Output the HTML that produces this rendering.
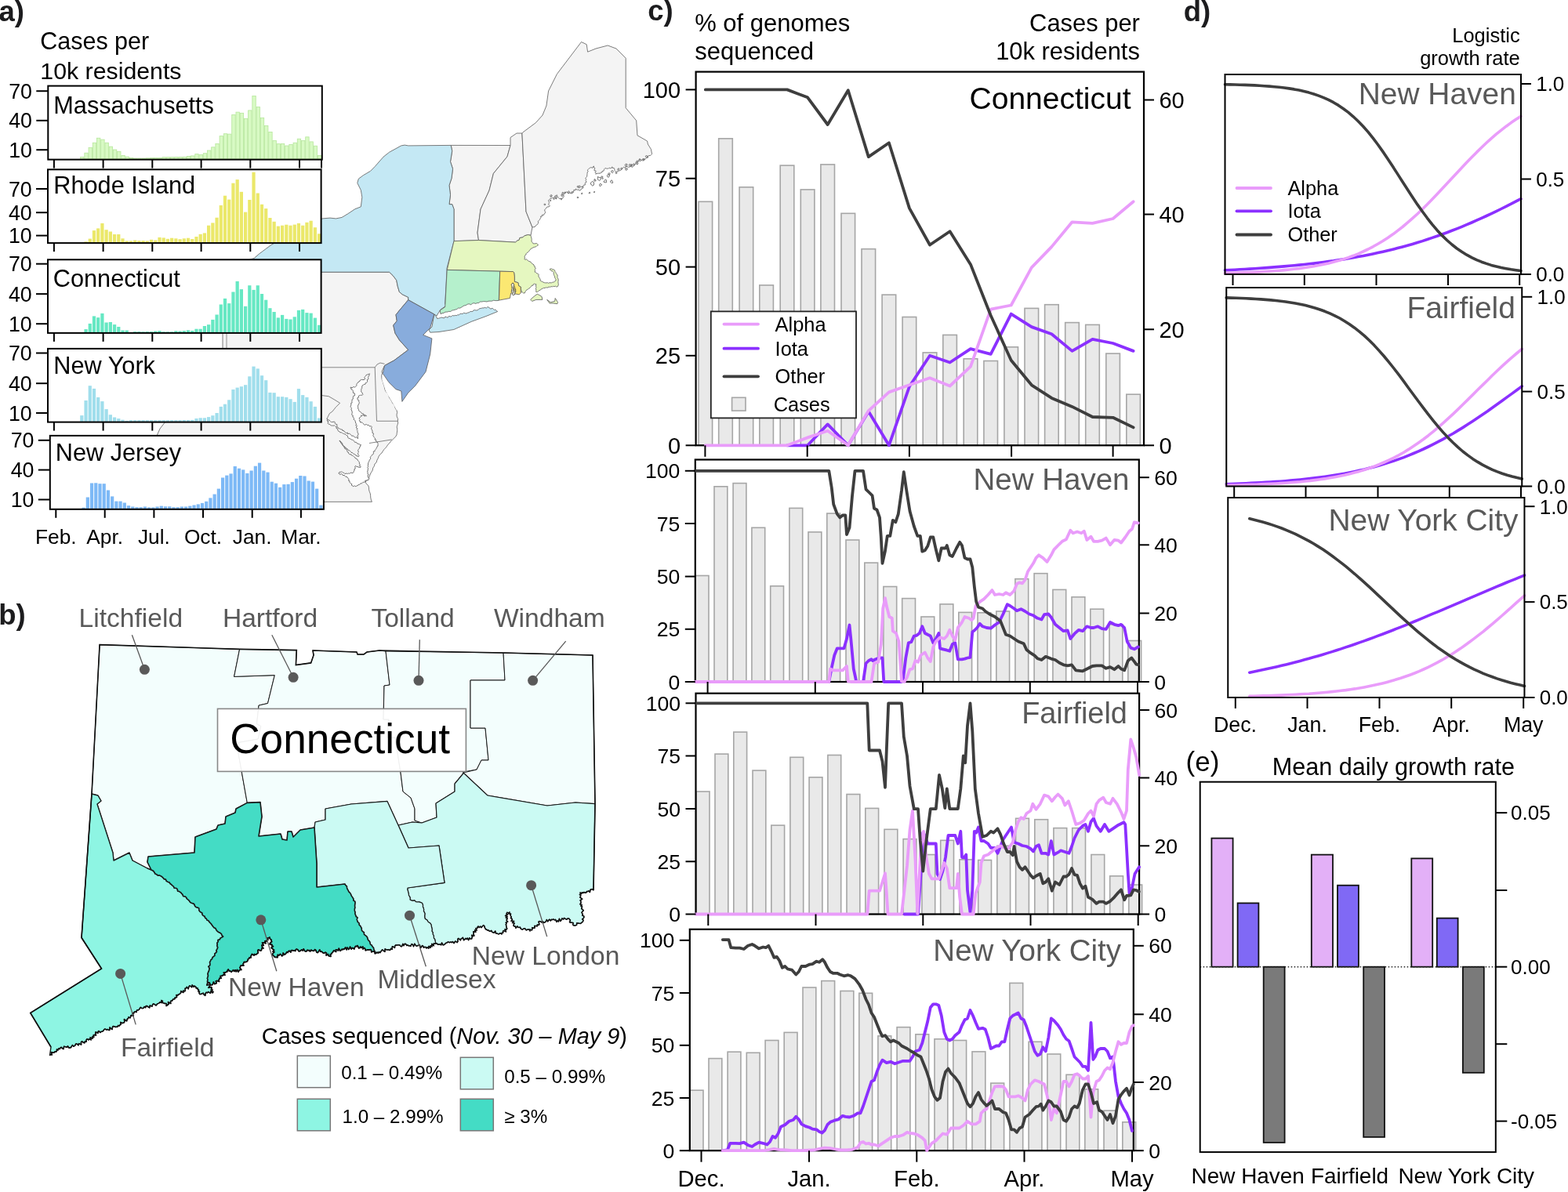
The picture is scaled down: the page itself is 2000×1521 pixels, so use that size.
<!DOCTYPE html>
<html><head><meta charset="utf-8"><title>Figure</title>
<style>html,body{margin:0;padding:0;background:#fff;overflow:hidden;} svg{display:block;} text{font-family:"Liberation Sans", Arial, Helvetica, sans-serif;}</style>
</head><body>
<svg width="2000" height="1521" viewBox="0 0 2000 1521">
<rect width="2000" height="1521" fill="#fff"/>
<polygon points="289.0,347.0 496.6,347.2 501.1,351.5 505.7,357.5 507.2,365.1 509.4,372.6 513.2,375.7 520.8,379.4 520.7,382.7 509.5,396.0 505.0,401.7 506.2,409.5 501.7,415.1 504.0,425.2 509.5,434.0 520.7,446.4 502.8,459.8 490.5,466.5 487.0,474.0 487.5,476.7 486.7,479.4 486.9,482.1 487.3,484.8 488.4,487.2 489.0,489.8 489.9,492.3 490.5,494.9 491.1,497.4 492.3,499.8 494.2,502.0 495.8,504.5 496.5,507.5 498.4,509.8 499.8,512.3 500.8,514.7 502.8,516.5 503.6,519.0 504.5,521.5 506.0,523.6 506.6,526.3 506.0,529.1 506.3,531.9 507.6,534.5 507.3,537.3 507.7,539.8 506.9,542.3 506.2,544.8 506.7,547.3 506.7,549.8 506.3,552.3 506.0,554.8 504.6,557.3 502.5,559.2 500.5,561.1 498.5,563.1 496.9,565.4 494.8,567.3 493.4,569.6 491.7,571.7 489.8,573.6 488.3,575.8 486.9,578.1 484.8,579.8 483.2,582.1 482.2,584.8 480.9,587.2 480.1,590.0 478.0,592.0 477.3,594.8 475.7,597.2 475.2,600.1 473.7,602.5 472.3,605.0 471.1,608.2 470.4,611.5 468.0,613.1 466.0,615.0 467.5,617.6 469.8,619.6 470.5,622.2 470.6,624.9 471.3,627.4 472.3,629.9 472.6,632.6 472.8,635.2 473.4,637.8 474.4,640.3 200.0,640.5 200.0,556.0 204.0,547.0 284.0,445.0 284.0,425.0 289.0,347.0" fill="#f4f4f4" stroke="#5a5a5a" stroke-width="0.8" stroke-linejoin="round"/>
<polyline points="200,468.8 478.2,468.8 480.5,537.3 507.3,537.3" fill="none" stroke="#6a6a6a" stroke-width="0.8"/>
<polyline points="478.2,468.8 481,465 485,463 490.5,464.3" fill="none" stroke="#6a6a6a" stroke-width="0.8"/>
<polyline points="289,425 289,445" fill="none" stroke="#7a7a7a" stroke-width="0.8"/>
<polygon points="471.6,476.9 470.5,477.3 469.3,477.7 468.2,478.2 467.1,478.5 466.4,479.8 465.5,480.7 464.8,481.6 465.8,483.3 464.6,484.0 464.1,485.0 463.0,484.2 461.8,484.7 460.6,484.3 459.5,485.0 459.1,486.3 457.8,486.7 457.2,487.9 456.0,488.4 455.4,489.3 454.8,490.3 455.1,491.7 454.2,492.5 453.5,493.4 452.6,494.2 451.4,493.6 450.2,493.9 449.2,495.1 447.9,494.1 446.8,494.7 448.0,495.4 448.0,496.9 449.5,497.4 450.3,498.4 450.3,499.9 450.5,501.4 452.3,501.9 452.6,503.4 452.5,504.8 450.7,505.3 450.3,506.6 450.3,508.0 450.3,509.2 448.8,510.1 449.2,511.4 448.7,512.5 449.2,513.9 447.6,514.6 448.0,516.0 447.7,517.1 447.2,518.3 447.3,519.5 448.4,520.6 448.2,521.8 448.0,522.9 448.8,524.0 449.0,525.1 449.3,526.2 449.1,527.4 448.7,528.7 449.1,529.8 450.4,530.4 449.8,532.0 450.9,532.7 451.5,533.7 451.1,535.2 452.2,535.9 453.0,536.8 453.2,538.0 453.7,539.0 453.6,540.2 454.9,541.2 453.6,542.6 455.5,543.5 454.4,544.9 454.5,546.1 456.2,547.0 455.0,548.4 456.0,549.4 456.0,550.6 455.9,551.8 457.0,552.8 457.0,554.0 456.9,555.2 455.6,556.4 457.0,557.5 456.1,558.7 456.6,559.8 455.9,558.5 454.8,557.9 453.2,558.3 452.2,557.7 451.2,556.9 450.4,555.9 448.7,556.4 448.0,555.2 447.2,554.3 446.2,553.7 445.2,553.1 443.5,553.9 443.2,551.9 441.5,552.8 440.7,551.9 439.9,550.9 438.8,550.6 438.3,549.3 436.8,549.5 436.5,548.0 435.2,548.0 434.1,547.7 433.2,547.0 432.2,546.6 431.2,546.1 430.7,544.8 429.6,544.2 429.9,542.7 429.8,541.4 427.9,541.2 427.2,540.4 427.3,539.0 426.3,537.9 425.0,538.5 423.8,538.5 422.6,538.6 421.5,537.9 420.7,537.1 420.0,536.0 418.7,535.9 417.7,535.2 416.9,534.4 418.0,535.3 417.0,536.9 418.8,537.6 418.4,539.0 418.2,540.3 419.2,541.3 420.5,541.0 421.4,542.4 422.5,543.1 423.8,542.8 424.8,543.4 426.3,542.6 427.3,543.6 428.1,544.4 429.2,545.0 429.0,546.6 430.4,546.9 430.9,547.9 430.9,549.4 431.8,550.1 433.0,550.6 433.8,551.9 435.3,551.7 436.5,552.3 437.4,553.2 438.8,553.4 439.9,554.0 441.0,554.5 441.8,555.4 443.0,555.8 443.6,556.9 443.8,558.5 444.8,559.2 446.1,559.5 447.1,560.1 448.0,560.9 449.2,561.2 450.4,561.4 451.3,562.3 451.9,563.7 452.8,564.4 454.3,564.2 455.0,565.4 456.0,566.0 457.1,566.4 458.3,566.7 459.3,567.5 460.6,567.8 459.6,568.5 459.7,569.9 458.6,570.5 458.7,571.9 457.8,572.6 457.2,573.6 456.7,574.8 456.9,575.9 457.6,577.0 456.4,578.2 456.9,579.4 457.1,580.5 458.1,581.6 457.2,582.8 456.2,582.1 454.9,582.0 454.2,580.8 453.0,580.5 452.2,579.4 450.9,579.3 450.1,578.4 449.4,577.5 448.0,577.5 447.4,576.4 446.6,575.6 445.7,574.8 444.3,574.9 443.9,573.5 443.0,572.8 441.9,572.4 441.3,571.3 439.9,571.3 439.9,569.9 438.5,569.4 437.9,568.5 436.7,568.0 436.9,566.3 436.4,565.3 435.0,564.9 434.7,563.7 434.0,562.8 433.0,562.1 433.4,563.3 434.9,563.8 434.8,565.4 435.8,566.2 436.4,567.3 437.5,568.0 437.9,569.2 438.8,570.1 439.0,571.3 439.9,572.0 440.4,573.0 442.0,573.2 442.5,574.2 442.7,575.4 443.0,576.6 444.3,577.0 444.5,578.2 445.2,579.2 446.2,579.8 447.8,579.6 448.2,580.9 449.4,581.3 450.5,581.7 451.3,582.5 452.1,583.5 453.1,584.0 453.7,585.1 455.0,585.6 456.1,586.3 456.5,587.8 457.5,588.6 458.3,589.7 458.3,590.9 458.5,592.0 459.4,593.1 458.4,594.4 460.2,595.3 459.5,596.6 458.3,596.3 457.0,596.1 456.0,595.4 454.6,595.4 453.7,594.3 452.7,595.2 453.1,596.7 453.2,598.0 451.8,598.8 452.3,600.3 451.1,601.2 451.0,602.5 450.3,603.5 449.1,603.5 447.9,603.1 446.8,603.5 445.7,604.4 444.5,603.9 443.4,604.6 442.3,604.1 441.0,604.3 439.8,604.5 438.8,603.4 437.6,603.2 436.6,602.3 435.5,602.0 434.2,602.4 433.0,602.3 431.9,604.1 433.0,604.3 433.7,605.6 435.3,604.5 436.3,605.0 437.0,606.2 438.0,606.7 439.3,606.3 440.1,607.5 440.9,608.4 442.2,608.1 443.0,608.9 443.5,610.0 444.5,610.7 445.0,611.8 444.6,613.4 446.1,613.8 445.9,615.3 446.6,616.3 447.7,616.9 448.8,617.6 448.3,619.2 449.7,619.7 450.3,620.7 451.4,620.3 452.5,619.9 453.9,620.9 454.9,619.8 456.0,619.6 457.0,618.7 458.3,618.4 459.3,617.8 460.0,616.7 461.4,616.9 462.3,616.0 463.2,615.2 464.6,615.4 465.6,614.9 465.9,613.0 467.4,613.3 468.2,612.3 469.8,612.8 470.4,611.5 470.7,610.3 469.5,609.3 469.4,608.1 468.9,607.0 470.2,605.6 468.8,604.7 469.1,603.4 468.7,602.3 468.8,601.1 469.2,600.0 469.2,598.9 469.6,597.7 468.6,596.5 469.8,595.4 469.1,594.2 469.6,593.1 469.4,591.9 469.8,590.8 469.9,589.6 470.8,588.8 471.1,587.7 471.4,586.6 472.5,585.8 472.7,584.7 472.3,583.2 473.1,582.4 473.9,581.5 474.4,580.5 475.7,579.9 476.3,578.9 476.4,577.6 476.3,576.1 478.1,575.8 478.2,574.5 479.0,573.6 479.6,572.7 480.3,571.8 480.7,570.8 481.0,569.6 482.2,569.0 481.8,567.6 482.5,566.7 481.7,565.8 481.7,564.3 480.1,563.9 479.6,562.8 479.8,561.3 478.0,561.0 478.5,559.2 477.6,558.3 476.7,557.5 476.3,556.5 475.8,555.5 476.4,554.2 476.4,553.0 474.8,552.3 475.1,551.1 475.0,550.0 474.6,548.9 474.1,547.9 473.5,547.0 474.0,545.7 474.1,544.5 473.3,543.6 472.0,544.1 470.9,543.5 470.0,542.2 468.7,542.5 467.7,541.7 466.5,541.6 465.0,542.4 464.1,541.3 463.1,540.4 462.2,539.4 461.1,538.8 459.5,539.0 459.6,537.8 458.1,536.9 459.2,535.4 458.3,534.4 458.4,533.0 459.7,532.2 460.8,531.3 460.6,529.8 461.7,530.4 463.0,529.6 464.1,530.0 465.1,531.3 466.5,530.2 467.5,531.0 466.6,530.1 465.4,529.7 464.1,529.3 463.6,527.9 462.0,528.0 461.1,527.2 460.4,526.1 459.5,525.2 458.2,524.7 457.5,523.8 457.5,522.4 457.0,521.3 456.0,520.6 457.0,519.7 456.1,518.1 457.0,517.1 457.2,515.9 458.1,514.9 458.3,513.7 457.7,512.6 457.9,511.0 456.4,510.4 456.0,509.1 455.9,507.6 457.5,507.0 457.2,505.4 458.3,504.5 459.5,504.5 460.6,504.0 461.9,504.4 462.9,503.4 462.4,502.2 461.9,501.0 460.8,500.1 460.6,498.8 460.9,497.7 460.6,496.4 461.8,495.4 461.6,494.2 461.8,493.0 462.3,491.7 463.4,491.1 464.5,490.5 465.9,490.3 466.2,488.7 467.5,488.4 468.3,487.4 468.7,486.2 468.2,484.7 469.6,484.0 469.8,482.7 469.5,481.3 469.9,480.2 471.0,479.3 470.8,477.9 471.6,476.9" fill="#fefefe" stroke="#505050" stroke-width="0.8" stroke-linejoin="round"/>
<polyline points="410.0,504.5 419.2,505.7 426.1,509.7 433.6,514.3 428.4,519.5 423.8,525.2 420.4,527.5 416.9,534.4" fill="none" stroke="#666" stroke-width="0.8"/>
<polyline points="471.0,565.5 499.8,560.9" fill="none" stroke="#666" stroke-width="0.8"/>
<polygon points="488.3,476.6 496.0,487.8 505.0,496.7 511.8,499.0 512.9,512.4 506.0,523.6 499.8,512.3 492.3,499.8 487.3,484.8" fill="#fefefe" stroke="none" stroke-width="0" stroke-linejoin="round"/>
<polygon points="575.2,185.4 651.0,185.5 647.0,199.8 629.4,221.4 624.0,243.0 613.0,267.0 609.0,297.0 610.5,306.5 579.0,307.8 579.0,266.8 576.7,260.7 573.0,260.7 574.5,248.6 573.0,236.5 576.0,227.5 577.5,215.4 574.5,206.3 576.7,192.7" fill="#f4f4f4" stroke="#5a5a5a" stroke-width="0.8" stroke-linejoin="round"/>
<polygon points="651.0,185.5 651.0,175.5 659.0,170.0 665.9,170.0 671.0,270.0 679.0,290.0 677.0,300.3 673.4,299.6 668.8,300.9 666.8,302.9 662.9,303.5 662.2,306.2 659.6,307.2 657.6,309.1 610.5,306.5 609.0,297.0 613.0,267.0 624.0,243.0 629.4,221.4 647.0,199.8" fill="#f4f4f4" stroke="#5a5a5a" stroke-width="0.8" stroke-linejoin="round"/>
<polygon points="665.9,170.0 667.0,168.8 683.4,156.6 692.0,147.0 696.9,135.0 699.6,116.0 710.4,94.5 741.5,53.5 748.2,56.7 749.6,66.2 760.0,62.0 775.2,58.0 786.0,62.0 798.2,74.3 798.2,137.7 811.7,153.9 813.0,172.8 825.6,180.0 826.4,184.0 830.4,190.4 831.6,196.4 830.6,197.5 829.6,198.5 828.0,198.4 826.6,199.1 826.5,201.2 824.6,201.2 823.7,202.5 822.4,203.2 821.3,205.0 819.2,204.8 818.1,204.0 816.3,204.2 816.0,202.4 815.2,203.5 815.0,205.2 814.1,206.2 812.5,206.6 810.8,207.0 811.2,209.2 809.6,209.6 809.1,211.4 807.2,212.1 806.4,213.6 804.9,212.2 803.2,213.0 801.6,213.3 800.0,212.8 798.3,212.0 797.5,214.7 795.5,213.1 794.4,214.4 793.4,215.7 792.3,216.8 791.1,217.6 789.5,218.0 788.0,218.4 786.5,219.0 787.1,221.0 785.6,221.6 785.3,220.1 785.0,218.6 783.8,217.4 783.8,215.8 783.2,214.4 781.4,214.5 780.8,212.8 780.1,214.4 778.7,214.7 777.0,214.2 776.0,215.2 774.6,215.1 773.2,215.1 772.0,214.4 771.0,215.4 770.5,216.7 770.0,218.1 768.2,218.4 768.0,220.0 766.5,219.9 765.5,221.4 763.9,221.0 762.6,221.5 761.1,221.1 760.0,222.4 760.3,221.0 758.9,219.9 760.3,218.2 757.8,217.4 758.3,215.9 758.9,214.4 757.0,213.5 757.6,212.0 756.4,212.7 755.8,214.4 753.8,213.6 752.5,214.1 751.5,215.2 750.4,216.0 749.2,217.1 750.3,218.8 749.1,219.9 749.1,221.3 748.9,222.6 748.8,224.0 748.6,225.4 747.4,226.5 746.9,227.8 747.8,229.3 747.0,230.6 748.3,232.2 746.4,233.2 746.3,234.6 746.4,236.0 744.5,236.2 743.9,237.6 744.0,239.6 742.9,240.5 741.4,241.0 740.8,242.4 739.2,243.3 738.2,241.9 736.8,242.3 735.4,242.1 734.4,240.8 734.1,242.7 731.8,242.4 731.9,244.7 730.6,245.5 729.3,246.3 728.0,247.2 727.0,245.7 724.8,247.0 723.7,245.5 722.4,244.8 721.6,245.9 720.1,246.6 719.6,247.8 718.7,248.9 719.3,250.9 718.3,251.8 717.7,253.1 715.9,253.5 716.0,255.2 716.0,253.3 713.5,253.7 712.6,252.6 711.7,251.4 710.8,250.3 710.4,248.8 709.2,249.5 707.9,250.0 707.1,251.4 706.2,252.7 704.5,252.5 703.4,253.3 701.9,253.6 700.8,254.4 699.5,255.7 700.1,257.1 700.4,258.5 700.0,259.9 699.8,261.2 701.3,262.7 700.0,264.0 698.1,263.9 697.0,265.0 696.0,266.4 694.8,267.7 694.8,269.1 695.7,270.6 695.2,272.0 694.2,273.0 693.6,274.4 691.6,274.1 691.4,276.1 689.6,276.0 690.0,277.8 689.0,278.9 688.5,280.2 687.4,281.3 686.4,282.4 686.6,284.4 685.9,285.8 684.8,287.0 683.2,288.0 682.2,289.6 680.6,289.7 679.0,290.0 671.0,270.0" fill="#f4f4f4" stroke="#5a5a5a" stroke-width="0.8" stroke-linejoin="round"/>
<polygon points="757.6,234.4 757.3,236.2 755.7,237.1 754.3,236.0 753.7,234.9 753.1,233.6 754.2,232.6 755.7,231.4 757.4,232.6" fill="#f4f4f4" stroke="#4a4a4a" stroke-width="0.8" stroke-linejoin="round"/>
<polygon points="766.5,228.0 765.8,229.5 764.4,230.5 763.2,229.5 762.0,228.7 762.4,227.4 762.5,225.4 764.3,226.5 766.2,226.2" fill="#f4f4f4" stroke="#4a4a4a" stroke-width="0.8" stroke-linejoin="round"/>
<polygon points="773.3,231.2 773.7,232.6 772.3,232.8 771.1,232.7 769.8,232.0 770.8,230.8 771.4,230.1 772.4,228.8 773.5,230.0" fill="#f4f4f4" stroke="#4a4a4a" stroke-width="0.8" stroke-linejoin="round"/>
<polygon points="781.2,231.6 781.8,233.1 780.4,233.8 779.4,232.7 778.5,232.2 778.8,231.2 779.3,230.3 780.3,229.8 781.0,230.8" fill="#f4f4f4" stroke="#4a4a4a" stroke-width="0.8" stroke-linejoin="round"/>
<polygon points="767.7,236.0 766.8,236.7 766.2,237.1 765.1,237.6 764.7,236.5 764.7,235.5 765.2,234.6 766.3,234.5 767.1,235.1" fill="#f4f4f4" stroke="#4a4a4a" stroke-width="0.8" stroke-linejoin="round"/>
<polygon points="777.0,224.0 777.4,225.1 776.4,226.0 775.0,225.8 774.4,224.6 774.7,223.5 775.3,222.8 776.3,222.3 777.3,222.9" fill="#f4f4f4" stroke="#4a4a4a" stroke-width="0.8" stroke-linejoin="round"/>
<polygon points="789.8,216.0 789.7,216.6 789.2,217.0 788.4,217.0 787.7,216.5 787.9,215.6 788.6,215.4 789.2,214.6 789.8,215.3" fill="#f4f4f4" stroke="#4a4a4a" stroke-width="0.8" stroke-linejoin="round"/>
<polygon points="800.3,216.0 799.8,216.7 799.2,217.2 798.4,217.1 797.5,216.5 798.1,215.7 798.3,214.8 799.2,215.0 800.2,215.0" fill="#f4f4f4" stroke="#4a4a4a" stroke-width="0.8" stroke-linejoin="round"/>
<polygon points="703.9,250.0 703.9,250.8 703.2,251.2 702.2,251.4 702.1,250.3 701.7,249.5 702.4,249.0 703.2,248.8 704.1,249.1" fill="#f4f4f4" stroke="#4a4a4a" stroke-width="0.8" stroke-linejoin="round"/>
<polygon points="710.5,252.0 709.9,252.7 709.3,253.5 708.6,252.7 707.6,252.5 708.0,251.6 708.6,251.2 709.2,250.7 710.1,251.0" fill="#f4f4f4" stroke="#4a4a4a" stroke-width="0.8" stroke-linejoin="round"/>
<polygon points="742.5,247.0 742.5,247.4 742.2,247.9 741.7,247.6 741.4,247.2 741.5,246.8 741.7,246.6 742.1,246.2 742.8,246.3" fill="#f4f4f4" stroke="#4a4a4a" stroke-width="0.8" stroke-linejoin="round"/>
<polygon points="738.0,252.0 737.6,252.5 737.1,252.5 736.7,252.6 736.1,252.3 736.1,251.7 736.6,251.3 737.1,251.4 737.6,251.5" fill="#f4f4f4" stroke="#4a4a4a" stroke-width="0.8" stroke-linejoin="round"/>
<polygon points="752.7,246.0 752.6,246.5 752.1,246.6 751.5,246.9 751.1,246.3 751.5,245.8 751.7,245.4 752.2,245.0 752.5,245.6" fill="#f4f4f4" stroke="#4a4a4a" stroke-width="0.8" stroke-linejoin="round"/>
<polygon points="758.9,245.0 758.5,245.4 758.1,245.7 757.6,245.7 757.5,245.2 757.5,244.8 757.7,244.5 758.1,244.3 758.6,244.5" fill="#f4f4f4" stroke="#4a4a4a" stroke-width="0.8" stroke-linejoin="round"/>
<polygon points="805.7,211.0 805.9,211.8 805.2,211.9 804.6,211.7 804.1,211.3 803.8,210.6 804.5,210.1 805.2,210.0 806.0,210.2" fill="#f4f4f4" stroke="#4a4a4a" stroke-width="0.8" stroke-linejoin="round"/>
<polygon points="814.3,206.0 813.9,206.7 813.2,206.9 812.5,206.9 811.8,206.4 811.9,205.6 812.5,205.1 813.1,205.2 813.7,205.4" fill="#f4f4f4" stroke="#4a4a4a" stroke-width="0.8" stroke-linejoin="round"/>
<polygon points="695.9,261.0 695.6,261.5 695.1,261.5 694.6,261.8 694.1,261.3 694.1,260.7 694.5,260.1 695.2,260.0 695.6,260.5" fill="#f4f4f4" stroke="#4a4a4a" stroke-width="0.8" stroke-linejoin="round"/>
<polygon points="702.9,256.0 702.6,256.4 702.2,256.5 701.8,256.5 701.6,256.2 701.3,255.7 701.7,255.4 702.2,255.3 702.7,255.5" fill="#f4f4f4" stroke="#4a4a4a" stroke-width="0.8" stroke-linejoin="round"/>
<polygon points="707.0,253.9 707.1,254.3 706.7,254.7 706.2,254.4 706.0,254.1 705.9,253.7 706.2,253.4 706.7,253.1 706.9,253.6" fill="#f4f4f4" stroke="#4a4a4a" stroke-width="0.8" stroke-linejoin="round"/>
<polygon points="709.9,253.4 709.8,253.7 709.6,254.0 709.1,254.0 708.8,253.6 708.7,253.1 709.2,252.9 709.5,253.0 709.9,253.0" fill="#f4f4f4" stroke="#4a4a4a" stroke-width="0.8" stroke-linejoin="round"/>
<polygon points="718.2,249.4 717.7,250.0 717.2,250.7 716.5,250.3 716.1,249.7 716.0,249.0 716.2,248.0 717.1,248.6 717.8,248.7" fill="#f4f4f4" stroke="#4a4a4a" stroke-width="0.8" stroke-linejoin="round"/>
<polygon points="719.2,246.6 718.9,247.1 718.4,247.6 717.7,247.4 716.8,247.1 717.1,246.2 717.5,245.4 718.3,245.7 719.1,245.8" fill="#f4f4f4" stroke="#4a4a4a" stroke-width="0.8" stroke-linejoin="round"/>
<polygon points="721.6,245.5 721.5,246.1 721.0,246.1 720.6,246.1 720.1,245.8 720.1,245.3 720.6,245.1 721.0,244.9 721.4,245.1" fill="#f4f4f4" stroke="#4a4a4a" stroke-width="0.8" stroke-linejoin="round"/>
<polygon points="726.5,245.0 726.4,245.8 725.7,246.3 724.7,246.3 724.4,245.4 724.3,244.6 724.9,244.2 725.7,243.8 726.2,244.4" fill="#f4f4f4" stroke="#4a4a4a" stroke-width="0.8" stroke-linejoin="round"/>
<polygon points="730.8,245.6 730.5,246.2 729.9,246.5 729.3,246.3 728.9,245.9 728.6,245.2 729.2,244.8 729.8,244.8 730.8,244.7" fill="#f4f4f4" stroke="#4a4a4a" stroke-width="0.8" stroke-linejoin="round"/>
<polygon points="738.6,238.3 738.8,239.3 737.9,239.5 737.1,239.2 736.3,238.8 736.2,237.8 737.1,237.4 737.8,237.4 738.6,237.5" fill="#f4f4f4" stroke="#4a4a4a" stroke-width="0.8" stroke-linejoin="round"/>
<polygon points="740.8,238.2 740.3,239.0 739.6,239.6 738.8,239.1 738.2,238.6 738.5,237.9 738.8,237.2 739.6,237.1 740.2,237.5" fill="#f4f4f4" stroke="#4a4a4a" stroke-width="0.8" stroke-linejoin="round"/>
<polygon points="743.2,238.5 743.2,239.0 742.7,239.0 742.3,238.9 742.1,238.7 741.8,238.2 742.3,238.0 742.7,238.1 743.2,238.0" fill="#f4f4f4" stroke="#4a4a4a" stroke-width="0.8" stroke-linejoin="round"/>
<polygon points="760.2,230.0 759.8,230.9 758.9,231.0 758.1,231.2 757.8,230.4 757.9,229.7 758.0,228.8 759.0,228.6 759.4,229.5" fill="#f4f4f4" stroke="#4a4a4a" stroke-width="0.8" stroke-linejoin="round"/>
<polygon points="769.2,225.7 768.4,226.1 768.1,226.5 767.6,226.3 767.3,226.0 767.3,225.5 767.4,224.8 768.1,225.0 768.5,225.3" fill="#f4f4f4" stroke="#4a4a4a" stroke-width="0.8" stroke-linejoin="round"/>
<polygon points="769.2,227.7 769.2,228.1 768.9,228.5 768.4,228.3 768.3,227.9 768.0,227.5 768.4,227.1 768.8,227.1 769.2,227.3" fill="#f4f4f4" stroke="#4a4a4a" stroke-width="0.8" stroke-linejoin="round"/>
<polygon points="778.2,221.8 778.0,222.6 777.2,222.9 776.4,222.8 776.0,222.1 775.8,221.4 776.5,220.9 777.2,220.8 777.8,221.1" fill="#f4f4f4" stroke="#4a4a4a" stroke-width="0.8" stroke-linejoin="round"/>
<polygon points="782.5,219.1 781.9,219.7 781.4,220.6 780.5,220.1 779.7,219.6 779.8,218.6 780.3,217.7 781.3,217.7 782.0,218.3" fill="#f4f4f4" stroke="#4a4a4a" stroke-width="0.8" stroke-linejoin="round"/>
<polygon points="793.8,214.9 793.7,215.7 793.0,216.3 792.0,216.2 792.0,215.2 792.0,214.7 792.3,214.2 792.9,214.2 793.3,214.4" fill="#f4f4f4" stroke="#4a4a4a" stroke-width="0.8" stroke-linejoin="round"/>
<polygon points="799.6,210.8 799.6,211.5 799.0,211.7 798.1,212.1 797.5,211.3 797.2,210.2 798.0,209.3 799.1,209.3 800.1,209.7" fill="#f4f4f4" stroke="#4a4a4a" stroke-width="0.8" stroke-linejoin="round"/>
<polygon points="804.3,210.8 804.3,211.4 803.8,212.4 802.9,211.8 802.6,211.1 802.1,210.3 802.9,209.8 803.7,209.5 804.3,210.1" fill="#f4f4f4" stroke="#4a4a4a" stroke-width="0.8" stroke-linejoin="round"/>
<polygon points="806.7,210.5 806.5,210.7 806.3,211.1 805.7,211.2 805.3,210.7 805.4,210.2 805.7,209.7 806.2,209.9 806.6,210.1" fill="#f4f4f4" stroke="#4a4a4a" stroke-width="0.8" stroke-linejoin="round"/>
<polygon points="809.3,209.7 809.0,210.2 808.5,210.6 808.1,210.1 807.8,209.9 807.7,209.5 807.9,209.0 808.5,208.8 809.0,209.2" fill="#f4f4f4" stroke="#4a4a4a" stroke-width="0.8" stroke-linejoin="round"/>
<polygon points="813.9,208.4 813.7,209.1 813.2,209.8 812.2,209.7 811.9,208.8 812.1,208.1 812.3,207.4 813.1,207.3 813.7,207.8" fill="#f4f4f4" stroke="#4a4a4a" stroke-width="0.8" stroke-linejoin="round"/>
<polygon points="817.5,204.6 817.4,205.3 816.7,205.9 816.1,205.3 815.3,205.0 815.0,204.0 815.8,203.3 816.7,203.6 817.4,203.8" fill="#f4f4f4" stroke="#4a4a4a" stroke-width="0.8" stroke-linejoin="round"/>
<polygon points="820.7,203.3 820.9,203.9 820.3,204.1 819.9,203.8 819.4,203.6 819.4,203.0 819.8,202.6 820.3,202.6 820.7,202.9" fill="#f4f4f4" stroke="#4a4a4a" stroke-width="0.8" stroke-linejoin="round"/>
<polygon points="822.2,202.9 822.3,203.5 821.7,203.5 821.3,203.5 821.0,203.2 821.2,202.8 821.3,202.4 821.7,202.5 822.0,202.6" fill="#f4f4f4" stroke="#4a4a4a" stroke-width="0.8" stroke-linejoin="round"/>
<polygon points="825.7,199.8 825.4,200.5 824.8,201.4 824.0,200.7 823.5,200.2 823.3,199.3 824.0,198.8 824.8,198.6 825.6,198.9" fill="#f4f4f4" stroke="#4a4a4a" stroke-width="0.8" stroke-linejoin="round"/>
<polygon points="516.2,185.1 520.8,185.9 575.2,185.4 576.7,192.7 574.5,206.3 577.5,215.4 576.0,227.5 573.0,236.5 574.5,248.6 573.0,260.7 576.7,260.7 579.0,266.8 579.0,307.6 570.0,342.4 570.0,345.4 567.7,387.8 569.2,390.0 561.6,395.3 557.0,403.0 553.8,401.0 520.7,382.7 520.8,379.4 513.2,375.7 509.4,372.6 507.2,365.1 505.7,357.5 501.1,351.5 496.6,347.2 289.0,347.2 289.0,340.0 324.2,329.5 330.2,324.2 339.3,317.4 345.4,312.9 380.0,292.0 411.1,278.9 421.0,278.1 428.5,278.9 436.1,277.4 443.7,272.8 452.7,266.8 460.3,263.8 461.8,251.7 460.3,242.6 455.8,233.5 457.3,228.2 463.3,223.7 472.4,218.4 478.4,212.3 489.0,200.2 496.6,194.2 511.7,185.9" fill="#c4e8f4" stroke="#5a5a5a" stroke-width="0.8" stroke-linejoin="round"/>
<polygon points="553.8,401.0 556.5,404.0 557.6,406.5 559.4,406.2 561.3,405.7 563.1,405.0 565.0,405.5 566.7,405.9 567.9,404.0 569.6,404.7 571.3,405.2 572.6,403.3 574.3,403.9 575.9,403.8 577.2,402.4 578.9,403.0 580.4,402.4 582.2,402.7 583.6,401.8 585.3,402.0 586.7,400.5 588.3,400.3 590.0,400.5 591.4,399.3 593.2,399.7 595.0,400.0 596.4,399.0 598.1,398.9 599.5,397.7 601.2,397.5 602.9,397.5 604.1,395.8 605.8,395.7 607.6,396.0 609.2,395.7 610.6,394.6 612.0,393.6 613.6,393.5 615.2,392.9 616.9,393.0 618.5,392.3 620.3,393.1 621.8,391.7 623.6,392.0 624.6,393.4 626.0,394.1 628.2,393.3 629.3,394.5 630.5,395.4 632.3,395.3 633.4,396.7 634.7,397.5 620.0,403.5 601.2,410.4 578.9,420.5 560.0,423.5 548.7,424.2 547.0,421.0 551.0,417.0" fill="#c4e8f4" stroke="#5a5a5a" stroke-width="0.8" stroke-linejoin="round"/>
<polygon points="579.0,307.6 610.5,306.5 657.6,309.1 659.6,307.2 662.2,306.2 662.9,303.5 666.8,302.9 668.8,300.9 673.4,299.6 677.0,300.3 677.3,301.6 677.6,302.9 678.0,304.2 678.2,305.4 678.0,306.8 678.2,308.4 679.2,309.5 680.0,310.8 681.5,310.9 683.1,310.7 684.6,310.5 685.7,311.6 686.5,312.8 685.0,313.5 683.9,314.7 682.6,315.1 681.2,315.4 679.9,316.0 678.7,316.7 677.3,317.2 676.5,318.5 675.4,319.3 674.6,320.7 673.5,321.8 672.1,322.6 671.2,323.5 671.1,324.8 669.9,325.5 669.4,326.6 669.1,327.9 669.5,329.3 668.8,330.5 670.0,331.3 671.6,330.8 672.7,331.8 673.6,332.8 674.7,333.5 676.0,333.8 677.2,334.4 677.8,335.7 678.8,336.5 680.0,337.1 681.0,337.9 681.1,339.3 682.4,340.0 682.2,341.5 683.3,342.3 682.7,343.4 682.0,344.4 682.8,345.9 681.9,346.9 683.2,347.4 684.1,348.4 685.3,349.0 686.5,349.6 687.2,350.6 686.8,352.0 687.2,353.2 687.9,354.2 688.6,355.4 689.2,356.7 689.2,358.1 690.4,358.9 691.8,359.3 693.0,360.2 694.4,360.7 695.7,360.9 697.1,360.9 698.5,360.7 699.7,361.4 700.8,360.7 702.0,360.8 703.3,360.9 704.4,360.3 705.6,360.1 706.9,359.7 707.8,358.8 708.9,358.1 709.0,356.7 708.4,355.5 707.7,354.3 707.6,352.9 706.9,351.7 706.4,350.4 706.1,349.1 706.3,347.6 705.4,346.6 704.3,345.9 703.0,345.6 702.2,344.4 701.0,343.7 702.2,342.9 703.6,343.0 704.8,343.8 706.5,343.9 707.6,345.0 707.9,346.4 708.8,347.5 709.3,348.7 710.1,349.8 710.9,350.9 711.2,352.1 710.9,353.4 711.0,354.6 712.1,355.6 712.1,356.9 712.2,358.1 711.9,359.6 712.0,361.1 712.3,362.5 712.2,364.0 710.9,366.0 709.6,365.9 708.3,365.1 706.9,365.7 705.6,365.3 704.4,365.9 702.9,365.6 701.7,366.4 700.2,366.0 699.0,366.7 697.7,367.2 696.3,366.7 695.1,367.6 693.7,367.3 692.5,368.0 691.2,368.4 690.1,369.1 689.2,370.2 687.9,370.6 686.7,371.6 685.5,372.4 683.9,372.6 683.5,371.4 684.1,370.1 683.4,368.9 683.6,367.6 684.0,366.4 683.5,365.2 683.7,363.9 683.9,362.7 682.5,362.7 681.3,362.1 680.3,362.8 679.9,364.2 678.2,364.3 677.7,365.5 676.7,366.3 676.0,367.3 674.7,368.1 673.4,369.0 672.1,369.9 671.0,370.6 670.4,371.6 669.8,372.7 669.4,373.9 667.7,374.0 666.4,372.9 664.8,372.6 665.2,371.2 664.7,369.9 664.5,368.6 664.5,367.3 664.2,366.0 661.6,364.7 660.9,360.7 656.3,359.4 656.3,352.9 655.6,347.6 654.3,346.6 637.7,346.2 570.2,344.4" fill="#e5f7c0" stroke="#5a5a5a" stroke-width="0.8" stroke-linejoin="round"/>
<polygon points="676.7,382.4 680.0,379.2 685.2,375.2 687.9,376.5 691.1,378.5 691.8,382.4 683.9,382.4 678.7,384.4" fill="#e5f7c0" stroke="#5a5a5a" stroke-width="0.8" stroke-linejoin="round"/>
<polygon points="697.7,382.4 702.3,385.7 707.6,384.4 708.2,380.5 711.5,385.7 710.9,387.7 705.6,387.0 701.0,387.0" fill="#e5f7c0" stroke="#5a5a5a" stroke-width="0.8" stroke-linejoin="round"/>
<polygon points="570.2,344.4 637.7,346.2 636.2,383.4 636.2,383.4 634.0,383.6 631.9,383.6 629.7,383.2 627.6,384.1 625.4,384.2 623.2,384.2 621.1,385.0 618.9,384.7 616.7,384.6 614.6,385.0 612.5,385.0 610.7,386.5 608.6,386.6 606.7,387.4 604.4,386.7 602.5,387.3 600.7,388.8 598.4,387.8 596.4,388.2 594.5,389.4 592.4,389.9 590.5,390.7 588.7,392.1 586.8,393.1 584.5,393.1 582.8,394.5 580.8,395.1 578.7,395.7 576.6,396.1 574.7,397.5 572.4,397.4 570.4,398.1 568.1,398.1 566.2,399.3 564.0,399.7 562.0,400.6 561.2,396.0 567.7,391.7" fill="#b5f0cc" stroke="#5a5a5a" stroke-width="0.8" stroke-linejoin="round"/>
<polygon points="637.7,346.2 654.3,346.6 655.6,347.6 656.3,352.9 656.3,359.4 660.9,360.7 661.6,364.7 664.2,366.0 664.2,373.9 662.2,375.9 651.7,373.9 650.4,380.5 636.6,383.1" fill="#fbe872" stroke="#5a5a5a" stroke-width="0.8" stroke-linejoin="round"/>
<polygon points="653.0,362.0 653.8,361.0 655.0,361.5 654.9,362.5 656.0,363.2 655.7,364.2 655.5,365.2 656.0,366.0 655.8,367.0 656.6,367.7 656.9,368.6 657.9,369.2 657.5,370.3 657.9,371.1 658.0,372.0 657.1,372.8 657.2,374.0 656.5,374.9 656.5,376.0 655.3,376.4 654.0,376.5 653.3,375.7 654.0,374.5 653.7,373.6 652.8,372.9 652.1,372.1 652.5,371.0 652.6,370.1 652.6,369.2 653.1,368.3 652.9,367.4 652.8,366.5 652.9,365.6 652.7,364.7 652.2,363.8 652.2,362.9 653.0,362.0" fill="#ececdc" stroke="#3a3a3a" stroke-width="0.8" stroke-linejoin="round"/>
<polygon points="655.2,364.5 656.8,366.5 657.0,372.5 655.6,371.5" fill="#fbe872" stroke="#3a3a3a" stroke-width="0.6" stroke-linejoin="round"/>
<polyline points="653.5,366 655,368 654,371 655.5,374" fill="none" stroke="#3a3a3a" stroke-width="0.7"/>
<polygon points="520.7,382.7 553.8,401.0 548.7,418.5 539.7,427.4 550.9,431.9 548.7,452.0 543.0,474.4 529.7,492.2 520.7,501.2 512.9,512.4 511.8,499.0 505.0,496.7 496.0,487.8 488.3,476.6 490.5,466.5 502.8,459.8 520.7,446.4 509.5,434.0 504.0,425.2 501.7,415.1 506.2,409.5 505.0,401.7 509.5,396.0" fill="#88acdc" stroke="#5a5a5a" stroke-width="0.8" stroke-linejoin="round"/>
<text x="-1.5" y="27.2" font-size="36.5" text-anchor="start" font-weight="bold" font-style="normal" fill="#1c1c1e">a)</text>
<text x="51.2" y="62.5" font-size="30.5" text-anchor="start" font-weight="normal" font-style="normal" fill="#000">Cases per</text>
<text x="51.3" y="100.6" font-size="30.3" text-anchor="start" font-weight="normal" font-style="normal" fill="#000">10k residents</text>
<rect x="61.3" y="109.6" width="349.5" height="94.0" fill="#fff" stroke="none"/>
<rect x="102.60" y="200.30" width="4.42" height="2.70" fill="#d8fac4" stroke="#b6e69c" stroke-width="0.8"/>
<rect x="107.82" y="195.20" width="4.42" height="7.80" fill="#d8fac4" stroke="#b6e69c" stroke-width="0.8"/>
<rect x="113.04" y="188.30" width="4.42" height="14.70" fill="#d8fac4" stroke="#b6e69c" stroke-width="0.8"/>
<rect x="118.26" y="182.20" width="4.42" height="20.80" fill="#d8fac4" stroke="#b6e69c" stroke-width="0.8"/>
<rect x="123.48" y="176.20" width="4.42" height="26.80" fill="#d8fac4" stroke="#b6e69c" stroke-width="0.8"/>
<rect x="128.70" y="178.10" width="4.42" height="24.90" fill="#d8fac4" stroke="#b6e69c" stroke-width="0.8"/>
<rect x="133.92" y="182.20" width="4.42" height="20.80" fill="#d8fac4" stroke="#b6e69c" stroke-width="0.8"/>
<rect x="139.14" y="187.10" width="4.42" height="15.90" fill="#d8fac4" stroke="#b6e69c" stroke-width="0.8"/>
<rect x="144.36" y="191.00" width="4.42" height="12.00" fill="#d8fac4" stroke="#b6e69c" stroke-width="0.8"/>
<rect x="149.58" y="193.30" width="4.42" height="9.70" fill="#d8fac4" stroke="#b6e69c" stroke-width="0.8"/>
<rect x="154.80" y="198.40" width="4.42" height="4.60" fill="#d8fac4" stroke="#b6e69c" stroke-width="0.8"/>
<rect x="160.02" y="200.10" width="4.42" height="2.90" fill="#d8fac4" stroke="#b6e69c" stroke-width="0.8"/>
<rect x="165.24" y="201.40" width="4.42" height="1.60" fill="#d8fac4" stroke="#b6e69c" stroke-width="0.8"/>
<rect x="170.46" y="202.00" width="4.42" height="1.00" fill="#d8fac4" stroke="#b6e69c" stroke-width="0.8"/>
<rect x="175.68" y="202.00" width="4.42" height="1.00" fill="#d8fac4" stroke="#b6e69c" stroke-width="0.8"/>
<rect x="180.90" y="202.00" width="4.42" height="1.00" fill="#d8fac4" stroke="#b6e69c" stroke-width="0.8"/>
<rect x="186.12" y="201.80" width="4.42" height="1.20" fill="#d8fac4" stroke="#b6e69c" stroke-width="0.8"/>
<rect x="191.34" y="201.60" width="4.42" height="1.40" fill="#d8fac4" stroke="#b6e69c" stroke-width="0.8"/>
<rect x="196.56" y="201.50" width="4.42" height="1.50" fill="#d8fac4" stroke="#b6e69c" stroke-width="0.8"/>
<rect x="201.78" y="201.40" width="4.42" height="1.60" fill="#d8fac4" stroke="#b6e69c" stroke-width="0.8"/>
<rect x="207.00" y="200.70" width="4.42" height="2.30" fill="#d8fac4" stroke="#b6e69c" stroke-width="0.8"/>
<rect x="212.22" y="200.70" width="4.42" height="2.30" fill="#d8fac4" stroke="#b6e69c" stroke-width="0.8"/>
<rect x="217.44" y="200.70" width="4.42" height="2.30" fill="#d8fac4" stroke="#b6e69c" stroke-width="0.8"/>
<rect x="222.66" y="200.50" width="4.42" height="2.50" fill="#d8fac4" stroke="#b6e69c" stroke-width="0.8"/>
<rect x="227.88" y="200.40" width="4.42" height="2.60" fill="#d8fac4" stroke="#b6e69c" stroke-width="0.8"/>
<rect x="233.10" y="200.30" width="4.42" height="2.70" fill="#d8fac4" stroke="#b6e69c" stroke-width="0.8"/>
<rect x="238.32" y="199.40" width="4.42" height="3.60" fill="#d8fac4" stroke="#b6e69c" stroke-width="0.8"/>
<rect x="243.54" y="198.90" width="4.42" height="4.10" fill="#d8fac4" stroke="#b6e69c" stroke-width="0.8"/>
<rect x="248.76" y="196.60" width="4.42" height="6.40" fill="#d8fac4" stroke="#b6e69c" stroke-width="0.8"/>
<rect x="253.98" y="197.50" width="4.42" height="5.50" fill="#d8fac4" stroke="#b6e69c" stroke-width="0.8"/>
<rect x="259.20" y="195.70" width="4.42" height="7.30" fill="#d8fac4" stroke="#b6e69c" stroke-width="0.8"/>
<rect x="264.42" y="192.00" width="4.42" height="11.00" fill="#d8fac4" stroke="#b6e69c" stroke-width="0.8"/>
<rect x="269.64" y="187.80" width="4.42" height="15.20" fill="#d8fac4" stroke="#b6e69c" stroke-width="0.8"/>
<rect x="274.86" y="183.40" width="4.42" height="19.60" fill="#d8fac4" stroke="#b6e69c" stroke-width="0.8"/>
<rect x="280.08" y="173.60" width="4.42" height="29.40" fill="#d8fac4" stroke="#b6e69c" stroke-width="0.8"/>
<rect x="285.30" y="170.70" width="4.42" height="32.30" fill="#d8fac4" stroke="#b6e69c" stroke-width="0.8"/>
<rect x="290.52" y="171.10" width="4.42" height="31.90" fill="#d8fac4" stroke="#b6e69c" stroke-width="0.8"/>
<rect x="295.74" y="146.40" width="4.42" height="56.60" fill="#d8fac4" stroke="#b6e69c" stroke-width="0.8"/>
<rect x="300.96" y="143.10" width="4.42" height="59.90" fill="#d8fac4" stroke="#b6e69c" stroke-width="0.8"/>
<rect x="306.18" y="144.30" width="4.42" height="58.70" fill="#d8fac4" stroke="#b6e69c" stroke-width="0.8"/>
<rect x="311.40" y="151.30" width="4.42" height="51.70" fill="#d8fac4" stroke="#b6e69c" stroke-width="0.8"/>
<rect x="316.62" y="140.90" width="4.42" height="62.10" fill="#d8fac4" stroke="#b6e69c" stroke-width="0.8"/>
<rect x="321.84" y="122.40" width="4.42" height="80.60" fill="#d8fac4" stroke="#b6e69c" stroke-width="0.8"/>
<rect x="327.06" y="136.50" width="4.42" height="66.50" fill="#d8fac4" stroke="#b6e69c" stroke-width="0.8"/>
<rect x="332.28" y="150.30" width="4.42" height="52.70" fill="#d8fac4" stroke="#b6e69c" stroke-width="0.8"/>
<rect x="337.50" y="160.50" width="4.42" height="42.50" fill="#d8fac4" stroke="#b6e69c" stroke-width="0.8"/>
<rect x="342.72" y="168.40" width="4.42" height="34.60" fill="#d8fac4" stroke="#b6e69c" stroke-width="0.8"/>
<rect x="347.94" y="179.50" width="4.42" height="23.50" fill="#d8fac4" stroke="#b6e69c" stroke-width="0.8"/>
<rect x="353.16" y="183.60" width="4.42" height="19.40" fill="#d8fac4" stroke="#b6e69c" stroke-width="0.8"/>
<rect x="358.38" y="183.40" width="4.42" height="19.60" fill="#d8fac4" stroke="#b6e69c" stroke-width="0.8"/>
<rect x="363.60" y="186.00" width="4.42" height="17.00" fill="#d8fac4" stroke="#b6e69c" stroke-width="0.8"/>
<rect x="368.82" y="184.40" width="4.42" height="18.60" fill="#d8fac4" stroke="#b6e69c" stroke-width="0.8"/>
<rect x="374.04" y="182.20" width="4.42" height="20.80" fill="#d8fac4" stroke="#b6e69c" stroke-width="0.8"/>
<rect x="379.26" y="177.20" width="4.42" height="25.80" fill="#d8fac4" stroke="#b6e69c" stroke-width="0.8"/>
<rect x="384.48" y="179.50" width="4.42" height="23.50" fill="#d8fac4" stroke="#b6e69c" stroke-width="0.8"/>
<rect x="389.70" y="174.80" width="4.42" height="28.20" fill="#d8fac4" stroke="#b6e69c" stroke-width="0.8"/>
<rect x="394.92" y="180.90" width="4.42" height="22.10" fill="#d8fac4" stroke="#b6e69c" stroke-width="0.8"/>
<rect x="400.14" y="186.20" width="4.42" height="16.80" fill="#d8fac4" stroke="#b6e69c" stroke-width="0.8"/>
<rect x="405.36" y="198.40" width="4.42" height="4.60" fill="#d8fac4" stroke="#b6e69c" stroke-width="0.8"/>
<rect x="61.3" y="109.6" width="349.5" height="94.0" fill="none" stroke="#000" stroke-width="2"/>
<line x1="46.3" y1="116.2" x2="61.3" y2="116.2" stroke="#000" stroke-width="2"/>
<text x="41.0" y="125.8" font-size="26.8" text-anchor="end" font-weight="normal" font-style="normal" fill="#000">70</text>
<line x1="46.3" y1="153.8" x2="61.3" y2="153.8" stroke="#000" stroke-width="2"/>
<text x="41.0" y="163.4" font-size="26.8" text-anchor="end" font-weight="normal" font-style="normal" fill="#000">40</text>
<line x1="46.3" y1="191.2" x2="61.3" y2="191.2" stroke="#000" stroke-width="2"/>
<text x="41.0" y="200.8" font-size="26.8" text-anchor="end" font-weight="normal" font-style="normal" fill="#000">10</text>
<line x1="68.9" y1="203.6" x2="68.9" y2="214.6" stroke="#000" stroke-width="2"/>
<line x1="131.6" y1="203.6" x2="131.6" y2="214.6" stroke="#000" stroke-width="2"/>
<line x1="194.3" y1="203.6" x2="194.3" y2="214.6" stroke="#000" stroke-width="2"/>
<line x1="256.6" y1="203.6" x2="256.6" y2="214.6" stroke="#000" stroke-width="2"/>
<line x1="319.3" y1="203.6" x2="319.3" y2="214.6" stroke="#000" stroke-width="2"/>
<line x1="382.0" y1="203.6" x2="382.0" y2="214.6" stroke="#000" stroke-width="2"/>
<line x1="410.0" y1="203.6" x2="410.0" y2="214.6" stroke="#000" stroke-width="2"/>
<text x="68.3" y="145.2" font-size="30.7" text-anchor="start" font-weight="normal" font-style="normal" fill="#000">Massachusetts</text>
<rect x="61.0" y="216.3" width="348.6" height="93.8" fill="#fff" stroke="none"/>
<rect x="107.42" y="308.30" width="4.22" height="1.30" fill="#ebe86a"/>
<rect x="112.64" y="304.60" width="4.22" height="5.00" fill="#ebe86a"/>
<rect x="117.86" y="294.10" width="4.22" height="15.50" fill="#ebe86a"/>
<rect x="123.08" y="291.40" width="4.22" height="18.20" fill="#ebe86a"/>
<rect x="128.30" y="284.90" width="4.22" height="24.70" fill="#ebe86a"/>
<rect x="133.52" y="293.20" width="4.22" height="16.40" fill="#ebe86a"/>
<rect x="138.74" y="295.50" width="4.22" height="14.10" fill="#ebe86a"/>
<rect x="143.96" y="299.00" width="4.22" height="10.60" fill="#ebe86a"/>
<rect x="149.18" y="299.00" width="4.22" height="10.60" fill="#ebe86a"/>
<rect x="154.40" y="304.30" width="4.22" height="5.30" fill="#ebe86a"/>
<rect x="159.62" y="307.40" width="4.22" height="2.20" fill="#ebe86a"/>
<rect x="164.84" y="307.40" width="4.22" height="2.20" fill="#ebe86a"/>
<rect x="170.06" y="306.50" width="4.22" height="3.10" fill="#ebe86a"/>
<rect x="175.28" y="307.10" width="4.22" height="2.50" fill="#ebe86a"/>
<rect x="180.50" y="307.10" width="4.22" height="2.50" fill="#ebe86a"/>
<rect x="185.72" y="307.40" width="4.22" height="2.20" fill="#ebe86a"/>
<rect x="190.94" y="305.80" width="4.22" height="3.80" fill="#ebe86a"/>
<rect x="196.16" y="306.50" width="4.22" height="3.10" fill="#ebe86a"/>
<rect x="201.38" y="302.90" width="4.22" height="6.70" fill="#ebe86a"/>
<rect x="206.60" y="303.40" width="4.22" height="6.20" fill="#ebe86a"/>
<rect x="211.82" y="304.80" width="4.22" height="4.80" fill="#ebe86a"/>
<rect x="217.04" y="303.70" width="4.22" height="5.90" fill="#ebe86a"/>
<rect x="222.26" y="304.30" width="4.22" height="5.30" fill="#ebe86a"/>
<rect x="227.48" y="305.20" width="4.22" height="4.40" fill="#ebe86a"/>
<rect x="232.70" y="304.30" width="4.22" height="5.30" fill="#ebe86a"/>
<rect x="237.92" y="303.70" width="4.22" height="5.90" fill="#ebe86a"/>
<rect x="243.14" y="305.00" width="4.22" height="4.60" fill="#ebe86a"/>
<rect x="248.36" y="302.00" width="4.22" height="7.60" fill="#ebe86a"/>
<rect x="253.58" y="298.80" width="4.22" height="10.80" fill="#ebe86a"/>
<rect x="258.80" y="297.40" width="4.22" height="12.20" fill="#ebe86a"/>
<rect x="264.02" y="287.70" width="4.22" height="21.90" fill="#ebe86a"/>
<rect x="269.24" y="284.40" width="4.22" height="25.20" fill="#ebe86a"/>
<rect x="274.46" y="277.70" width="4.22" height="31.90" fill="#ebe86a"/>
<rect x="279.68" y="262.00" width="4.22" height="47.60" fill="#ebe86a"/>
<rect x="284.90" y="249.70" width="4.22" height="59.90" fill="#ebe86a"/>
<rect x="290.12" y="254.60" width="4.22" height="55.00" fill="#ebe86a"/>
<rect x="295.34" y="233.70" width="4.22" height="75.90" fill="#ebe86a"/>
<rect x="300.56" y="229.10" width="4.22" height="80.50" fill="#ebe86a"/>
<rect x="305.78" y="244.80" width="4.22" height="64.80" fill="#ebe86a"/>
<rect x="311.00" y="270.60" width="4.22" height="39.00" fill="#ebe86a"/>
<rect x="316.22" y="255.00" width="4.22" height="54.60" fill="#ebe86a"/>
<rect x="321.44" y="219.70" width="4.22" height="89.90" fill="#ebe86a"/>
<rect x="326.66" y="246.50" width="4.22" height="63.10" fill="#ebe86a"/>
<rect x="331.88" y="260.80" width="4.22" height="48.80" fill="#ebe86a"/>
<rect x="337.10" y="266.10" width="4.22" height="43.50" fill="#ebe86a"/>
<rect x="342.32" y="278.00" width="4.22" height="31.60" fill="#ebe86a"/>
<rect x="347.54" y="282.80" width="4.22" height="26.80" fill="#ebe86a"/>
<rect x="352.76" y="288.60" width="4.22" height="21.00" fill="#ebe86a"/>
<rect x="357.98" y="287.70" width="4.22" height="21.90" fill="#ebe86a"/>
<rect x="363.20" y="286.70" width="4.22" height="22.90" fill="#ebe86a"/>
<rect x="368.42" y="287.70" width="4.22" height="21.90" fill="#ebe86a"/>
<rect x="373.64" y="286.60" width="4.22" height="23.00" fill="#ebe86a"/>
<rect x="378.86" y="284.90" width="4.22" height="24.70" fill="#ebe86a"/>
<rect x="384.08" y="287.70" width="4.22" height="21.90" fill="#ebe86a"/>
<rect x="389.30" y="283.80" width="4.22" height="25.80" fill="#ebe86a"/>
<rect x="394.52" y="281.70" width="4.22" height="27.90" fill="#ebe86a"/>
<rect x="399.74" y="290.20" width="4.22" height="19.40" fill="#ebe86a"/>
<rect x="404.96" y="298.30" width="4.22" height="11.30" fill="#ebe86a"/>
<rect x="61.0" y="216.3" width="348.6" height="93.8" fill="none" stroke="#000" stroke-width="2"/>
<line x1="46.0" y1="241.0" x2="61.0" y2="241.0" stroke="#000" stroke-width="2"/>
<text x="40.7" y="250.6" font-size="26.8" text-anchor="end" font-weight="normal" font-style="normal" fill="#000">70</text>
<line x1="46.0" y1="271.2" x2="61.0" y2="271.2" stroke="#000" stroke-width="2"/>
<text x="40.7" y="280.8" font-size="26.8" text-anchor="end" font-weight="normal" font-style="normal" fill="#000">40</text>
<line x1="46.0" y1="300.6" x2="61.0" y2="300.6" stroke="#000" stroke-width="2"/>
<text x="40.7" y="310.2" font-size="26.8" text-anchor="end" font-weight="normal" font-style="normal" fill="#000">10</text>
<line x1="68.9" y1="310.1" x2="68.9" y2="321.1" stroke="#000" stroke-width="2"/>
<line x1="131.6" y1="310.1" x2="131.6" y2="321.1" stroke="#000" stroke-width="2"/>
<line x1="194.3" y1="310.1" x2="194.3" y2="321.1" stroke="#000" stroke-width="2"/>
<line x1="256.6" y1="310.1" x2="256.6" y2="321.1" stroke="#000" stroke-width="2"/>
<line x1="319.3" y1="310.1" x2="319.3" y2="321.1" stroke="#000" stroke-width="2"/>
<line x1="382.0" y1="310.1" x2="382.0" y2="321.1" stroke="#000" stroke-width="2"/>
<text x="68.3" y="247.0" font-size="30.7" text-anchor="start" font-weight="normal" font-style="normal" fill="#000">Rhode Island</text>
<rect x="61.0" y="331.3" width="348.6" height="93.6" fill="#fff" stroke="none"/>
<rect x="107.42" y="420.10" width="4.22" height="4.30" fill="#66e8c3"/>
<rect x="112.64" y="412.90" width="4.22" height="11.50" fill="#66e8c3"/>
<rect x="117.86" y="403.40" width="4.22" height="21.00" fill="#66e8c3"/>
<rect x="123.08" y="405.20" width="4.22" height="19.20" fill="#66e8c3"/>
<rect x="128.30" y="399.90" width="4.22" height="24.50" fill="#66e8c3"/>
<rect x="133.52" y="411.50" width="4.22" height="12.90" fill="#66e8c3"/>
<rect x="138.74" y="411.00" width="4.22" height="13.40" fill="#66e8c3"/>
<rect x="143.96" y="414.10" width="4.22" height="10.30" fill="#66e8c3"/>
<rect x="149.18" y="417.00" width="4.22" height="7.40" fill="#66e8c3"/>
<rect x="154.40" y="421.50" width="4.22" height="2.90" fill="#66e8c3"/>
<rect x="159.62" y="421.50" width="4.22" height="2.90" fill="#66e8c3"/>
<rect x="170.06" y="423.20" width="4.22" height="1.20" fill="#66e8c3"/>
<rect x="175.28" y="423.20" width="4.22" height="1.20" fill="#66e8c3"/>
<rect x="180.50" y="423.40" width="4.22" height="1.00" fill="#66e8c3"/>
<rect x="185.72" y="423.20" width="4.22" height="1.20" fill="#66e8c3"/>
<rect x="190.94" y="423.20" width="4.22" height="1.20" fill="#66e8c3"/>
<rect x="196.16" y="422.50" width="4.22" height="1.90" fill="#66e8c3"/>
<rect x="201.38" y="422.10" width="4.22" height="2.30" fill="#66e8c3"/>
<rect x="206.60" y="423.40" width="4.22" height="1.00" fill="#66e8c3"/>
<rect x="211.82" y="423.40" width="4.22" height="1.00" fill="#66e8c3"/>
<rect x="217.04" y="423.40" width="4.22" height="1.00" fill="#66e8c3"/>
<rect x="222.26" y="422.30" width="4.22" height="2.10" fill="#66e8c3"/>
<rect x="227.48" y="422.50" width="4.22" height="1.90" fill="#66e8c3"/>
<rect x="232.70" y="422.10" width="4.22" height="2.30" fill="#66e8c3"/>
<rect x="237.92" y="421.30" width="4.22" height="3.10" fill="#66e8c3"/>
<rect x="243.14" y="422.00" width="4.22" height="2.40" fill="#66e8c3"/>
<rect x="248.36" y="419.70" width="4.22" height="4.70" fill="#66e8c3"/>
<rect x="253.58" y="419.70" width="4.22" height="4.70" fill="#66e8c3"/>
<rect x="258.80" y="416.00" width="4.22" height="8.40" fill="#66e8c3"/>
<rect x="264.02" y="414.20" width="4.22" height="10.20" fill="#66e8c3"/>
<rect x="269.24" y="407.90" width="4.22" height="16.50" fill="#66e8c3"/>
<rect x="274.46" y="401.50" width="4.22" height="22.90" fill="#66e8c3"/>
<rect x="279.68" y="388.50" width="4.22" height="35.90" fill="#66e8c3"/>
<rect x="284.90" y="380.90" width="4.22" height="43.50" fill="#66e8c3"/>
<rect x="290.12" y="387.10" width="4.22" height="37.30" fill="#66e8c3"/>
<rect x="295.34" y="372.50" width="4.22" height="51.90" fill="#66e8c3"/>
<rect x="300.56" y="358.90" width="4.22" height="65.50" fill="#66e8c3"/>
<rect x="305.78" y="369.10" width="4.22" height="55.30" fill="#66e8c3"/>
<rect x="311.00" y="390.80" width="4.22" height="33.60" fill="#66e8c3"/>
<rect x="316.22" y="364.20" width="4.22" height="60.20" fill="#66e8c3"/>
<rect x="321.44" y="369.90" width="4.22" height="54.50" fill="#66e8c3"/>
<rect x="326.66" y="364.20" width="4.22" height="60.20" fill="#66e8c3"/>
<rect x="331.88" y="375.00" width="4.22" height="49.40" fill="#66e8c3"/>
<rect x="337.10" y="382.70" width="4.22" height="41.70" fill="#66e8c3"/>
<rect x="342.32" y="393.20" width="4.22" height="31.20" fill="#66e8c3"/>
<rect x="347.54" y="398.00" width="4.22" height="26.40" fill="#66e8c3"/>
<rect x="352.76" y="405.40" width="4.22" height="19.00" fill="#66e8c3"/>
<rect x="357.98" y="401.90" width="4.22" height="22.50" fill="#66e8c3"/>
<rect x="363.20" y="406.90" width="4.22" height="17.50" fill="#66e8c3"/>
<rect x="368.42" y="407.50" width="4.22" height="16.90" fill="#66e8c3"/>
<rect x="373.64" y="404.30" width="4.22" height="20.10" fill="#66e8c3"/>
<rect x="378.86" y="395.90" width="4.22" height="28.50" fill="#66e8c3"/>
<rect x="384.08" y="394.90" width="4.22" height="29.50" fill="#66e8c3"/>
<rect x="389.30" y="399.10" width="4.22" height="25.30" fill="#66e8c3"/>
<rect x="394.52" y="399.60" width="4.22" height="24.80" fill="#66e8c3"/>
<rect x="399.74" y="405.60" width="4.22" height="18.80" fill="#66e8c3"/>
<rect x="404.96" y="414.80" width="4.22" height="9.60" fill="#66e8c3"/>
<rect x="61.0" y="331.3" width="348.6" height="93.6" fill="none" stroke="#000" stroke-width="2"/>
<line x1="46.0" y1="336.7" x2="61.0" y2="336.7" stroke="#000" stroke-width="2"/>
<text x="40.7" y="346.3" font-size="26.8" text-anchor="end" font-weight="normal" font-style="normal" fill="#000">70</text>
<line x1="46.0" y1="375.1" x2="61.0" y2="375.1" stroke="#000" stroke-width="2"/>
<text x="40.7" y="384.7" font-size="26.8" text-anchor="end" font-weight="normal" font-style="normal" fill="#000">40</text>
<line x1="46.0" y1="413.2" x2="61.0" y2="413.2" stroke="#000" stroke-width="2"/>
<text x="40.7" y="422.8" font-size="26.8" text-anchor="end" font-weight="normal" font-style="normal" fill="#000">10</text>
<line x1="68.9" y1="424.9" x2="68.9" y2="435.9" stroke="#000" stroke-width="2"/>
<line x1="131.6" y1="424.9" x2="131.6" y2="435.9" stroke="#000" stroke-width="2"/>
<line x1="194.3" y1="424.9" x2="194.3" y2="435.9" stroke="#000" stroke-width="2"/>
<line x1="256.6" y1="424.9" x2="256.6" y2="435.9" stroke="#000" stroke-width="2"/>
<line x1="319.3" y1="424.9" x2="319.3" y2="435.9" stroke="#000" stroke-width="2"/>
<line x1="382.0" y1="424.9" x2="382.0" y2="435.9" stroke="#000" stroke-width="2"/>
<text x="67.8" y="365.7" font-size="30.7" text-anchor="start" font-weight="normal" font-style="normal" fill="#000">Connecticut</text>
<rect x="61.0" y="444.9" width="348.8" height="93.7" fill="#fff" stroke="none"/>
<rect x="102.20" y="530.10" width="4.22" height="7.90" fill="#a0deec"/>
<rect x="107.42" y="511.00" width="4.22" height="27.00" fill="#a0deec"/>
<rect x="112.64" y="492.20" width="4.22" height="45.80" fill="#a0deec"/>
<rect x="117.86" y="495.90" width="4.22" height="42.10" fill="#a0deec"/>
<rect x="123.08" y="507.00" width="4.22" height="31.00" fill="#a0deec"/>
<rect x="128.30" y="512.10" width="4.22" height="25.90" fill="#a0deec"/>
<rect x="133.52" y="522.10" width="4.22" height="15.90" fill="#a0deec"/>
<rect x="138.74" y="529.20" width="4.22" height="8.80" fill="#a0deec"/>
<rect x="143.96" y="532.50" width="4.22" height="5.50" fill="#a0deec"/>
<rect x="149.18" y="534.10" width="4.22" height="3.90" fill="#a0deec"/>
<rect x="154.40" y="535.70" width="4.22" height="2.30" fill="#a0deec"/>
<rect x="159.62" y="536.90" width="4.22" height="1.10" fill="#a0deec"/>
<rect x="164.84" y="536.20" width="4.22" height="1.80" fill="#a0deec"/>
<rect x="170.06" y="536.20" width="4.22" height="1.80" fill="#a0deec"/>
<rect x="175.28" y="536.20" width="4.22" height="1.80" fill="#a0deec"/>
<rect x="180.50" y="536.20" width="4.22" height="1.80" fill="#a0deec"/>
<rect x="185.72" y="536.20" width="4.22" height="1.80" fill="#a0deec"/>
<rect x="190.94" y="536.20" width="4.22" height="1.80" fill="#a0deec"/>
<rect x="196.16" y="536.20" width="4.22" height="1.80" fill="#a0deec"/>
<rect x="201.38" y="536.20" width="4.22" height="1.80" fill="#a0deec"/>
<rect x="206.60" y="536.20" width="4.22" height="1.80" fill="#a0deec"/>
<rect x="211.82" y="536.20" width="4.22" height="1.80" fill="#a0deec"/>
<rect x="217.04" y="536.20" width="4.22" height="1.80" fill="#a0deec"/>
<rect x="222.26" y="536.20" width="4.22" height="1.80" fill="#a0deec"/>
<rect x="227.48" y="536.20" width="4.22" height="1.80" fill="#a0deec"/>
<rect x="232.70" y="536.00" width="4.22" height="2.00" fill="#a0deec"/>
<rect x="237.92" y="536.00" width="4.22" height="2.00" fill="#a0deec"/>
<rect x="243.14" y="535.90" width="4.22" height="2.10" fill="#a0deec"/>
<rect x="248.36" y="534.00" width="4.22" height="4.00" fill="#a0deec"/>
<rect x="253.58" y="533.30" width="4.22" height="4.70" fill="#a0deec"/>
<rect x="258.80" y="533.30" width="4.22" height="4.70" fill="#a0deec"/>
<rect x="264.02" y="532.10" width="4.22" height="5.90" fill="#a0deec"/>
<rect x="269.24" y="530.20" width="4.22" height="7.80" fill="#a0deec"/>
<rect x="274.46" y="527.00" width="4.22" height="11.00" fill="#a0deec"/>
<rect x="279.68" y="518.90" width="4.22" height="19.10" fill="#a0deec"/>
<rect x="284.90" y="515.70" width="4.22" height="22.30" fill="#a0deec"/>
<rect x="290.12" y="510.30" width="4.22" height="27.70" fill="#a0deec"/>
<rect x="295.34" y="497.00" width="4.22" height="41.00" fill="#a0deec"/>
<rect x="300.56" y="494.60" width="4.22" height="43.40" fill="#a0deec"/>
<rect x="305.78" y="493.20" width="4.22" height="44.80" fill="#a0deec"/>
<rect x="311.00" y="491.20" width="4.22" height="46.80" fill="#a0deec"/>
<rect x="316.22" y="480.30" width="4.22" height="57.70" fill="#a0deec"/>
<rect x="321.44" y="467.60" width="4.22" height="70.40" fill="#a0deec"/>
<rect x="326.66" y="470.40" width="4.22" height="67.60" fill="#a0deec"/>
<rect x="331.88" y="479.20" width="4.22" height="58.80" fill="#a0deec"/>
<rect x="337.10" y="485.20" width="4.22" height="52.80" fill="#a0deec"/>
<rect x="342.32" y="500.90" width="4.22" height="37.10" fill="#a0deec"/>
<rect x="347.54" y="501.20" width="4.22" height="36.80" fill="#a0deec"/>
<rect x="352.76" y="506.20" width="4.22" height="31.80" fill="#a0deec"/>
<rect x="357.98" y="506.20" width="4.22" height="31.80" fill="#a0deec"/>
<rect x="363.20" y="506.90" width="4.22" height="31.10" fill="#a0deec"/>
<rect x="368.42" y="509.20" width="4.22" height="28.80" fill="#a0deec"/>
<rect x="373.64" y="512.90" width="4.22" height="25.10" fill="#a0deec"/>
<rect x="378.86" y="496.10" width="4.22" height="41.90" fill="#a0deec"/>
<rect x="384.08" y="504.10" width="4.22" height="33.90" fill="#a0deec"/>
<rect x="389.30" y="506.90" width="4.22" height="31.10" fill="#a0deec"/>
<rect x="394.52" y="512.20" width="4.22" height="25.80" fill="#a0deec"/>
<rect x="399.74" y="518.90" width="4.22" height="19.10" fill="#a0deec"/>
<rect x="404.96" y="533.50" width="4.22" height="4.50" fill="#a0deec"/>
<rect x="61.0" y="444.9" width="348.8" height="93.7" fill="none" stroke="#000" stroke-width="2"/>
<line x1="46.0" y1="450.5" x2="61.0" y2="450.5" stroke="#000" stroke-width="2"/>
<text x="40.7" y="460.1" font-size="26.8" text-anchor="end" font-weight="normal" font-style="normal" fill="#000">70</text>
<line x1="46.0" y1="489.2" x2="61.0" y2="489.2" stroke="#000" stroke-width="2"/>
<text x="40.7" y="498.8" font-size="26.8" text-anchor="end" font-weight="normal" font-style="normal" fill="#000">40</text>
<line x1="46.0" y1="527.0" x2="61.0" y2="527.0" stroke="#000" stroke-width="2"/>
<text x="40.7" y="536.6" font-size="26.8" text-anchor="end" font-weight="normal" font-style="normal" fill="#000">10</text>
<line x1="68.9" y1="538.6" x2="68.9" y2="549.6" stroke="#000" stroke-width="2"/>
<line x1="131.6" y1="538.6" x2="131.6" y2="549.6" stroke="#000" stroke-width="2"/>
<line x1="194.3" y1="538.6" x2="194.3" y2="549.6" stroke="#000" stroke-width="2"/>
<line x1="256.6" y1="538.6" x2="256.6" y2="549.6" stroke="#000" stroke-width="2"/>
<line x1="319.3" y1="538.6" x2="319.3" y2="549.6" stroke="#000" stroke-width="2"/>
<line x1="382.0" y1="538.6" x2="382.0" y2="549.6" stroke="#000" stroke-width="2"/>
<text x="68.3" y="477.0" font-size="30.7" text-anchor="start" font-weight="normal" font-style="normal" fill="#000">New York</text>
<rect x="63.8" y="555.9" width="349.1" height="93.9" fill="#fff" stroke="none"/>
<rect x="104.50" y="647.70" width="4.22" height="1.20" fill="#7db9f6"/>
<rect x="109.72" y="634.50" width="4.22" height="14.40" fill="#7db9f6"/>
<rect x="114.94" y="616.50" width="4.22" height="32.40" fill="#7db9f6"/>
<rect x="120.16" y="616.30" width="4.22" height="32.60" fill="#7db9f6"/>
<rect x="125.38" y="617.20" width="4.22" height="31.70" fill="#7db9f6"/>
<rect x="130.60" y="617.20" width="4.22" height="31.70" fill="#7db9f6"/>
<rect x="135.82" y="625.50" width="4.22" height="23.40" fill="#7db9f6"/>
<rect x="141.04" y="633.40" width="4.22" height="15.50" fill="#7db9f6"/>
<rect x="146.26" y="639.60" width="4.22" height="9.30" fill="#7db9f6"/>
<rect x="151.48" y="639.60" width="4.22" height="9.30" fill="#7db9f6"/>
<rect x="156.70" y="641.50" width="4.22" height="7.40" fill="#7db9f6"/>
<rect x="161.92" y="645.20" width="4.22" height="3.70" fill="#7db9f6"/>
<rect x="167.14" y="646.50" width="4.22" height="2.40" fill="#7db9f6"/>
<rect x="172.36" y="647.20" width="4.22" height="1.70" fill="#7db9f6"/>
<rect x="177.58" y="647.20" width="4.22" height="1.70" fill="#7db9f6"/>
<rect x="182.80" y="646.50" width="4.22" height="2.40" fill="#7db9f6"/>
<rect x="188.02" y="647.40" width="4.22" height="1.50" fill="#7db9f6"/>
<rect x="193.24" y="647.40" width="4.22" height="1.50" fill="#7db9f6"/>
<rect x="198.46" y="646.50" width="4.22" height="2.40" fill="#7db9f6"/>
<rect x="203.68" y="645.60" width="4.22" height="3.30" fill="#7db9f6"/>
<rect x="208.90" y="646.30" width="4.22" height="2.60" fill="#7db9f6"/>
<rect x="214.12" y="646.30" width="4.22" height="2.60" fill="#7db9f6"/>
<rect x="219.34" y="647.20" width="4.22" height="1.70" fill="#7db9f6"/>
<rect x="224.56" y="647.20" width="4.22" height="1.70" fill="#7db9f6"/>
<rect x="229.78" y="646.50" width="4.22" height="2.40" fill="#7db9f6"/>
<rect x="235.00" y="646.50" width="4.22" height="2.40" fill="#7db9f6"/>
<rect x="240.22" y="645.60" width="4.22" height="3.30" fill="#7db9f6"/>
<rect x="245.44" y="644.50" width="4.22" height="4.40" fill="#7db9f6"/>
<rect x="250.66" y="643.40" width="4.22" height="5.50" fill="#7db9f6"/>
<rect x="255.88" y="641.90" width="4.22" height="7.00" fill="#7db9f6"/>
<rect x="261.10" y="639.80" width="4.22" height="9.10" fill="#7db9f6"/>
<rect x="266.32" y="635.40" width="4.22" height="13.50" fill="#7db9f6"/>
<rect x="271.54" y="630.60" width="4.22" height="18.30" fill="#7db9f6"/>
<rect x="276.76" y="623.60" width="4.22" height="25.30" fill="#7db9f6"/>
<rect x="281.98" y="609.50" width="4.22" height="39.40" fill="#7db9f6"/>
<rect x="287.20" y="606.60" width="4.22" height="42.30" fill="#7db9f6"/>
<rect x="292.42" y="604.40" width="4.22" height="44.50" fill="#7db9f6"/>
<rect x="297.64" y="595.00" width="4.22" height="53.90" fill="#7db9f6"/>
<rect x="302.86" y="597.70" width="4.22" height="51.20" fill="#7db9f6"/>
<rect x="308.08" y="599.40" width="4.22" height="49.50" fill="#7db9f6"/>
<rect x="313.30" y="603.90" width="4.22" height="45.00" fill="#7db9f6"/>
<rect x="318.52" y="600.50" width="4.22" height="48.40" fill="#7db9f6"/>
<rect x="323.74" y="594.70" width="4.22" height="54.20" fill="#7db9f6"/>
<rect x="328.96" y="590.60" width="4.22" height="58.30" fill="#7db9f6"/>
<rect x="334.18" y="600.50" width="4.22" height="48.40" fill="#7db9f6"/>
<rect x="339.40" y="602.60" width="4.22" height="46.30" fill="#7db9f6"/>
<rect x="344.62" y="614.70" width="4.22" height="34.20" fill="#7db9f6"/>
<rect x="349.84" y="616.70" width="4.22" height="32.20" fill="#7db9f6"/>
<rect x="355.06" y="621.80" width="4.22" height="27.10" fill="#7db9f6"/>
<rect x="360.28" y="618.10" width="4.22" height="30.80" fill="#7db9f6"/>
<rect x="365.50" y="617.80" width="4.22" height="31.10" fill="#7db9f6"/>
<rect x="370.72" y="615.10" width="4.22" height="33.80" fill="#7db9f6"/>
<rect x="375.94" y="610.70" width="4.22" height="38.20" fill="#7db9f6"/>
<rect x="381.16" y="607.00" width="4.22" height="41.90" fill="#7db9f6"/>
<rect x="386.38" y="607.50" width="4.22" height="41.40" fill="#7db9f6"/>
<rect x="391.60" y="613.50" width="4.22" height="35.40" fill="#7db9f6"/>
<rect x="396.82" y="614.60" width="4.22" height="34.30" fill="#7db9f6"/>
<rect x="402.04" y="623.60" width="4.22" height="25.30" fill="#7db9f6"/>
<rect x="407.26" y="644.60" width="4.22" height="4.30" fill="#7db9f6"/>
<rect x="63.8" y="555.9" width="349.1" height="93.9" fill="none" stroke="#000" stroke-width="2"/>
<line x1="48.8" y1="561.8" x2="63.8" y2="561.8" stroke="#000" stroke-width="2"/>
<text x="43.5" y="571.4" font-size="26.8" text-anchor="end" font-weight="normal" font-style="normal" fill="#000">70</text>
<line x1="48.8" y1="599.6" x2="63.8" y2="599.6" stroke="#000" stroke-width="2"/>
<text x="43.5" y="609.2" font-size="26.8" text-anchor="end" font-weight="normal" font-style="normal" fill="#000">40</text>
<line x1="48.8" y1="637.5" x2="63.8" y2="637.5" stroke="#000" stroke-width="2"/>
<text x="43.5" y="647.1" font-size="26.8" text-anchor="end" font-weight="normal" font-style="normal" fill="#000">10</text>
<line x1="71.3" y1="649.8" x2="71.3" y2="660.8" stroke="#000" stroke-width="2"/>
<line x1="133.7" y1="649.8" x2="133.7" y2="660.8" stroke="#000" stroke-width="2"/>
<line x1="196.4" y1="649.8" x2="196.4" y2="660.8" stroke="#000" stroke-width="2"/>
<line x1="259.0" y1="649.8" x2="259.0" y2="660.8" stroke="#000" stroke-width="2"/>
<line x1="321.7" y1="649.8" x2="321.7" y2="660.8" stroke="#000" stroke-width="2"/>
<line x1="383.9" y1="649.8" x2="383.9" y2="660.8" stroke="#000" stroke-width="2"/>
<text x="70.8" y="588.0" font-size="30.7" text-anchor="start" font-weight="normal" font-style="normal" fill="#000">New Jersey</text>
<text x="71.3" y="693.6" font-size="26.3" text-anchor="middle" font-weight="normal" font-style="normal" fill="#000">Feb.</text>
<text x="133.7" y="693.6" font-size="26.3" text-anchor="middle" font-weight="normal" font-style="normal" fill="#000">Apr.</text>
<text x="196.4" y="693.6" font-size="26.3" text-anchor="middle" font-weight="normal" font-style="normal" fill="#000">Jul.</text>
<text x="259.0" y="693.6" font-size="26.3" text-anchor="middle" font-weight="normal" font-style="normal" fill="#000">Oct.</text>
<text x="321.7" y="693.6" font-size="26.3" text-anchor="middle" font-weight="normal" font-style="normal" fill="#000">Jan.</text>
<text x="383.9" y="693.6" font-size="26.3" text-anchor="middle" font-weight="normal" font-style="normal" fill="#000">Mar.</text>
<text x="-1.7" y="796.9" font-size="36.5" text-anchor="start" font-weight="bold" font-style="normal" fill="#1c1c1e">b)</text>
<polygon points="127.1,822.6 305.6,828.4 298.6,863.4 350.3,861.6 341.5,897.5 330.1,900.1 327.5,923.8 332.8,926.4 329.3,943.0 304.8,947.4 303.9,960.5 315.3,1024.4 301.0,1032.0 300.0,1037.0 288.0,1042.0 287.0,1051.0 278.0,1053.0 276.0,1058.0 249.0,1068.0 248.0,1088.0 189.0,1093.0 188.0,1100.0 193.0,1110.0 188.0,1108.0 169.0,1098.0 165.0,1088.0 145.0,1098.0 144.0,1088.0 124.0,1026.0 129.0,1022.0 125.0,1015.0 117.0,1013.0" fill="#f3fefd" stroke="#1a1a1a" stroke-width="1.0" stroke-linejoin="round"/>
<polygon points="305.6,828.4 378.3,829.6 377.4,848.5 396.6,845.9 400.0,836.0 399.0,830.0 455.0,832.0 456.0,835.0 464.0,835.0 468.0,832.0 484.0,830.0 492.0,831.0 497.0,874.0 490.0,875.0 489.0,918.0 496.0,918.0 494.0,941.0 504.0,941.0 511.0,986.0 514.0,1010.0 524.0,1018.0 529.0,1032.0 529.0,1047.0 538.0,1050.0 526.0,1049.0 508.0,1053.0 494.0,1022.4 448.0,1026.0 415.0,1032.0 415.0,1046.0 402.0,1049.0 401.0,1056.0 383.0,1059.0 374.0,1068.0 372.0,1061.0 367.0,1061.0 366.0,1072.0 360.0,1071.0 358.0,1064.0 330.0,1067.0 334.0,1042.0 332.0,1023.6 315.3,1024.4 303.9,960.5 304.8,947.4 329.3,943.0 332.8,926.4 327.5,923.8 330.1,900.1 341.5,897.5 350.3,861.6 298.6,863.4" fill="#f3fefd" stroke="#1a1a1a" stroke-width="1.0" stroke-linejoin="round"/>
<polygon points="492.0,831.0 642.0,833.0 644.0,868.0 600.0,868.0 600.0,929.0 619.0,929.0 623.0,970.0 614.0,970.0 608.0,982.0 591.0,985.0 590.0,988.0 580.0,1000.0 580.0,1010.0 556.0,1025.0 557.0,1043.0 538.0,1050.0 529.0,1047.0 529.0,1032.0 524.0,1018.0 514.0,1010.0 511.0,986.0 504.0,941.0 494.0,941.0 496.0,918.0 489.0,918.0 490.0,875.0 497.0,874.0" fill="#f3fefd" stroke="#1a1a1a" stroke-width="1.0" stroke-linejoin="round"/>
<polygon points="642.0,833.0 756.0,836.0 759.0,1025.6 734.0,1024.0 698.0,1028.0 622.0,1015.0 591.0,986.0 608.0,982.0 614.0,970.0 623.0,970.0 619.0,929.0 600.0,929.0 600.0,868.0 644.0,868.0" fill="#f3fefd" stroke="#1a1a1a" stroke-width="1.0" stroke-linejoin="round"/>
<polygon points="591.0,986.0 622.0,1015.0 698.0,1028.0 734.0,1024.0 759.0,1025.6 757.0,1136.0 755.5,1134.5 754.3,1134.7 753.1,1135.1 752.4,1138.5 750.9,1136.7 749.8,1137.6 748.5,1137.4 747.5,1139.2 746.3,1139.1 744.9,1138.4 743.8,1139.5 742.5,1138.7 741.5,1140.7 740.0,1139.0 741.8,1140.0 739.4,1141.5 740.7,1142.6 740.5,1143.8 739.8,1145.1 741.4,1146.2 742.7,1147.2 740.0,1148.8 740.9,1149.9 740.8,1151.1 741.0,1152.3 739.8,1153.7 742.3,1154.6 740.9,1156.0 742.6,1157.0 741.9,1158.3 741.7,1159.6 743.2,1160.6 744.3,1161.7 742.9,1163.1 742.0,1164.4 742.7,1165.6 743.4,1166.7 742.7,1168.0 744.7,1169.0 744.9,1170.2 744.4,1171.5 742.6,1172.9 744.0,1174.0 743.6,1175.7 742.6,1176.7 741.6,1177.5 740.6,1178.4 739.0,1178.3 737.2,1178.0 735.6,1177.8 735.6,1180.2 734.4,1180.7 733.0,1181.0 731.5,1180.7 730.6,1179.8 731.1,1177.5 729.5,1177.3 727.8,1177.2 726.5,1176.7 727.5,1173.9 726.4,1173.2 725.8,1172.0 724.0,1172.0 722.9,1173.3 721.3,1172.5 719.6,1171.4 718.6,1173.0 716.9,1171.9 716.0,1174.0 714.9,1175.4 713.4,1172.3 712.4,1176.1 711.1,1174.7 710.0,1176.4 708.5,1173.3 707.3,1173.9 705.9,1172.9 704.8,1173.6 703.5,1173.2 702.4,1174.9 701.0,1173.2 699.8,1174.2 698.7,1175.9 697.3,1173.5 696.2,1176.0 695.0,1176.8 693.8,1177.4 692.5,1175.9 691.3,1177.1 690.0,1176.0 687.9,1175.5 687.0,1176.2 687.9,1179.3 687.3,1180.4 685.3,1179.9 685.3,1181.8 683.4,1181.5 681.7,1181.4 682.2,1183.9 680.9,1184.2 678.7,1183.6 678.9,1185.8 678.3,1186.9 675.9,1186.0 676.0,1188.0 675.2,1186.4 674.1,1185.8 672.7,1186.2 671.2,1186.9 670.3,1185.5 669.3,1184.6 667.9,1185.0 666.3,1186.2 665.2,1185.6 664.1,1184.8 663.4,1183.1 661.9,1183.5 660.8,1183.2 659.9,1181.8 657.9,1184.2 657.3,1181.9 656.0,1182.0 655.0,1181.0 655.4,1179.5 656.1,1178.0 653.4,1177.5 655.7,1175.4 652.0,1175.3 653.4,1173.5 653.0,1172.3 651.4,1171.5 652.2,1169.9 651.5,1168.8 651.0,1167.7 651.6,1166.1 648.5,1165.8 650.0,1164.0 648.9,1165.1 646.8,1164.3 646.0,1166.0 647.4,1167.2 644.5,1168.5 647.2,1169.8 645.3,1171.0 647.3,1172.2 646.2,1173.5 646.3,1174.8 647.7,1176.0 645.2,1177.2 646.1,1178.5 645.2,1179.8 645.8,1181.0 645.8,1182.2 645.9,1183.5 646.8,1184.8 646.0,1186.0 644.0,1185.7 645.5,1188.9 642.4,1187.5 641.5,1188.4 641.7,1190.3 640.1,1190.4 640.0,1192.0 638.9,1191.0 637.6,1191.0 636.1,1191.9 634.9,1191.5 633.7,1191.0 632.4,1190.9 631.8,1188.1 630.0,1190.2 628.8,1189.7 627.6,1189.2 626.8,1187.4 625.2,1188.4 624.0,1188.0 623.3,1187.0 621.6,1187.0 620.8,1186.1 619.4,1185.7 618.9,1184.5 618.2,1183.5 618.0,1182.0 616.7,1180.6 615.3,1182.0 614.0,1183.6 612.7,1182.1 611.3,1183.5 610.0,1182.0 609.1,1183.0 608.9,1184.3 606.8,1184.6 608.2,1186.9 605.5,1186.8 606.9,1189.2 603.7,1188.8 604.2,1190.6 604.0,1192.0 604.9,1194.0 601.6,1193.3 602.7,1195.5 601.8,1196.3 601.8,1197.8 600.0,1198.0 598.8,1196.7 597.6,1199.6 596.4,1197.0 595.2,1198.4 594.0,1197.3 592.8,1198.8 591.6,1199.7 590.4,1196.3 589.2,1197.4 588.0,1198.0 587.4,1199.8 584.9,1197.4 583.8,1198.2 584.0,1201.4 583.1,1202.6 580.9,1201.0 580.0,1202.0 579.0,1203.6 577.4,1201.5 576.3,1202.7 574.9,1201.9 573.7,1202.7 572.3,1202.1 571.1,1202.0 569.9,1203.1 568.7,1203.3 567.6,1204.6 566.5,1205.5 565.2,1205.9 563.5,1203.0 562.7,1205.8 561.3,1205.1 560.0,1205.0 558.5,1205.4 557.4,1203.9 556.0,1204.0 555.5,1202.3 555.0,1200.5 554.7,1198.7 553.4,1197.2 553.3,1195.4 553.1,1193.5 552.0,1192.0 552.2,1189.9 550.9,1188.1 551.2,1186.0 550.8,1184.0 550.3,1182.0 550.0,1180.0 549.1,1178.2 547.4,1177.3 545.9,1176.1 545.1,1174.2 543.5,1173.2 542.0,1172.0 541.7,1170.0 541.7,1168.0 542.0,1166.0 541.5,1164.3 540.4,1162.7 540.6,1160.7 540.3,1158.9 539.4,1157.3 539.5,1155.4 539.1,1153.6 538.0,1152.0 536.1,1151.4 534.3,1150.8 532.2,1151.0 530.3,1150.6 528.8,1148.9 526.7,1149.3 524.8,1148.9 523.0,1148.0 523.2,1146.0 522.6,1144.2 521.4,1142.5 521.3,1140.5 520.8,1138.7 520.4,1136.8 519.7,1135.0 520.0,1133.0 567.0,1126.4 560.0,1079.0 521.0,1082.0 508.0,1053.0 526.0,1049.0 538.0,1050.0 557.0,1043.0 556.0,1025.0 580.0,1010.0 580.0,1000.0 590.0,988.0" fill="#cbfaf3" stroke="#1a1a1a" stroke-width="1.2" stroke-linejoin="round"/>
<polygon points="402.0,1049.0 415.0,1046.0 415.0,1032.0 448.0,1026.0 494.0,1022.4 508.0,1053.0 521.0,1082.0 560.0,1079.0 567.0,1126.4 520.0,1133.0 519.7,1135.0 520.4,1136.8 520.8,1138.7 521.3,1140.5 521.4,1142.5 522.6,1144.2 523.2,1146.0 523.0,1148.0 524.8,1148.9 526.7,1149.3 528.8,1148.9 530.3,1150.6 532.2,1151.0 534.3,1150.8 536.1,1151.4 538.0,1152.0 539.1,1153.6 539.5,1155.4 539.4,1157.3 540.3,1158.9 540.6,1160.7 540.4,1162.7 541.5,1164.3 542.0,1166.0 541.7,1168.0 541.7,1170.0 542.0,1172.0 543.5,1173.2 545.1,1174.2 545.9,1176.1 547.4,1177.3 549.1,1178.2 550.0,1180.0 550.3,1182.0 550.8,1184.0 551.2,1186.0 550.9,1188.1 552.2,1189.9 552.0,1192.0 553.1,1193.5 553.3,1195.4 553.4,1197.2 554.7,1198.7 555.0,1200.5 555.5,1202.3 556.0,1204.0 554.5,1203.8 553.2,1203.9 553.3,1206.8 550.7,1204.4 551.1,1207.8 549.1,1206.7 549.1,1209.3 546.8,1207.4 546.8,1210.2 544.7,1208.7 544.0,1210.0 543.1,1208.8 542.0,1208.3 540.4,1209.2 539.7,1207.3 538.7,1206.5 536.6,1209.5 535.9,1207.6 535.2,1205.6 533.8,1206.1 532.3,1206.9 531.0,1207.1 530.0,1206.0 528.8,1204.2 527.5,1207.7 526.2,1205.0 525.0,1204.6 523.8,1207.4 522.5,1206.7 521.2,1206.8 520.0,1205.8 518.8,1206.5 517.5,1204.4 516.2,1204.3 515.0,1206.7 513.8,1204.4 512.5,1207.7 511.2,1207.6 510.0,1206.0 508.6,1205.8 507.3,1205.7 506.1,1206.1 504.7,1205.9 503.8,1206.8 503.5,1209.4 501.7,1208.1 500.3,1207.8 500.3,1211.4 498.6,1210.3 497.9,1212.0 496.8,1212.5 495.2,1211.6 494.0,1212.0 492.6,1211.7 491.1,1210.8 490.9,1214.4 489.3,1213.3 487.6,1211.8 486.7,1213.0 485.8,1214.2 484.9,1215.7 483.4,1214.5 482.6,1216.3 481.0,1215.1 480.0,1216.0 478.4,1214.8 477.6,1213.0 476.7,1211.4 476.5,1209.3 475.0,1208.0 474.3,1206.2 472.5,1205.1 472.0,1203.2 471.5,1201.3 470.0,1200.0 469.0,1198.3 468.6,1196.3 467.5,1194.7 465.8,1193.4 464.3,1192.1 464.4,1189.8 462.5,1188.6 461.3,1187.1 461.3,1184.8 460.5,1183.1 459.5,1181.4 458.0,1180.0 458.1,1178.0 456.4,1176.6 455.7,1174.9 455.2,1173.1 456.0,1170.9 454.1,1169.5 453.6,1167.7 452.8,1166.0 453.0,1164.0 452.3,1162.0 452.3,1160.0 452.8,1158.0 452.5,1156.0 452.7,1154.0 453.0,1152.0 452.7,1150.1 450.8,1149.1 450.8,1147.0 449.9,1145.4 448.8,1143.9 447.9,1142.3 447.3,1140.6 446.2,1139.1 444.8,1137.8 444.1,1136.1 443.1,1134.6 442.5,1132.9 442.4,1130.8 440.8,1129.7 440.0,1128.0 404.0,1132.0 404.0,1102.0 401.0,1056.0" fill="#cbfaf3" stroke="#1a1a1a" stroke-width="1.2" stroke-linejoin="round"/>
<polygon points="117.0,1013.0 125.0,1015.0 129.0,1022.0 124.0,1026.0 144.0,1088.0 145.0,1098.0 165.0,1088.0 169.0,1098.0 188.0,1108.0 193.0,1110.0 195.3,1111.0 196.8,1112.8 198.0,1115.0 199.8,1115.7 201.2,1117.0 203.3,1116.9 205.0,1117.7 206.5,1118.7 208.0,1120.0 209.2,1121.6 211.4,1122.0 212.2,1124.1 213.8,1125.2 215.9,1125.7 217.0,1127.5 218.6,1128.7 220.0,1130.0 221.5,1131.2 222.3,1133.2 224.8,1133.3 226.3,1134.5 226.6,1137.0 228.7,1137.6 230.4,1138.6 231.6,1140.1 233.0,1141.4 233.7,1143.5 236.1,1143.8 237.5,1145.0 238.5,1146.8 240.0,1148.0 241.4,1149.3 242.5,1151.1 244.1,1152.2 246.2,1152.8 247.8,1153.8 248.6,1156.0 249.9,1157.4 252.0,1158.0 253.8,1158.9 253.8,1161.2 254.7,1162.8 256.1,1164.0 257.9,1165.0 258.1,1167.0 259.3,1168.4 261.2,1169.3 261.6,1171.2 263.3,1172.2 264.0,1174.0 265.9,1174.7 267.0,1176.4 268.3,1177.7 269.6,1179.1 270.7,1180.8 271.8,1182.3 273.1,1183.8 275.0,1184.5 275.8,1186.6 277.1,1188.1 278.8,1189.4 280.8,1190.3 282.4,1191.6 283.2,1193.7 284.7,1195.0 283.0,1196.1 281.2,1197.0 280.1,1199.0 278.0,1199.5 278.4,1201.4 276.9,1203.2 277.3,1205.1 276.9,1207.0 277.8,1208.9 277.1,1210.8 276.0,1212.6 276.5,1214.5 275.3,1215.9 273.8,1217.0 274.0,1219.3 272.6,1220.5 271.0,1221.7 270.6,1223.6 269.1,1224.7 268.4,1226.4 267.5,1228.0 268.0,1229.9 267.8,1231.8 265.9,1233.4 267.3,1235.5 266.9,1237.3 266.4,1239.1 265.5,1240.9 265.0,1242.7 265.5,1244.6 265.2,1246.5 264.4,1248.2 265.1,1250.2 264.5,1252.0 264.5,1255.0 263.8,1257.1 267.2,1256.3 268.3,1257.0 265.9,1260.4 269.3,1259.5 270.2,1260.4 269.3,1262.7 271.0,1263.0 270.0,1265.4 272.0,1265.5 271.1,1266.9 269.1,1264.4 268.6,1267.2 267.1,1266.5 265.5,1265.6 264.6,1266.9 263.1,1266.3 262.2,1267.5 261.7,1270.4 260.0,1269.0 259.3,1267.2 257.7,1267.9 256.2,1268.5 254.8,1268.6 254.0,1267.0 254.5,1265.2 252.9,1264.8 253.5,1263.0 252.2,1262.4 252.2,1261.0 250.2,1260.9 250.0,1259.6 249.0,1258.8 248.0,1258.0 247.1,1259.3 245.2,1256.9 244.7,1259.7 243.0,1258.3 241.7,1257.9 240.8,1259.4 240.2,1261.7 238.3,1259.4 237.5,1261.0 236.1,1261.3 236.4,1263.6 235.8,1264.8 233.6,1264.2 233.9,1266.5 230.7,1264.6 230.8,1266.7 229.8,1267.5 229.1,1268.6 227.5,1268.7 227.0,1270.0 224.9,1269.6 225.6,1272.3 224.5,1272.9 223.0,1273.1 222.9,1274.8 221.1,1274.8 220.3,1275.8 219.7,1276.9 218.1,1277.1 217.5,1278.4 217.8,1280.5 214.4,1278.6 215.2,1281.4 214.1,1282.0 213.2,1282.9 212.0,1283.5 212.6,1281.5 211.9,1280.4 209.8,1280.5 208.7,1279.7 207.0,1279.5 207.5,1277.5 205.8,1276.5 205.7,1279.6 204.0,1278.7 203.1,1279.9 202.0,1280.4 200.8,1280.8 199.9,1281.9 199.0,1282.9 197.1,1281.5 195.5,1281.0 194.6,1282.0 194.1,1284.1 192.5,1283.5 191.1,1283.1 190.7,1285.9 189.1,1284.9 187.5,1283.6 186.2,1283.6 185.6,1285.7 184.0,1284.6 183.3,1286.3 182.1,1286.5 180.9,1286.6 179.2,1285.4 178.4,1286.7 177.5,1288.0 176.6,1288.8 175.1,1288.8 174.3,1289.8 174.1,1291.5 172.1,1290.9 171.1,1291.5 170.7,1292.9 168.9,1292.6 170.3,1296.3 168.1,1295.5 166.9,1295.8 166.6,1297.5 166.1,1298.8 163.9,1297.9 163.6,1299.5 162.5,1300.0 162.0,1301.5 161.6,1302.9 158.4,1300.6 158.8,1303.3 158.4,1304.8 157.2,1305.1 156.1,1305.7 153.7,1304.4 154.2,1307.3 153.0,1307.7 152.4,1309.0 150.6,1308.5 150.2,1310.1 148.9,1310.3 147.5,1310.5 146.1,1309.9 144.7,1309.5 143.6,1310.2 143.2,1313.5 141.7,1312.6 140.0,1311.0 139.7,1314.5 138.3,1314.2 136.9,1313.4 135.8,1314.1 134.2,1313.0 133.1,1313.4 132.1,1314.7 131.2,1315.9 130.0,1316.3 128.8,1316.5 127.8,1317.5 126.0,1315.5 125.0,1316.5 125.0,1318.3 122.1,1316.9 121.8,1318.5 122.5,1321.1 120.4,1320.5 119.2,1321.0 119.7,1323.5 117.7,1323.0 117.9,1325.2 115.1,1323.8 116.2,1326.9 113.6,1325.8 113.0,1327.0 111.1,1325.7 110.2,1326.7 110.0,1329.4 108.4,1328.7 107.9,1330.7 106.5,1330.4 104.6,1328.9 103.5,1329.6 103.6,1333.0 101.9,1332.1 100.4,1331.6 100.0,1333.8 97.9,1332.0 96.6,1332.1 96.0,1333.8 95.0,1334.5 93.9,1335.3 92.4,1333.6 91.4,1335.2 90.5,1336.7 89.3,1336.6 88.2,1337.3 86.4,1334.8 85.5,1336.4 84.2,1335.9 82.9,1335.6 81.6,1335.2 81.0,1338.6 79.7,1337.9 78.1,1336.3 77.0,1337.0 76.1,1338.7 74.7,1337.9 73.9,1340.0 72.5,1339.0 72.4,1340.9 71.7,1342.0 69.8,1341.9 69.2,1343.1 67.5,1343.1 65.3,1342.6 66.4,1345.9 64.4,1345.5 63.5,1346.5 65.0,1336.0 38.8,1292.5 129.5,1236.0 104.0,1196.5" fill="#8ef5e3" stroke="#1a1a1a" stroke-width="1.4" stroke-linejoin="round"/>
<polygon points="315.3,1024.4 332.0,1023.6 334.0,1042.0 330.0,1067.0 358.0,1064.0 360.0,1071.0 366.0,1072.0 367.0,1061.0 372.0,1061.0 374.0,1068.0 383.0,1059.0 401.0,1056.0 404.0,1102.0 404.0,1132.0 440.0,1128.0 440.8,1129.7 442.4,1130.8 442.5,1132.9 443.1,1134.6 444.1,1136.1 444.8,1137.8 446.2,1139.1 447.3,1140.6 447.9,1142.3 448.8,1143.9 449.9,1145.4 450.8,1147.0 450.8,1149.1 452.7,1150.1 453.0,1152.0 452.7,1154.0 452.5,1156.0 452.8,1158.0 452.3,1160.0 452.3,1162.0 453.0,1164.0 452.8,1166.0 453.6,1167.7 454.1,1169.5 456.0,1170.9 455.2,1173.1 455.7,1174.9 456.4,1176.6 458.1,1178.0 458.0,1180.0 459.5,1181.4 460.5,1183.1 461.3,1184.8 461.3,1187.1 462.5,1188.6 464.4,1189.8 464.3,1192.1 465.8,1193.4 467.5,1194.7 468.6,1196.3 469.0,1198.3 470.0,1200.0 471.5,1201.3 472.0,1203.2 472.5,1205.1 474.3,1206.2 475.0,1208.0 476.5,1209.3 476.7,1211.4 477.6,1213.0 478.4,1214.8 480.0,1216.0 478.3,1216.8 477.9,1214.4 476.7,1214.1 475.3,1214.2 473.7,1214.7 473.4,1212.1 472.2,1211.6 470.6,1212.2 469.4,1211.7 467.8,1212.3 466.3,1212.7 465.7,1210.8 464.8,1209.6 462.9,1211.0 462.8,1207.9 460.8,1209.5 460.0,1208.0 458.9,1209.2 457.8,1210.1 456.1,1206.5 455.1,1207.7 453.8,1207.3 452.7,1208.5 451.8,1211.0 450.5,1210.0 449.2,1209.4 448.2,1211.1 446.6,1208.0 445.7,1210.4 444.6,1211.4 443.0,1209.0 442.2,1211.9 440.6,1208.9 439.6,1210.9 438.4,1210.7 437.3,1211.7 436.0,1211.3 435.0,1212.6 433.8,1213.4 432.2,1210.2 431.3,1212.9 430.0,1212.0 428.3,1211.9 428.7,1214.5 425.8,1212.9 425.0,1214.0 424.4,1215.2 423.3,1216.0 422.8,1217.3 421.4,1217.7 421.9,1220.4 420.0,1220.0 418.8,1219.4 418.5,1217.5 416.1,1219.0 416.4,1215.9 415.2,1215.3 413.1,1216.3 411.9,1215.8 411.0,1214.8 410.0,1214.0 408.8,1214.4 407.7,1211.9 406.4,1214.2 405.1,1215.6 403.9,1215.2 402.9,1212.6 401.7,1211.5 400.4,1213.4 399.2,1213.3 398.0,1213.0 396.9,1212.1 395.5,1214.1 394.4,1212.5 393.2,1212.7 392.0,1212.3 390.7,1214.0 389.5,1214.0 388.4,1213.2 387.3,1210.8 386.0,1213.0 384.8,1211.9 383.5,1213.0 382.3,1213.7 381.1,1213.8 380.0,1212.0 378.5,1211.1 377.4,1211.6 376.7,1213.5 375.2,1212.7 374.0,1213.1 372.6,1212.5 371.4,1212.7 370.9,1215.1 369.1,1213.2 367.9,1213.7 367.2,1215.5 365.7,1214.7 365.0,1216.5 364.0,1217.3 363.0,1218.2 361.1,1216.1 360.8,1219.2 359.7,1219.9 357.7,1217.4 356.6,1217.9 355.8,1219.3 354.2,1218.3 354.0,1221.7 352.6,1221.2 351.4,1221.5 350.0,1221.0 349.4,1219.9 348.1,1219.0 347.3,1218.0 348.0,1216.5 349.9,1214.7 348.0,1214.0 349.6,1212.4 348.4,1211.4 347.1,1210.4 346.0,1209.4 348.5,1207.6 346.5,1206.8 347.0,1205.4 344.0,1204.8 344.5,1203.4 346.7,1201.7 346.2,1200.5 346.3,1199.3 344.9,1198.3 344.0,1197.3 344.0,1196.0 342.9,1196.7 341.2,1196.8 341.8,1199.3 340.3,1199.5 340.1,1201.2 337.8,1200.7 339.0,1203.7 336.2,1202.7 334.5,1202.9 336.3,1206.4 334.0,1206.0 334.3,1207.5 334.8,1208.9 336.0,1210.0 334.2,1209.5 333.7,1211.0 333.3,1212.8 331.9,1213.0 329.7,1211.8 328.7,1212.6 329.3,1215.9 328.3,1216.7 327.3,1217.4 326.3,1218.3 324.4,1217.5 324.0,1219.2 321.4,1217.4 320.7,1218.8 320.0,1220.0 320.1,1222.0 318.1,1221.7 317.8,1223.2 316.4,1223.7 316.2,1225.3 315.5,1226.4 314.5,1227.3 313.1,1227.6 311.2,1227.6 310.8,1228.9 310.0,1230.0 310.9,1232.0 308.0,1231.7 306.8,1232.4 306.6,1233.7 305.9,1234.7 307.9,1237.4 305.7,1237.5 305.0,1238.5 303.8,1240.2 302.5,1237.4 301.2,1239.8 300.0,1237.7 298.8,1239.5 297.5,1237.7 296.2,1239.2 295.0,1240.3 293.8,1238.9 292.5,1239.3 291.2,1236.9 290.0,1238.5 289.8,1240.0 288.3,1240.3 287.4,1241.1 285.3,1241.0 287.0,1244.2 284.7,1243.7 284.1,1244.9 282.6,1245.2 281.1,1245.5 282.2,1248.2 280.2,1248.0 279.9,1249.4 279.0,1250.3 279.6,1252.5 276.6,1251.4 275.3,1251.9 276.3,1254.5 275.0,1255.0 273.7,1255.7 272.4,1253.0 271.1,1256.6 269.8,1256.7 268.4,1256.7 267.1,1253.7 265.8,1254.0 264.5,1252.0 265.1,1250.2 264.4,1248.2 265.2,1246.5 265.5,1244.6 265.0,1242.7 265.5,1240.9 266.4,1239.1 266.9,1237.3 267.3,1235.5 265.9,1233.4 267.8,1231.8 268.0,1229.9 267.5,1228.0 268.4,1226.4 269.1,1224.7 270.6,1223.6 271.0,1221.7 272.6,1220.5 274.0,1219.3 273.8,1217.0 275.3,1215.9 276.5,1214.5 276.0,1212.6 277.1,1210.8 277.8,1208.9 276.9,1207.0 277.3,1205.1 276.9,1203.2 278.4,1201.4 278.0,1199.5 280.1,1199.0 281.2,1197.0 283.0,1196.1 284.7,1195.0 283.2,1193.7 282.4,1191.6 280.8,1190.3 278.8,1189.4 277.1,1188.1 275.8,1186.6 275.0,1184.5 273.1,1183.8 271.8,1182.3 270.7,1180.8 269.6,1179.1 268.3,1177.7 267.0,1176.4 265.9,1174.7 264.0,1174.0 263.3,1172.2 261.6,1171.2 261.2,1169.3 259.3,1168.4 258.1,1167.0 257.9,1165.0 256.1,1164.0 254.7,1162.8 253.8,1161.2 253.8,1158.9 252.0,1158.0 249.9,1157.4 248.6,1156.0 247.8,1153.8 246.2,1152.8 244.1,1152.2 242.5,1151.1 241.4,1149.3 240.0,1148.0 238.5,1146.8 237.5,1145.0 236.1,1143.8 233.7,1143.5 233.0,1141.4 231.6,1140.1 230.4,1138.6 228.7,1137.6 226.6,1137.0 226.3,1134.5 224.8,1133.3 222.3,1133.2 221.5,1131.2 220.0,1130.0 218.6,1128.7 217.0,1127.5 215.9,1125.7 213.8,1125.2 212.2,1124.1 211.4,1122.0 209.2,1121.6 208.0,1120.0 206.5,1118.7 205.0,1117.7 203.3,1116.9 201.2,1117.0 199.8,1115.7 198.0,1115.0 196.8,1112.8 195.3,1111.0 193.0,1110.0 188.0,1100.0 189.0,1093.0 248.0,1088.0 249.0,1068.0 276.0,1058.0 278.0,1053.0 287.0,1051.0 288.0,1042.0 300.0,1037.0 301.0,1032.0" fill="#44dcc5" stroke="#1a1a1a" stroke-width="1.6" stroke-linejoin="round"/>
<polyline points="480.0,1216.0 478.3,1216.8 477.9,1214.4 476.7,1214.1 475.3,1214.2 473.7,1214.7 473.4,1212.1 472.2,1211.6 470.6,1212.2 469.4,1211.7 467.8,1212.3 466.3,1212.7 465.7,1210.8 464.8,1209.6 462.9,1211.0 462.8,1207.9 460.8,1209.5 460.0,1208.0 458.9,1209.2 457.8,1210.1 456.1,1206.5 455.1,1207.7 453.8,1207.3 452.7,1208.5 451.8,1211.0 450.5,1210.0 449.2,1209.4 448.2,1211.1 446.6,1208.0 445.7,1210.4 444.6,1211.4 443.0,1209.0 442.2,1211.9 440.6,1208.9 439.6,1210.9 438.4,1210.7 437.3,1211.7 436.0,1211.3 435.0,1212.6 433.8,1213.4 432.2,1210.2 431.3,1212.9 430.0,1212.0 428.3,1211.9 428.7,1214.5 425.8,1212.9 425.0,1214.0 424.4,1215.2 423.3,1216.0 422.8,1217.3 421.4,1217.7 421.9,1220.4 420.0,1220.0 418.8,1219.4 418.5,1217.5 416.1,1219.0 416.4,1215.9 415.2,1215.3 413.1,1216.3 411.9,1215.8 411.0,1214.8 410.0,1214.0 408.8,1214.4 407.7,1211.9 406.4,1214.2 405.1,1215.6 403.9,1215.2 402.9,1212.6 401.7,1211.5 400.4,1213.4 399.2,1213.3 398.0,1213.0 396.9,1212.1 395.5,1214.1 394.4,1212.5 393.2,1212.7 392.0,1212.3 390.7,1214.0 389.5,1214.0 388.4,1213.2 387.3,1210.8 386.0,1213.0 384.8,1211.9 383.5,1213.0 382.3,1213.7 381.1,1213.8 380.0,1212.0 378.5,1211.1 377.4,1211.6 376.7,1213.5 375.2,1212.7 374.0,1213.1 372.6,1212.5 371.4,1212.7 370.9,1215.1 369.1,1213.2 367.9,1213.7 367.2,1215.5 365.7,1214.7 365.0,1216.5 364.0,1217.3 363.0,1218.2 361.1,1216.1 360.8,1219.2 359.7,1219.9 357.7,1217.4 356.6,1217.9 355.8,1219.3 354.2,1218.3 354.0,1221.7 352.6,1221.2 351.4,1221.5 350.0,1221.0 349.4,1219.9 348.1,1219.0 347.3,1218.0 348.0,1216.5 349.9,1214.7 348.0,1214.0 349.6,1212.4 348.4,1211.4 347.1,1210.4 346.0,1209.4 348.5,1207.6 346.5,1206.8 347.0,1205.4 344.0,1204.8 344.5,1203.4 346.7,1201.7 346.2,1200.5 346.3,1199.3 344.9,1198.3 344.0,1197.3 344.0,1196.0 342.9,1196.7 341.2,1196.8 341.8,1199.3 340.3,1199.5 340.1,1201.2 337.8,1200.7 339.0,1203.7 336.2,1202.7 334.5,1202.9 336.3,1206.4 334.0,1206.0 334.3,1207.5 334.8,1208.9 336.0,1210.0 334.2,1209.5 333.7,1211.0 333.3,1212.8 331.9,1213.0 329.7,1211.8 328.7,1212.6 329.3,1215.9 328.3,1216.7 327.3,1217.4 326.3,1218.3 324.4,1217.5 324.0,1219.2 321.4,1217.4 320.7,1218.8 320.0,1220.0 320.1,1222.0 318.1,1221.7 317.8,1223.2 316.4,1223.7 316.2,1225.3 315.5,1226.4 314.5,1227.3 313.1,1227.6 311.2,1227.6 310.8,1228.9 310.0,1230.0 310.9,1232.0 308.0,1231.7 306.8,1232.4 306.6,1233.7 305.9,1234.7 307.9,1237.4 305.7,1237.5 305.0,1238.5 303.8,1240.2 302.5,1237.4 301.2,1239.8 300.0,1237.7 298.8,1239.5 297.5,1237.7 296.2,1239.2 295.0,1240.3 293.8,1238.9 292.5,1239.3 291.2,1236.9 290.0,1238.5 289.8,1240.0 288.3,1240.3 287.4,1241.1 285.3,1241.0 287.0,1244.2 284.7,1243.7 284.1,1244.9 282.6,1245.2 281.1,1245.5 282.2,1248.2 280.2,1248.0 279.9,1249.4 279.0,1250.3 279.6,1252.5 276.6,1251.4 275.3,1251.9 276.3,1254.5 275.0,1255.0 273.7,1255.7 272.4,1253.0 271.1,1256.6 269.8,1256.7 268.4,1256.7 267.1,1253.7 265.8,1254.0 264.5,1255.0" fill="none" stroke="#111" stroke-width="1.5" stroke-linejoin="round"/>
<polyline points="264.5,1255.0 263.8,1257.1 267.2,1256.3 268.3,1257.0 265.9,1260.4 269.3,1259.5 270.2,1260.4 269.3,1262.7 271.0,1263.0 270.0,1265.4 272.0,1265.5 271.1,1266.9 269.1,1264.4 268.6,1267.2 267.1,1266.5 265.5,1265.6 264.6,1266.9 263.1,1266.3 262.2,1267.5 261.7,1270.4 260.0,1269.0 259.3,1267.2 257.7,1267.9 256.2,1268.5 254.8,1268.6 254.0,1267.0 254.5,1265.2 252.9,1264.8 253.5,1263.0 252.2,1262.4 252.2,1261.0 250.2,1260.9 250.0,1259.6 249.0,1258.8 248.0,1258.0 247.1,1259.3 245.2,1256.9 244.7,1259.7 243.0,1258.3 241.7,1257.9 240.8,1259.4 240.2,1261.7 238.3,1259.4 237.5,1261.0 236.1,1261.3 236.4,1263.6 235.8,1264.8 233.6,1264.2 233.9,1266.5 230.7,1264.6 230.8,1266.7 229.8,1267.5 229.1,1268.6 227.5,1268.7 227.0,1270.0 224.9,1269.6 225.6,1272.3 224.5,1272.9 223.0,1273.1 222.9,1274.8 221.1,1274.8 220.3,1275.8 219.7,1276.9 218.1,1277.1 217.5,1278.4 217.8,1280.5 214.4,1278.6 215.2,1281.4 214.1,1282.0 213.2,1282.9 212.0,1283.5 212.6,1281.5 211.9,1280.4 209.8,1280.5 208.7,1279.7 207.0,1279.5 207.5,1277.5 205.8,1276.5 205.7,1279.6 204.0,1278.7 203.1,1279.9 202.0,1280.4 200.8,1280.8 199.9,1281.9 199.0,1282.9 197.1,1281.5 195.5,1281.0 194.6,1282.0 194.1,1284.1 192.5,1283.5 191.1,1283.1 190.7,1285.9 189.1,1284.9 187.5,1283.6 186.2,1283.6 185.6,1285.7 184.0,1284.6 183.3,1286.3 182.1,1286.5 180.9,1286.6 179.2,1285.4 178.4,1286.7 177.5,1288.0 176.6,1288.8 175.1,1288.8 174.3,1289.8 174.1,1291.5 172.1,1290.9 171.1,1291.5 170.7,1292.9 168.9,1292.6 170.3,1296.3 168.1,1295.5 166.9,1295.8 166.6,1297.5 166.1,1298.8 163.9,1297.9 163.6,1299.5 162.5,1300.0 162.0,1301.5 161.6,1302.9 158.4,1300.6 158.8,1303.3 158.4,1304.8 157.2,1305.1 156.1,1305.7 153.7,1304.4 154.2,1307.3 153.0,1307.7 152.4,1309.0 150.6,1308.5 150.2,1310.1 148.9,1310.3 147.5,1310.5 146.1,1309.9 144.7,1309.5 143.6,1310.2 143.2,1313.5 141.7,1312.6 140.0,1311.0 139.7,1314.5 138.3,1314.2 136.9,1313.4 135.8,1314.1 134.2,1313.0 133.1,1313.4 132.1,1314.7 131.2,1315.9 130.0,1316.3 128.8,1316.5 127.8,1317.5 126.0,1315.5 125.0,1316.5 125.0,1318.3 122.1,1316.9 121.8,1318.5 122.5,1321.1 120.4,1320.5 119.2,1321.0 119.7,1323.5 117.7,1323.0 117.9,1325.2 115.1,1323.8 116.2,1326.9 113.6,1325.8 113.0,1327.0 111.1,1325.7 110.2,1326.7 110.0,1329.4 108.4,1328.7 107.9,1330.7 106.5,1330.4 104.6,1328.9 103.5,1329.6 103.6,1333.0 101.9,1332.1 100.4,1331.6 100.0,1333.8 97.9,1332.0 96.6,1332.1 96.0,1333.8 95.0,1334.5 93.9,1335.3 92.4,1333.6 91.4,1335.2 90.5,1336.7 89.3,1336.6 88.2,1337.3 86.4,1334.8 85.5,1336.4 84.2,1335.9 82.9,1335.6 81.6,1335.2 81.0,1338.6 79.7,1337.9 78.1,1336.3 77.0,1337.0 76.1,1338.7 74.7,1337.9 73.9,1340.0 72.5,1339.0 72.4,1340.9 71.7,1342.0 69.8,1341.9 69.2,1343.1 67.5,1343.1 65.3,1342.6 66.4,1345.9 64.4,1345.5 63.5,1346.5" fill="none" stroke="#111" stroke-width="1.5" stroke-linejoin="round"/>
<polyline points="757.0,1136.0 755.5,1134.5 754.3,1134.7 753.1,1135.1 752.4,1138.5 750.9,1136.7 749.8,1137.6 748.5,1137.4 747.5,1139.2 746.3,1139.1 744.9,1138.4 743.8,1139.5 742.5,1138.7 741.5,1140.7 740.0,1139.0 741.8,1140.0 739.4,1141.5 740.7,1142.6 740.5,1143.8 739.8,1145.1 741.4,1146.2 742.7,1147.2 740.0,1148.8 740.9,1149.9 740.8,1151.1 741.0,1152.3 739.8,1153.7 742.3,1154.6 740.9,1156.0 742.6,1157.0 741.9,1158.3 741.7,1159.6 743.2,1160.6 744.3,1161.7 742.9,1163.1 742.0,1164.4 742.7,1165.6 743.4,1166.7 742.7,1168.0 744.7,1169.0 744.9,1170.2 744.4,1171.5 742.6,1172.9 744.0,1174.0 743.6,1175.7 742.6,1176.7 741.6,1177.5 740.6,1178.4 739.0,1178.3 737.2,1178.0 735.6,1177.8 735.6,1180.2 734.4,1180.7 733.0,1181.0 731.5,1180.7 730.6,1179.8 731.1,1177.5 729.5,1177.3 727.8,1177.2 726.5,1176.7 727.5,1173.9 726.4,1173.2 725.8,1172.0 724.0,1172.0 722.9,1173.3 721.3,1172.5 719.6,1171.4 718.6,1173.0 716.9,1171.9 716.0,1174.0 714.9,1175.4 713.4,1172.3 712.4,1176.1 711.1,1174.7 710.0,1176.4 708.5,1173.3 707.3,1173.9 705.9,1172.9 704.8,1173.6 703.5,1173.2 702.4,1174.9 701.0,1173.2 699.8,1174.2 698.7,1175.9 697.3,1173.5 696.2,1176.0 695.0,1176.8 693.8,1177.4 692.5,1175.9 691.3,1177.1 690.0,1176.0 687.9,1175.5 687.0,1176.2 687.9,1179.3 687.3,1180.4 685.3,1179.9 685.3,1181.8 683.4,1181.5 681.7,1181.4 682.2,1183.9 680.9,1184.2 678.7,1183.6 678.9,1185.8 678.3,1186.9 675.9,1186.0 676.0,1188.0 675.2,1186.4 674.1,1185.8 672.7,1186.2 671.2,1186.9 670.3,1185.5 669.3,1184.6 667.9,1185.0 666.3,1186.2 665.2,1185.6 664.1,1184.8 663.4,1183.1 661.9,1183.5 660.8,1183.2 659.9,1181.8 657.9,1184.2 657.3,1181.9 656.0,1182.0 655.0,1181.0 655.4,1179.5 656.1,1178.0 653.4,1177.5 655.7,1175.4 652.0,1175.3 653.4,1173.5 653.0,1172.3 651.4,1171.5 652.2,1169.9 651.5,1168.8 651.0,1167.7 651.6,1166.1 648.5,1165.8 650.0,1164.0 648.9,1165.1 646.8,1164.3 646.0,1166.0 647.4,1167.2 644.5,1168.5 647.2,1169.8 645.3,1171.0 647.3,1172.2 646.2,1173.5 646.3,1174.8 647.7,1176.0 645.2,1177.2 646.1,1178.5 645.2,1179.8 645.8,1181.0 645.8,1182.2 645.9,1183.5 646.8,1184.8 646.0,1186.0 644.0,1185.7 645.5,1188.9 642.4,1187.5 641.5,1188.4 641.7,1190.3 640.1,1190.4 640.0,1192.0 638.9,1191.0 637.6,1191.0 636.1,1191.9 634.9,1191.5 633.7,1191.0 632.4,1190.9 631.8,1188.1 630.0,1190.2 628.8,1189.7 627.6,1189.2 626.8,1187.4 625.2,1188.4 624.0,1188.0 623.3,1187.0 621.6,1187.0 620.8,1186.1 619.4,1185.7 618.9,1184.5 618.2,1183.5 618.0,1182.0 616.7,1180.6 615.3,1182.0 614.0,1183.6 612.7,1182.1 611.3,1183.5 610.0,1182.0 609.1,1183.0 608.9,1184.3 606.8,1184.6 608.2,1186.9 605.5,1186.8 606.9,1189.2 603.7,1188.8 604.2,1190.6 604.0,1192.0 604.9,1194.0 601.6,1193.3 602.7,1195.5 601.8,1196.3 601.8,1197.8 600.0,1198.0 598.8,1196.7 597.6,1199.6 596.4,1197.0 595.2,1198.4 594.0,1197.3 592.8,1198.8 591.6,1199.7 590.4,1196.3 589.2,1197.4 588.0,1198.0 587.4,1199.8 584.9,1197.4 583.8,1198.2 584.0,1201.4 583.1,1202.6 580.9,1201.0 580.0,1202.0 579.0,1203.6 577.4,1201.5 576.3,1202.7 574.9,1201.9 573.7,1202.7 572.3,1202.1 571.1,1202.0 569.9,1203.1 568.7,1203.3 567.6,1204.6 566.5,1205.5 565.2,1205.9 563.5,1203.0 562.7,1205.8 561.3,1205.1 560.0,1205.0 558.5,1205.4 557.4,1203.9 556.0,1204.0" fill="none" stroke="#111" stroke-width="1.5" stroke-linejoin="round"/>
<polyline points="556.0,1204.0 554.5,1203.8 553.2,1203.9 553.3,1206.8 550.7,1204.4 551.1,1207.8 549.1,1206.7 549.1,1209.3 546.8,1207.4 546.8,1210.2 544.7,1208.7 544.0,1210.0 543.1,1208.8 542.0,1208.3 540.4,1209.2 539.7,1207.3 538.7,1206.5 536.6,1209.5 535.9,1207.6 535.2,1205.6 533.8,1206.1 532.3,1206.9 531.0,1207.1 530.0,1206.0 528.8,1204.2 527.5,1207.7 526.2,1205.0 525.0,1204.6 523.8,1207.4 522.5,1206.7 521.2,1206.8 520.0,1205.8 518.8,1206.5 517.5,1204.4 516.2,1204.3 515.0,1206.7 513.8,1204.4 512.5,1207.7 511.2,1207.6 510.0,1206.0 508.6,1205.8 507.3,1205.7 506.1,1206.1 504.7,1205.9 503.8,1206.8 503.5,1209.4 501.7,1208.1 500.3,1207.8 500.3,1211.4 498.6,1210.3 497.9,1212.0 496.8,1212.5 495.2,1211.6 494.0,1212.0 492.6,1211.7 491.1,1210.8 490.9,1214.4 489.3,1213.3 487.6,1211.8 486.7,1213.0 485.8,1214.2 484.9,1215.7 483.4,1214.5 482.6,1216.3 481.0,1215.1 480.0,1216.0" fill="none" stroke="#111" stroke-width="1.5" stroke-linejoin="round"/>
<polyline points="117,1013 127.1,822.6 305.6,828.4 378.3,829.6 377.4,848.5 396.6,845.9 400,836 399,830 455,832 456,835 464,835 468,832 484,830 642,833 756,836 759,1025.6 757,1136" fill="none" stroke="#111" stroke-width="1.6"/>
<polyline points="117,1013 104,1196.5 129.5,1236 38.75,1292.5 65,1336" fill="none" stroke="#111" stroke-width="1.6"/>
<rect x="277.5" y="904.4" width="316.9" height="80" fill="#fff" fill-opacity="0.93" stroke="#888" stroke-width="1.6"/>
<text x="293.2" y="961.4" font-size="53.2" text-anchor="start" font-weight="normal" font-style="normal" fill="#000">Connecticut</text>
<line x1="184.4" y1="854.3" x2="168.4" y2="810.2" stroke="#595959" stroke-width="1.3"/>
<circle cx="184.4" cy="854.3" r="6.5" fill="#595959"/>
<text x="100.6" y="800.3" font-size="33.6" text-anchor="start" font-weight="normal" font-style="normal" fill="#595959">Litchfield</text>
<line x1="374.1" y1="864.3" x2="346.8" y2="810.2" stroke="#595959" stroke-width="1.3"/>
<circle cx="374.1" cy="864.3" r="6.5" fill="#595959"/>
<text x="283.9" y="800.3" font-size="33.6" text-anchor="start" font-weight="normal" font-style="normal" fill="#595959">Hartford</text>
<line x1="534.0" y1="868.3" x2="535.3" y2="816.2" stroke="#595959" stroke-width="1.3"/>
<circle cx="534.0" cy="868.3" r="6.5" fill="#595959"/>
<text x="473.4" y="800.3" font-size="33.6" text-anchor="start" font-weight="normal" font-style="normal" fill="#595959">Tolland</text>
<line x1="679.6" y1="868.3" x2="721.7" y2="818.2" stroke="#595959" stroke-width="1.3"/>
<circle cx="679.6" cy="868.3" r="6.5" fill="#595959"/>
<text x="629.9" y="800.3" font-size="33.6" text-anchor="start" font-weight="normal" font-style="normal" fill="#595959">Windham</text>
<line x1="332.8" y1="1173.8" x2="352.8" y2="1239.2" stroke="#595959" stroke-width="1.3"/>
<circle cx="332.8" cy="1173.8" r="6.5" fill="#595959"/>
<text x="291.1" y="1271.3" font-size="33.6" text-anchor="start" font-weight="normal" font-style="normal" fill="#595959">New Haven</text>
<line x1="522.5" y1="1168.2" x2="543.3" y2="1233.2" stroke="#595959" stroke-width="1.3"/>
<circle cx="522.5" cy="1168.2" r="6.5" fill="#595959"/>
<text x="481.4" y="1261.0" font-size="33.6" text-anchor="start" font-weight="normal" font-style="normal" fill="#595959">Middlesex</text>
<line x1="677.6" y1="1129.7" x2="697.7" y2="1195.1" stroke="#595959" stroke-width="1.3"/>
<circle cx="677.6" cy="1129.7" r="6.5" fill="#595959"/>
<text x="601.8" y="1231.0" font-size="33.6" text-anchor="start" font-weight="normal" font-style="normal" fill="#595959">New London</text>
<line x1="153.6" y1="1242.4" x2="173.2" y2="1307.4" stroke="#595959" stroke-width="1.3"/>
<circle cx="153.6" cy="1242.4" r="6.5" fill="#595959"/>
<text x="153.9" y="1347.5" font-size="33.6" text-anchor="start" font-weight="normal" font-style="normal" fill="#595959">Fairfield</text>
<text x="333.8" y="1332.1" font-size="28.85" text-anchor="start" font-weight="normal" font-style="normal" fill="#000">Cases sequenced (<tspan font-style="italic">Nov. 30 – May 9</tspan>)</text>
<rect x="379.3" y="1347.2" width="42" height="40.5" fill="#f3fefd" stroke="#777" stroke-width="1.5"/>
<rect x="587.3" y="1349.3" width="42" height="40.5" fill="#cbfaf3" stroke="#777" stroke-width="1.5"/>
<rect x="379.3" y="1402.3" width="42" height="40.5" fill="#8ef5e3" stroke="#777" stroke-width="1.5"/>
<rect x="587.3" y="1402.3" width="42" height="40.5" fill="#44dcc5" stroke="#777" stroke-width="1.5"/>
<text x="435.2" y="1377.1" font-size="24.2" text-anchor="start" font-weight="normal" font-style="normal" fill="#000">0.1 – 0.49%</text>
<text x="643.2" y="1381.5" font-size="24.2" text-anchor="start" font-weight="normal" font-style="normal" fill="#000">0.5 – 0.99%</text>
<text x="436.5" y="1432.5" font-size="24.2" text-anchor="start" font-weight="normal" font-style="normal" fill="#000">1.0 – 2.99%</text>
<text x="643.2" y="1432.5" font-size="24.2" text-anchor="start" font-weight="normal" font-style="normal" fill="#000">≥ 3%</text>
<text x="826.2" y="26.3" font-size="36.5" text-anchor="start" font-weight="bold" font-style="normal" fill="#1c1c1e">c)</text>
<text x="886.2" y="39.5" font-size="31.0" text-anchor="start" font-weight="normal" font-style="normal" fill="#000">% of genomes</text>
<text x="886.2" y="75.8" font-size="31.0" text-anchor="start" font-weight="normal" font-style="normal" fill="#000">sequenced</text>
<text x="1453.9" y="39.5" font-size="30.9" text-anchor="end" font-weight="normal" font-style="normal" fill="#000">Cases per</text>
<text x="1453.9" y="75.8" font-size="30.9" text-anchor="end" font-weight="normal" font-style="normal" fill="#000">10k residents</text>
<rect x="891.0" y="257.3" width="17.6" height="311.0" fill="#e9e9e9" stroke="#a6a6a6" stroke-width="1.6"/>
<rect x="916.7" y="176.8" width="17.6" height="391.5" fill="#e9e9e9" stroke="#a6a6a6" stroke-width="1.6"/>
<rect x="943.1" y="238.8" width="17.6" height="329.5" fill="#e9e9e9" stroke="#a6a6a6" stroke-width="1.6"/>
<rect x="968.8" y="363.9" width="17.6" height="204.4" fill="#e9e9e9" stroke="#a6a6a6" stroke-width="1.6"/>
<rect x="995.2" y="211.1" width="17.6" height="357.2" fill="#e9e9e9" stroke="#a6a6a6" stroke-width="1.6"/>
<rect x="1021.3" y="241.9" width="17.6" height="326.4" fill="#e9e9e9" stroke="#a6a6a6" stroke-width="1.6"/>
<rect x="1046.9" y="209.9" width="17.6" height="358.4" fill="#e9e9e9" stroke="#a6a6a6" stroke-width="1.6"/>
<rect x="1073.0" y="272.3" width="17.6" height="296.0" fill="#e9e9e9" stroke="#a6a6a6" stroke-width="1.6"/>
<rect x="1099.0" y="317.7" width="17.6" height="250.6" fill="#e9e9e9" stroke="#a6a6a6" stroke-width="1.6"/>
<rect x="1125.1" y="376.1" width="17.6" height="192.2" fill="#e9e9e9" stroke="#a6a6a6" stroke-width="1.6"/>
<rect x="1151.1" y="404.5" width="17.6" height="163.8" fill="#e9e9e9" stroke="#a6a6a6" stroke-width="1.6"/>
<rect x="1177.2" y="449.9" width="17.6" height="118.4" fill="#e9e9e9" stroke="#a6a6a6" stroke-width="1.6"/>
<rect x="1202.8" y="427.4" width="17.6" height="140.9" fill="#e9e9e9" stroke="#a6a6a6" stroke-width="1.6"/>
<rect x="1229.2" y="457.8" width="17.6" height="110.5" fill="#e9e9e9" stroke="#a6a6a6" stroke-width="1.6"/>
<rect x="1254.9" y="460.5" width="17.6" height="107.8" fill="#e9e9e9" stroke="#a6a6a6" stroke-width="1.6"/>
<rect x="1280.9" y="442.8" width="17.6" height="125.5" fill="#e9e9e9" stroke="#a6a6a6" stroke-width="1.6"/>
<rect x="1307.0" y="393.4" width="17.6" height="174.9" fill="#e9e9e9" stroke="#a6a6a6" stroke-width="1.6"/>
<rect x="1332.6" y="388.7" width="17.6" height="179.6" fill="#e9e9e9" stroke="#a6a6a6" stroke-width="1.6"/>
<rect x="1358.7" y="411.6" width="17.6" height="156.7" fill="#e9e9e9" stroke="#a6a6a6" stroke-width="1.6"/>
<rect x="1384.7" y="414.4" width="17.6" height="153.9" fill="#e9e9e9" stroke="#a6a6a6" stroke-width="1.6"/>
<rect x="1410.8" y="451.1" width="17.6" height="117.2" fill="#e9e9e9" stroke="#a6a6a6" stroke-width="1.6"/>
<rect x="1436.8" y="503.2" width="17.6" height="65.1" fill="#e9e9e9" stroke="#a6a6a6" stroke-width="1.6"/>
<rect x="887.6" y="91.6" width="571.4" height="476.7" fill="none" stroke="#000" stroke-width="2.2"/>
<polyline points="1004.0,568.3 1030.1,568.3 1055.7,541.4 1081.8,568.3 1107.8,524.9 1133.9,568.3 1159.9,493.3 1186.0,453.8 1211.6,462.5 1238.0,445.1 1263.7,451.9 1289.7,400.6 1315.8,417.1 1341.4,426.2 1367.5,447.9 1393.5,432.9 1419.6,438.0 1445.6,447.9" fill="none" stroke="#8b30ff" stroke-width="3.8" stroke-linejoin="round" stroke-linecap="round"/>
<polyline points="899.8,568.3 1004.0,568.3 1030.1,558.4 1055.7,549.7 1081.8,568.3 1107.8,524.1 1133.9,500.4 1159.9,491.3 1186.0,482.2 1211.6,492.5 1238.0,467.6 1263.7,394.6 1289.7,389.5 1315.8,341.4 1341.4,314.9 1367.5,283.3 1393.5,284.9 1419.6,279.0 1445.6,257.3" fill="none" stroke="#e99cfa" stroke-width="3.8" stroke-linejoin="round" stroke-linecap="round"/>
<polyline points="899.8,114.4 925.5,114.4 951.9,114.4 977.6,114.4 1004.0,114.4 1030.1,124.3 1055.7,159.0 1081.8,115.2 1107.8,200.1 1133.9,182.3 1159.9,265.6 1186.0,312.5 1211.6,295.2 1238.0,337.4 1263.7,402.5 1289.7,459.7 1315.8,491.3 1341.4,507.9 1367.5,518.9 1393.5,532.0 1419.6,532.8 1445.6,545.4" fill="none" stroke="#3e3e3e" stroke-width="3.8" stroke-linejoin="round" stroke-linecap="round"/>
<line x1="874.6" y1="114.4" x2="887.6" y2="114.4" stroke="#000" stroke-width="2"/>
<text x="868.1" y="124.8" font-size="29" text-anchor="end" font-weight="normal" font-style="normal" fill="#000">100</text>
<line x1="874.6" y1="227.7" x2="887.6" y2="227.7" stroke="#000" stroke-width="2"/>
<text x="868.1" y="238.1" font-size="29" text-anchor="end" font-weight="normal" font-style="normal" fill="#000">75</text>
<line x1="874.6" y1="340.6" x2="887.6" y2="340.6" stroke="#000" stroke-width="2"/>
<text x="868.1" y="351.0" font-size="29" text-anchor="end" font-weight="normal" font-style="normal" fill="#000">50</text>
<line x1="874.6" y1="453.8" x2="887.6" y2="453.8" stroke="#000" stroke-width="2"/>
<text x="868.1" y="464.2" font-size="29" text-anchor="end" font-weight="normal" font-style="normal" fill="#000">25</text>
<line x1="874.6" y1="568.3" x2="887.6" y2="568.3" stroke="#000" stroke-width="2"/>
<text x="868.1" y="578.7" font-size="29" text-anchor="end" font-weight="normal" font-style="normal" fill="#000">0</text>
<line x1="1459" y1="127.5" x2="1472.0" y2="127.5" stroke="#000" stroke-width="2"/>
<text x="1478.4" y="137.9" font-size="29" text-anchor="start" font-weight="normal" font-style="normal" fill="#000">60</text>
<line x1="1459" y1="273.5" x2="1472.0" y2="273.5" stroke="#000" stroke-width="2"/>
<text x="1478.4" y="283.9" font-size="29" text-anchor="start" font-weight="normal" font-style="normal" fill="#000">40</text>
<line x1="1459" y1="420.3" x2="1472.0" y2="420.3" stroke="#000" stroke-width="2"/>
<text x="1478.4" y="430.7" font-size="29" text-anchor="start" font-weight="normal" font-style="normal" fill="#000">20</text>
<line x1="1459" y1="568.3" x2="1472.0" y2="568.3" stroke="#000" stroke-width="2"/>
<text x="1478.4" y="578.7" font-size="29" text-anchor="start" font-weight="normal" font-style="normal" fill="#000">0</text>
<line x1="899.4" y1="568.3" x2="899.4" y2="582.8" stroke="#000" stroke-width="2"/>
<line x1="1029.7" y1="568.3" x2="1029.7" y2="582.8" stroke="#000" stroke-width="2"/>
<line x1="1159.9" y1="568.3" x2="1159.9" y2="582.8" stroke="#000" stroke-width="2"/>
<line x1="1290.1" y1="568.3" x2="1290.1" y2="582.8" stroke="#000" stroke-width="2"/>
<line x1="1419.6" y1="568.3" x2="1419.6" y2="582.8" stroke="#000" stroke-width="2"/>
<text x="1442.5" y="138.9" font-size="39.0" text-anchor="end" font-weight="normal" font-style="normal" fill="#000">Connecticut</text>
<rect x="906.8" y="397.4" width="185.2" height="136" fill="#fff" stroke="#222" stroke-width="1.8"/>
<line x1="923.5" y1="413.6" x2="967" y2="413.6" stroke="#e99cfa" stroke-width="3.8" stroke-linecap="round"/>
<line x1="923.5" y1="444.7" x2="967" y2="444.7" stroke="#8b30ff" stroke-width="3.8" stroke-linecap="round"/>
<line x1="923.5" y1="480.3" x2="967" y2="480.3" stroke="#3e3e3e" stroke-width="3.8" stroke-linecap="round"/>
<rect x="933.6" y="507.3" width="17.4" height="16.8" fill="#e9e9e9" stroke="#a6a6a6" stroke-width="1.6"/>
<text x="988.6" y="423.4" font-size="25.4" text-anchor="start" font-weight="normal" font-style="normal" fill="#000">Alpha</text>
<text x="988.6" y="453.8" font-size="25.4" text-anchor="start" font-weight="normal" font-style="normal" fill="#000">Iota</text>
<text x="988.6" y="489.3" font-size="25.4" text-anchor="start" font-weight="normal" font-style="normal" fill="#000">Other</text>
<text x="986.7" y="524.9" font-size="25.4" text-anchor="start" font-weight="normal" font-style="normal" fill="#000">Cases</text>
<rect x="887.2" y="734.5" width="16.8" height="135.5" fill="#e9e9e9" stroke="#a6a6a6" stroke-width="1.6"/>
<rect x="911.0" y="620.8" width="16.8" height="249.2" fill="#e9e9e9" stroke="#a6a6a6" stroke-width="1.6"/>
<rect x="935.1" y="616.6" width="16.8" height="253.4" fill="#e9e9e9" stroke="#a6a6a6" stroke-width="1.6"/>
<rect x="958.9" y="673.3" width="16.8" height="196.7" fill="#e9e9e9" stroke="#a6a6a6" stroke-width="1.6"/>
<rect x="982.7" y="747.8" width="16.8" height="122.2" fill="#e9e9e9" stroke="#a6a6a6" stroke-width="1.6"/>
<rect x="1006.9" y="648.4" width="16.8" height="221.6" fill="#e9e9e9" stroke="#a6a6a6" stroke-width="1.6"/>
<rect x="1031.0" y="678.9" width="16.8" height="191.1" fill="#e9e9e9" stroke="#a6a6a6" stroke-width="1.6"/>
<rect x="1054.8" y="655.1" width="16.8" height="214.9" fill="#e9e9e9" stroke="#a6a6a6" stroke-width="1.6"/>
<rect x="1079.0" y="689.0" width="16.8" height="181.0" fill="#e9e9e9" stroke="#a6a6a6" stroke-width="1.6"/>
<rect x="1102.8" y="718.1" width="16.8" height="151.9" fill="#e9e9e9" stroke="#a6a6a6" stroke-width="1.6"/>
<rect x="1126.9" y="748.5" width="16.8" height="121.5" fill="#e9e9e9" stroke="#a6a6a6" stroke-width="1.6"/>
<rect x="1150.7" y="763.6" width="16.8" height="106.4" fill="#e9e9e9" stroke="#a6a6a6" stroke-width="1.6"/>
<rect x="1174.9" y="787.0" width="16.8" height="83.0" fill="#e9e9e9" stroke="#a6a6a6" stroke-width="1.6"/>
<rect x="1199.0" y="770.9" width="16.8" height="99.1" fill="#e9e9e9" stroke="#a6a6a6" stroke-width="1.6"/>
<rect x="1222.8" y="781.4" width="16.8" height="88.6" fill="#e9e9e9" stroke="#a6a6a6" stroke-width="1.6"/>
<rect x="1247.0" y="781.8" width="16.8" height="88.2" fill="#e9e9e9" stroke="#a6a6a6" stroke-width="1.6"/>
<rect x="1270.8" y="780.0" width="16.8" height="90.0" fill="#e9e9e9" stroke="#a6a6a6" stroke-width="1.6"/>
<rect x="1294.9" y="738.7" width="16.8" height="131.3" fill="#e9e9e9" stroke="#a6a6a6" stroke-width="1.6"/>
<rect x="1319.1" y="731.7" width="16.8" height="138.3" fill="#e9e9e9" stroke="#a6a6a6" stroke-width="1.6"/>
<rect x="1342.9" y="752.4" width="16.8" height="117.6" fill="#e9e9e9" stroke="#a6a6a6" stroke-width="1.6"/>
<rect x="1367.0" y="761.8" width="16.8" height="108.2" fill="#e9e9e9" stroke="#a6a6a6" stroke-width="1.6"/>
<rect x="1390.8" y="777.2" width="16.8" height="92.8" fill="#e9e9e9" stroke="#a6a6a6" stroke-width="1.6"/>
<rect x="1415.0" y="796.8" width="16.8" height="73.2" fill="#e9e9e9" stroke="#a6a6a6" stroke-width="1.6"/>
<rect x="1438.8" y="817.5" width="16.8" height="52.5" fill="#e9e9e9" stroke="#a6a6a6" stroke-width="1.6"/>
<rect x="886.8" y="586.5" width="566.0" height="283.5" fill="none" stroke="#000" stroke-width="2.2"/>
<polyline points="1057.3,870.0 1060.8,851.8 1064.3,836.0 1067.8,827.3 1071.3,827.3 1076.5,827.3 1080.0,815.0 1083.5,797.5 1085.3,815.0 1088.8,853.5 1092.3,870.0 1101.0,870.0 1104.5,846.5 1108.0,843.0 1111.5,841.3 1113.3,843.0 1116.8,841.3 1121.3,839.5 1125.5,839.5 1127.3,870.0 1150.0,870.0 1151.8,867.5 1155.3,839.5 1158.8,820.3 1162.3,819.2 1165.8,811.5 1169.3,810.8 1172.8,808.0 1176.3,799.3 1179.8,808.0 1183.3,809.8 1186.8,811.5 1190.3,820.3 1193.8,815.0 1197.3,808.0 1199.0,827.3 1202.5,828.3 1207.8,829.7 1211.3,830.8 1214.8,822.0 1218.3,820.3 1221.8,841.3 1227.0,841.3 1230.5,840.6 1234.0,839.5 1237.5,838.8 1240.3,806.3 1242.8,804.5 1246.3,801.0 1249.8,795.8 1253.3,799.3 1258.5,801.0 1263.8,801.7 1269.0,797.5 1274.3,794.0 1279.5,783.5 1284.8,771.3 1288.3,773.0 1293.5,776.5 1297.0,779.3 1302.3,777.2 1307.5,780.0 1312.8,783.5 1318.0,785.3 1323.3,788.8 1328.5,790.5 1332.0,784.2 1337.3,783.5 1340.8,787.7 1346.0,796.8 1351.3,801.0 1356.5,805.2 1361.8,804.5 1365.3,815.0 1370.5,808.7 1375.8,803.8 1381.0,805.2 1386.3,799.3 1391.5,801.0 1395.0,801.0 1400.3,799.3 1405.5,802.1 1410.8,802.8 1416.0,794.0 1421.3,796.8 1426.5,798.2 1430.0,796.8 1434.2,801.0 1437.7,818.5 1442.3,826.6 1446.8,828.3 1451.7,825.5" fill="none" stroke="#8b30ff" stroke-width="3.8" stroke-linejoin="round" stroke-linecap="round"/>
<polyline points="886.8,870.0 1057.3,870.0 1059.0,853.5 1062.5,855.3 1069.5,855.3 1074.8,855.3 1080.0,850.0 1081.8,869.3 1085.3,870.0 1111.5,870.0 1115.0,846.5 1120.3,844.8 1123.8,822.0 1126.2,776.5 1129.0,763.2 1130.8,773.0 1134.3,787.0 1137.8,788.8 1138.8,805.2 1143.0,808.0 1146.5,818.5 1150.0,869.3 1153.5,870.0 1157.0,864.0 1160.5,854.2 1164.0,853.5 1167.5,843.0 1171.0,844.8 1174.5,836.0 1179.8,832.5 1183.3,839.5 1186.8,844.1 1190.3,825.5 1193.8,818.5 1199.0,813.3 1204.3,815.0 1207.8,811.5 1211.3,803.8 1214.8,811.5 1218.3,816.8 1221.8,801.0 1227.0,794.0 1230.5,787.0 1235.8,788.8 1239.3,791.2 1241.7,788.8 1244.5,773.0 1249.8,767.8 1255.0,764.3 1260.3,759.0 1265.5,753.1 1269.0,759.0 1274.3,758.0 1279.5,759.0 1283.0,756.2 1288.3,759.0 1293.5,753.8 1297.0,745.0 1300.5,743.3 1304.0,744.3 1307.5,739.8 1311.0,729.3 1314.5,724.0 1318.0,718.8 1321.5,711.8 1325.0,708.3 1330.3,711.8 1335.5,717.0 1340.8,708.3 1344.3,701.3 1349.5,696.0 1354.8,690.8 1360.0,688.3 1365.3,676.8 1368.8,680.3 1374.0,678.5 1379.3,680.3 1382.8,677.8 1386.3,689.0 1391.5,684.8 1395.0,690.8 1400.3,690.8 1405.5,689.7 1410.8,686.6 1416.0,695.3 1421.3,689.0 1426.5,689.7 1430.0,692.5 1435.3,685.5 1440.5,677.8 1444.0,675.0 1446.8,666.3 1451.7,667.3" fill="none" stroke="#e99cfa" stroke-width="3.8" stroke-linejoin="round" stroke-linecap="round"/>
<polyline points="886.8,600.8 1057.3,600.8 1060.8,622.5 1063.2,643.5 1067.8,655.8 1071.3,660.3 1074.8,657.5 1078.3,657.5 1080.0,682.0 1083.5,673.3 1087.0,633.0 1090.5,600.8 1101.0,600.8 1104.5,624.3 1109.8,629.5 1112.6,632.3 1115.0,648.8 1118.5,650.5 1122.0,660.3 1123.8,685.5 1125.5,718.8 1129.0,703.0 1131.8,683.8 1135.3,683.8 1138.8,663.8 1142.3,666.3 1145.8,655.8 1150.0,626.0 1152.8,602.2 1156.3,626.0 1160.5,652.3 1165.8,671.5 1170.3,683.8 1173.8,683.8 1176.3,703.7 1179.8,702.3 1183.3,696.7 1186.8,685.5 1190.3,685.5 1193.8,701.3 1197.3,715.3 1200.8,699.5 1206.0,699.5 1207.8,696.0 1211.3,708.3 1214.8,710.0 1220.0,699.5 1224.2,691.8 1227.0,696.0 1230.5,711.8 1234.0,713.5 1237.5,713.5 1240.3,724.0 1242.8,748.5 1245.2,767.8 1248.0,774.8 1253.3,776.5 1256.8,780.0 1262.0,783.5 1269.0,787.0 1276.0,792.3 1283.0,809.8 1288.3,811.5 1293.5,815.0 1298.8,818.5 1305.8,821.3 1309.3,829.0 1314.5,833.2 1319.8,836.7 1323.3,840.2 1328.5,842.0 1333.8,837.8 1340.8,840.6 1346.0,842.0 1351.3,845.8 1356.5,848.3 1361.8,849.3 1367.0,848.3 1372.3,855.3 1381.0,856.3 1388.0,852.8 1393.3,850.0 1398.5,849.3 1405.5,849.3 1410.8,852.8 1416.0,851.1 1421.3,854.2 1426.5,850.0 1430.0,853.5 1434.2,855.3 1438.8,843.0 1443.3,839.5 1446.8,844.1 1449.3,847.6 1451.7,848.3" fill="none" stroke="#3e3e3e" stroke-width="3.8" stroke-linejoin="round" stroke-linecap="round"/>
<line x1="873.8" y1="600.8" x2="886.8" y2="600.8" stroke="#000" stroke-width="2"/>
<text x="867.3" y="610.3" font-size="26.6" text-anchor="end" font-weight="normal" font-style="normal" fill="#000">100</text>
<line x1="873.8" y1="668.0" x2="886.8" y2="668.0" stroke="#000" stroke-width="2"/>
<text x="867.3" y="677.5" font-size="26.6" text-anchor="end" font-weight="normal" font-style="normal" fill="#000">75</text>
<line x1="873.8" y1="735.6" x2="886.8" y2="735.6" stroke="#000" stroke-width="2"/>
<text x="867.3" y="745.1" font-size="26.6" text-anchor="end" font-weight="normal" font-style="normal" fill="#000">50</text>
<line x1="873.8" y1="802.8" x2="886.8" y2="802.8" stroke="#000" stroke-width="2"/>
<text x="867.3" y="812.3" font-size="26.6" text-anchor="end" font-weight="normal" font-style="normal" fill="#000">25</text>
<line x1="873.8" y1="870.0" x2="886.8" y2="870.0" stroke="#000" stroke-width="2"/>
<text x="867.3" y="879.5" font-size="26.6" text-anchor="end" font-weight="normal" font-style="normal" fill="#000">0</text>
<line x1="1452.8" y1="609.2" x2="1465.8" y2="609.2" stroke="#000" stroke-width="2"/>
<text x="1472.2" y="618.7" font-size="26.6" text-anchor="start" font-weight="normal" font-style="normal" fill="#000">60</text>
<line x1="1452.8" y1="695.3" x2="1465.8" y2="695.3" stroke="#000" stroke-width="2"/>
<text x="1472.2" y="704.8" font-size="26.6" text-anchor="start" font-weight="normal" font-style="normal" fill="#000">40</text>
<line x1="1452.8" y1="782.5" x2="1465.8" y2="782.5" stroke="#000" stroke-width="2"/>
<text x="1472.2" y="792.0" font-size="26.6" text-anchor="start" font-weight="normal" font-style="normal" fill="#000">20</text>
<line x1="1452.8" y1="870.0" x2="1465.8" y2="870.0" stroke="#000" stroke-width="2"/>
<text x="1472.2" y="879.5" font-size="26.6" text-anchor="start" font-weight="normal" font-style="normal" fill="#000">0</text>
<line x1="902.6" y1="870" x2="902.6" y2="884.5" stroke="#000" stroke-width="2"/>
<line x1="1039.8" y1="870" x2="1039.8" y2="884.5" stroke="#000" stroke-width="2"/>
<line x1="1177.0" y1="870" x2="1177.0" y2="884.5" stroke="#000" stroke-width="2"/>
<line x1="1313.8" y1="870" x2="1313.8" y2="884.5" stroke="#000" stroke-width="2"/>
<line x1="1451.0" y1="870" x2="1451.0" y2="884.5" stroke="#000" stroke-width="2"/>
<text x="1440.5" y="625.0" font-size="38.5" text-anchor="end" font-weight="normal" font-style="normal" fill="#595959">New Haven</text>
<rect x="888.2" y="1010.0" width="16.8" height="156.5" fill="#e9e9e9" stroke="#a6a6a6" stroke-width="1.6"/>
<rect x="912.0" y="962.1" width="16.8" height="204.4" fill="#e9e9e9" stroke="#a6a6a6" stroke-width="1.6"/>
<rect x="935.8" y="934.1" width="16.8" height="232.4" fill="#e9e9e9" stroke="#a6a6a6" stroke-width="1.6"/>
<rect x="960.0" y="983.1" width="16.8" height="183.4" fill="#e9e9e9" stroke="#a6a6a6" stroke-width="1.6"/>
<rect x="983.8" y="1053.1" width="16.8" height="113.4" fill="#e9e9e9" stroke="#a6a6a6" stroke-width="1.6"/>
<rect x="1007.9" y="966.3" width="16.8" height="200.2" fill="#e9e9e9" stroke="#a6a6a6" stroke-width="1.6"/>
<rect x="1032.1" y="991.8" width="16.8" height="174.7" fill="#e9e9e9" stroke="#a6a6a6" stroke-width="1.6"/>
<rect x="1055.9" y="963.5" width="16.8" height="203.0" fill="#e9e9e9" stroke="#a6a6a6" stroke-width="1.6"/>
<rect x="1080.0" y="1013.5" width="16.8" height="153.0" fill="#e9e9e9" stroke="#a6a6a6" stroke-width="1.6"/>
<rect x="1103.8" y="1031.4" width="16.8" height="135.1" fill="#e9e9e9" stroke="#a6a6a6" stroke-width="1.6"/>
<rect x="1128.0" y="1058.3" width="16.8" height="108.2" fill="#e9e9e9" stroke="#a6a6a6" stroke-width="1.6"/>
<rect x="1152.1" y="1070.6" width="16.8" height="95.9" fill="#e9e9e9" stroke="#a6a6a6" stroke-width="1.6"/>
<rect x="1175.9" y="1090.5" width="16.8" height="76.0" fill="#e9e9e9" stroke="#a6a6a6" stroke-width="1.6"/>
<rect x="1199.7" y="1072.3" width="16.8" height="94.2" fill="#e9e9e9" stroke="#a6a6a6" stroke-width="1.6"/>
<rect x="1223.9" y="1096.8" width="16.8" height="69.7" fill="#e9e9e9" stroke="#a6a6a6" stroke-width="1.6"/>
<rect x="1247.7" y="1097.5" width="16.8" height="69.0" fill="#e9e9e9" stroke="#a6a6a6" stroke-width="1.6"/>
<rect x="1271.8" y="1079.3" width="16.8" height="87.2" fill="#e9e9e9" stroke="#a6a6a6" stroke-width="1.6"/>
<rect x="1295.6" y="1044.3" width="16.8" height="122.2" fill="#e9e9e9" stroke="#a6a6a6" stroke-width="1.6"/>
<rect x="1319.8" y="1045.7" width="16.8" height="120.8" fill="#e9e9e9" stroke="#a6a6a6" stroke-width="1.6"/>
<rect x="1343.9" y="1056.6" width="16.8" height="109.9" fill="#e9e9e9" stroke="#a6a6a6" stroke-width="1.6"/>
<rect x="1367.7" y="1056.6" width="16.8" height="109.9" fill="#e9e9e9" stroke="#a6a6a6" stroke-width="1.6"/>
<rect x="1391.9" y="1090.5" width="16.8" height="76.0" fill="#e9e9e9" stroke="#a6a6a6" stroke-width="1.6"/>
<rect x="1415.7" y="1117.8" width="16.8" height="48.7" fill="#e9e9e9" stroke="#a6a6a6" stroke-width="1.6"/>
<rect x="1439.8" y="1129.0" width="16.8" height="37.5" fill="#e9e9e9" stroke="#a6a6a6" stroke-width="1.6"/>
<rect x="887.5" y="884.7" width="565.6" height="281.8" fill="none" stroke="#000" stroke-width="2.2"/>
<polyline points="1153.5,1166.5 1171.0,1166.5 1174.5,1115.0 1177.3,1062.5 1179.8,1066.0 1183.3,1076.5 1186.8,1076.5 1193.8,1076.5 1195.5,1115.0 1199.0,1122.0 1202.5,1111.5 1206.0,1094.0 1209.5,1066.0 1218.3,1066.0 1221.8,1076.5 1225.3,1060.8 1227.0,1094.0 1229.8,1094.0 1232.3,1090.5 1234.0,1136.0 1237.5,1164.0 1240.3,1136.0 1242.8,1060.8 1245.2,1062.5 1248.0,1055.5 1251.5,1073.0 1255.0,1073.0 1260.3,1076.5 1263.8,1081.8 1269.0,1081.8 1272.5,1088.8 1276.0,1080.0 1279.5,1071.3 1283.0,1066.0 1286.5,1060.8 1290.0,1055.5 1293.5,1074.8 1298.8,1076.5 1304.0,1079.0 1309.3,1080.0 1314.5,1082.8 1318.0,1086.3 1321.5,1080.0 1325.0,1078.3 1328.5,1088.8 1333.8,1088.8 1337.3,1090.5 1340.8,1073.0 1344.3,1090.5 1349.5,1087.7 1353.0,1085.3 1358.3,1087.0 1363.5,1088.8 1367.0,1080.0 1370.5,1069.5 1375.8,1059.0 1381.0,1053.8 1384.5,1052.0 1388.0,1060.8 1391.5,1048.5 1395.0,1044.3 1398.5,1053.8 1403.8,1060.8 1409.0,1052.0 1414.3,1060.8 1419.5,1057.3 1426.5,1052.7 1433.5,1049.2 1435.3,1052.0 1438.8,1115.0 1440.5,1139.5 1444.0,1132.5 1447.5,1115.0 1453.1,1106.3" fill="none" stroke="#8b30ff" stroke-width="3.8" stroke-linejoin="round" stroke-linecap="round"/>
<polyline points="887.5,1166.5 1106.3,1166.5 1108.7,1136.7 1122.0,1136.7 1125.5,1125.5 1129.0,1114.3 1130.8,1139.5 1132.5,1166.5 1150.0,1166.5 1153.5,1136.0 1157.0,1104.5 1160.5,1059.0 1164.0,1034.5 1167.5,1097.5 1170.3,1165.8 1174.5,1080.0 1178.0,1060.8 1181.5,1094.0 1185.0,1115.0 1188.5,1121.3 1197.3,1121.3 1200.8,1111.5 1204.3,1101.0 1207.8,1108.0 1211.3,1133.2 1220.0,1133.2 1221.8,1115.0 1224.2,1144.8 1227.0,1166.5 1241.7,1166.5 1244.5,1139.5 1249.8,1125.5 1251.5,1101.0 1255.0,1092.3 1260.3,1090.5 1265.5,1086.3 1270.8,1081.8 1276.0,1079.3 1281.3,1081.8 1284.8,1083.5 1288.3,1080.0 1291.8,1074.8 1295.3,1059.0 1298.8,1048.5 1302.3,1043.3 1305.8,1045.0 1309.3,1038.0 1314.5,1034.5 1317.3,1025.8 1321.5,1032.8 1326.8,1025.8 1332.0,1014.6 1337.3,1016.3 1341.8,1022.3 1346.0,1017.0 1349.5,1013.5 1354.8,1018.8 1358.3,1027.5 1362.8,1022.3 1367.0,1034.5 1372.3,1052.0 1377.5,1050.3 1382.8,1046.8 1388.0,1038.0 1391.5,1034.5 1395.0,1041.5 1398.5,1025.8 1402.0,1021.2 1407.3,1017.7 1410.8,1024.0 1416.0,1025.8 1419.5,1018.8 1424.8,1025.8 1430.0,1036.3 1433.5,1045.0 1437.0,1034.5 1438.8,982.0 1442.3,943.5 1445.8,954.0 1449.3,966.3 1453.1,989.0" fill="none" stroke="#e99cfa" stroke-width="3.8" stroke-linejoin="round" stroke-linecap="round"/>
<polyline points="887.5,897.3 1106.3,897.3 1108.7,957.5 1122.0,957.5 1125.5,971.5 1129.0,1004.8 1130.8,957.5 1133.2,897.3 1150.0,897.3 1152.8,940.0 1157.0,964.5 1160.5,1003.0 1165.8,1032.1 1171.0,1032.1 1173.8,1073.0 1177.3,1111.5 1181.5,1073.0 1186.8,1032.1 1193.8,1032.1 1198.0,989.0 1201.8,1006.5 1205.3,1031.0 1207.8,1006.5 1211.3,1032.1 1221.8,1032.1 1225.3,1006.5 1228.8,964.5 1231.2,973.3 1234.0,926.0 1237.5,897.3 1240.3,933.0 1243.8,1006.5 1248.0,1038.0 1253.3,1067.8 1258.5,1066.0 1263.8,1060.8 1267.3,1062.5 1272.5,1057.3 1276.0,1064.3 1280.2,1076.5 1284.8,1087.0 1288.3,1087.0 1291.8,1091.2 1293.5,1080.0 1297.0,1099.3 1300.5,1106.3 1304.0,1109.8 1307.5,1106.3 1311.0,1111.5 1314.5,1116.8 1318.0,1120.3 1321.5,1117.8 1326.8,1115.0 1330.3,1127.3 1333.8,1125.5 1337.3,1121.3 1341.8,1136.7 1346.0,1125.5 1351.3,1129.0 1356.5,1118.5 1360.0,1118.5 1363.5,1115.7 1367.0,1108.0 1370.5,1116.1 1374.0,1116.8 1377.5,1127.3 1381.0,1133.6 1384.5,1130.8 1388.0,1144.8 1393.3,1147.6 1398.5,1152.8 1402.0,1150.7 1407.3,1150.7 1410.8,1152.8 1416.0,1150.0 1421.3,1144.8 1426.5,1138.8 1430.0,1135.3 1434.2,1148.3 1437.0,1143.0 1442.3,1142.3 1445.8,1135.3 1449.3,1136.0 1452.8,1137.8" fill="none" stroke="#3e3e3e" stroke-width="3.8" stroke-linejoin="round" stroke-linecap="round"/>
<line x1="874.5" y1="897.3" x2="887.5" y2="897.3" stroke="#000" stroke-width="2"/>
<text x="868.0" y="906.8" font-size="26.6" text-anchor="end" font-weight="normal" font-style="normal" fill="#000">100</text>
<line x1="874.5" y1="964.5" x2="887.5" y2="964.5" stroke="#000" stroke-width="2"/>
<text x="868.0" y="974.0" font-size="26.6" text-anchor="end" font-weight="normal" font-style="normal" fill="#000">75</text>
<line x1="874.5" y1="1032.0" x2="887.5" y2="1032.0" stroke="#000" stroke-width="2"/>
<text x="868.0" y="1041.5" font-size="26.6" text-anchor="end" font-weight="normal" font-style="normal" fill="#000">50</text>
<line x1="874.5" y1="1099.3" x2="887.5" y2="1099.3" stroke="#000" stroke-width="2"/>
<text x="868.0" y="1108.8" font-size="26.6" text-anchor="end" font-weight="normal" font-style="normal" fill="#000">25</text>
<line x1="874.5" y1="1166.5" x2="887.5" y2="1166.5" stroke="#000" stroke-width="2"/>
<text x="868.0" y="1176.0" font-size="26.6" text-anchor="end" font-weight="normal" font-style="normal" fill="#000">0</text>
<line x1="1453.1" y1="906.0" x2="1466.1" y2="906.0" stroke="#000" stroke-width="2"/>
<text x="1472.5" y="915.5" font-size="26.6" text-anchor="start" font-weight="normal" font-style="normal" fill="#000">60</text>
<line x1="1453.1" y1="992.5" x2="1466.1" y2="992.5" stroke="#000" stroke-width="2"/>
<text x="1472.5" y="1002.0" font-size="26.6" text-anchor="start" font-weight="normal" font-style="normal" fill="#000">40</text>
<line x1="1453.1" y1="1079.3" x2="1466.1" y2="1079.3" stroke="#000" stroke-width="2"/>
<text x="1472.5" y="1088.8" font-size="26.6" text-anchor="start" font-weight="normal" font-style="normal" fill="#000">20</text>
<line x1="1453.1" y1="1166.5" x2="1466.1" y2="1166.5" stroke="#000" stroke-width="2"/>
<text x="1472.5" y="1176.0" font-size="26.6" text-anchor="start" font-weight="normal" font-style="normal" fill="#000">0</text>
<line x1="903.3" y1="1166.5" x2="903.3" y2="1181.0" stroke="#000" stroke-width="2"/>
<line x1="1040.5" y1="1166.5" x2="1040.5" y2="1181.0" stroke="#000" stroke-width="2"/>
<line x1="1177.3" y1="1166.5" x2="1177.3" y2="1181.0" stroke="#000" stroke-width="2"/>
<line x1="1314.5" y1="1166.5" x2="1314.5" y2="1181.0" stroke="#000" stroke-width="2"/>
<line x1="1451.7" y1="1166.5" x2="1451.7" y2="1181.0" stroke="#000" stroke-width="2"/>
<text x="1437.9" y="923.4" font-size="37.9" text-anchor="end" font-weight="normal" font-style="normal" fill="#595959">Fairfield</text>
<rect x="880.2" y="1391.2" width="16.8" height="77.0" fill="#e9e9e9" stroke="#a6a6a6" stroke-width="1.6"/>
<rect x="904.0" y="1350.6" width="16.8" height="117.6" fill="#e9e9e9" stroke="#a6a6a6" stroke-width="1.6"/>
<rect x="928.1" y="1342.2" width="16.8" height="126.0" fill="#e9e9e9" stroke="#a6a6a6" stroke-width="1.6"/>
<rect x="952.3" y="1343.3" width="16.8" height="124.9" fill="#e9e9e9" stroke="#a6a6a6" stroke-width="1.6"/>
<rect x="976.1" y="1327.5" width="16.8" height="140.7" fill="#e9e9e9" stroke="#a6a6a6" stroke-width="1.6"/>
<rect x="1000.2" y="1317.4" width="16.8" height="150.8" fill="#e9e9e9" stroke="#a6a6a6" stroke-width="1.6"/>
<rect x="1024.0" y="1260.0" width="16.8" height="208.2" fill="#e9e9e9" stroke="#a6a6a6" stroke-width="1.6"/>
<rect x="1047.8" y="1251.6" width="16.8" height="216.6" fill="#e9e9e9" stroke="#a6a6a6" stroke-width="1.6"/>
<rect x="1072.0" y="1264.5" width="16.8" height="203.7" fill="#e9e9e9" stroke="#a6a6a6" stroke-width="1.6"/>
<rect x="1095.8" y="1267.3" width="16.8" height="200.9" fill="#e9e9e9" stroke="#a6a6a6" stroke-width="1.6"/>
<rect x="1119.9" y="1321.9" width="16.8" height="146.3" fill="#e9e9e9" stroke="#a6a6a6" stroke-width="1.6"/>
<rect x="1144.1" y="1310.7" width="16.8" height="157.5" fill="#e9e9e9" stroke="#a6a6a6" stroke-width="1.6"/>
<rect x="1167.9" y="1319.8" width="16.8" height="148.4" fill="#e9e9e9" stroke="#a6a6a6" stroke-width="1.6"/>
<rect x="1192.0" y="1325.8" width="16.8" height="142.4" fill="#e9e9e9" stroke="#a6a6a6" stroke-width="1.6"/>
<rect x="1215.8" y="1327.5" width="16.8" height="140.7" fill="#e9e9e9" stroke="#a6a6a6" stroke-width="1.6"/>
<rect x="1240.0" y="1341.9" width="16.8" height="126.3" fill="#e9e9e9" stroke="#a6a6a6" stroke-width="1.6"/>
<rect x="1263.8" y="1382.1" width="16.8" height="86.1" fill="#e9e9e9" stroke="#a6a6a6" stroke-width="1.6"/>
<rect x="1287.9" y="1254.4" width="16.8" height="213.8" fill="#e9e9e9" stroke="#a6a6a6" stroke-width="1.6"/>
<rect x="1312.1" y="1329.3" width="16.8" height="138.9" fill="#e9e9e9" stroke="#a6a6a6" stroke-width="1.6"/>
<rect x="1335.9" y="1345.0" width="16.8" height="123.2" fill="#e9e9e9" stroke="#a6a6a6" stroke-width="1.6"/>
<rect x="1360.0" y="1371.3" width="16.8" height="96.9" fill="#e9e9e9" stroke="#a6a6a6" stroke-width="1.6"/>
<rect x="1383.8" y="1389.8" width="16.8" height="78.4" fill="#e9e9e9" stroke="#a6a6a6" stroke-width="1.6"/>
<rect x="1408.0" y="1417.1" width="16.8" height="51.1" fill="#e9e9e9" stroke="#a6a6a6" stroke-width="1.6"/>
<rect x="1431.8" y="1431.8" width="16.8" height="36.4" fill="#e9e9e9" stroke="#a6a6a6" stroke-width="1.6"/>
<rect x="879.8" y="1185.8" width="566.0" height="282.4" fill="none" stroke="#000" stroke-width="2.2"/>
<polyline points="921.8,1468.2 927.8,1467.5 931.3,1458.8 938.3,1458.8 943.5,1459.1 948.8,1457.7 954.0,1461.2 959.3,1463.0 962.8,1460.5 968.0,1457.7 973.3,1458.8 978.5,1460.5 982.0,1457.0 985.5,1450.0 989.0,1451.8 992.5,1446.5 996.0,1437.8 1001.3,1435.3 1006.5,1430.8 1011.8,1429.0 1015.3,1424.8 1018.8,1428.3 1022.3,1434.3 1027.5,1437.1 1032.8,1438.8 1036.3,1440.6 1041.5,1441.3 1045.0,1444.1 1048.5,1445.5 1052.0,1442.3 1055.5,1435.0 1059.0,1431.8 1064.3,1429.7 1069.5,1428.3 1074.8,1423.8 1078.3,1424.8 1083.5,1425.5 1088.8,1423.8 1094.0,1420.3 1097.5,1420.3 1101.0,1411.5 1104.5,1401.0 1108.0,1390.5 1111.5,1380.0 1115.0,1378.3 1118.5,1367.8 1122.0,1359.0 1125.5,1352.7 1130.8,1356.2 1136.0,1354.8 1141.3,1357.3 1146.5,1355.5 1151.8,1353.8 1160.5,1353.8 1164.0,1348.5 1167.5,1341.5 1172.8,1339.8 1176.3,1331.0 1179.8,1317.0 1183.3,1303.0 1186.8,1285.5 1190.3,1281.3 1193.8,1281.3 1197.3,1282.7 1200.8,1296.0 1204.3,1317.0 1207.8,1325.8 1211.3,1327.5 1214.8,1325.8 1218.3,1321.2 1223.5,1317.0 1227.0,1308.3 1230.5,1301.3 1234.0,1299.5 1237.5,1289.0 1241.0,1296.0 1244.5,1304.8 1248.0,1312.8 1253.3,1311.8 1256.8,1313.5 1260.3,1324.0 1263.8,1338.0 1267.3,1336.3 1270.8,1334.5 1274.3,1334.5 1277.8,1329.3 1281.3,1329.3 1284.8,1313.5 1288.3,1299.5 1291.8,1296.0 1295.3,1294.3 1298.8,1292.5 1302.3,1299.5 1305.8,1301.3 1309.3,1310.0 1312.8,1320.5 1316.3,1331.0 1319.8,1341.5 1323.3,1346.8 1326.8,1345.0 1330.3,1336.3 1333.8,1341.5 1337.3,1324.0 1340.8,1299.5 1344.3,1302.3 1349.5,1308.3 1353.0,1313.5 1356.5,1320.5 1360.0,1325.8 1363.5,1328.2 1367.0,1338.0 1370.5,1348.5 1374.0,1352.0 1377.5,1355.5 1381.0,1360.8 1384.5,1360.8 1388.0,1366.0 1391.5,1304.8 1394.3,1352.0 1396.8,1348.5 1400.3,1339.8 1403.8,1338.0 1409.0,1338.0 1412.5,1341.5 1416.0,1350.3 1419.5,1348.5 1423.0,1380.0 1426.5,1399.3 1430.0,1408.0 1433.5,1415.0 1437.0,1420.3 1440.5,1429.0 1444.0,1443.0" fill="none" stroke="#8b30ff" stroke-width="3.8" stroke-linejoin="round" stroke-linecap="round"/>
<polyline points="921.8,1468.2 975.0,1468.2 982.0,1466.8 987.3,1465.8 992.5,1466.8 1003.0,1467.5 1010.0,1468.2 1020.5,1468.2 1038.0,1467.5 1045.0,1465.8 1052.0,1464.7 1059.0,1465.1 1066.0,1466.5 1073.0,1467.5 1080.0,1467.5 1087.0,1466.8 1094.0,1464.0 1097.5,1458.1 1101.0,1457.0 1104.5,1459.5 1108.0,1458.8 1111.5,1460.5 1115.0,1460.5 1120.3,1462.3 1125.5,1458.8 1130.8,1455.3 1136.0,1451.8 1141.3,1450.0 1146.5,1450.0 1151.8,1448.3 1157.0,1444.8 1160.5,1445.8 1165.8,1446.5 1171.0,1448.3 1176.3,1451.8 1179.8,1455.3 1182.2,1468.2 1185.0,1464.0 1188.5,1458.8 1193.8,1455.3 1199.0,1450.0 1202.5,1446.5 1207.8,1447.6 1213.0,1439.5 1218.3,1439.5 1223.5,1439.5 1228.8,1436.0 1234.0,1430.8 1239.3,1434.3 1244.5,1434.3 1249.8,1430.8 1251.5,1420.3 1255.0,1416.8 1258.5,1415.0 1262.0,1404.5 1265.5,1394.0 1269.0,1386.3 1274.3,1386.0 1279.5,1386.3 1283.0,1390.5 1286.5,1399.3 1290.0,1399.3 1295.3,1399.3 1298.8,1398.2 1304.0,1401.0 1307.5,1404.5 1311.0,1390.5 1314.5,1383.5 1319.8,1378.3 1325.0,1380.0 1328.5,1381.8 1332.0,1383.5 1335.5,1397.5 1339.0,1415.0 1340.8,1429.0 1344.3,1415.0 1347.8,1420.3 1351.3,1404.5 1356.5,1380.0 1360.0,1380.0 1363.5,1386.3 1367.0,1380.0 1370.5,1371.3 1374.0,1370.2 1377.5,1373.0 1381.0,1376.5 1384.5,1376.5 1388.0,1373.0 1391.5,1425.5 1394.3,1394.0 1398.5,1380.0 1402.0,1378.3 1405.5,1373.0 1409.0,1366.0 1412.5,1362.5 1416.0,1364.3 1419.5,1355.5 1423.0,1341.5 1426.5,1329.3 1430.0,1332.8 1433.5,1331.0 1437.0,1331.0 1440.5,1317.0 1444.0,1309.3 1445.8,1308.3" fill="none" stroke="#e99cfa" stroke-width="3.8" stroke-linejoin="round" stroke-linecap="round"/>
<polyline points="921.8,1199.1 929.5,1199.1 932.3,1209.2 938.3,1209.6 943.5,1209.6 948.8,1211.0 954.0,1206.8 959.3,1205.0 962.8,1206.8 968.0,1210.3 973.3,1208.5 976.8,1209.2 980.3,1206.8 983.8,1213.8 987.3,1221.8 990.8,1220.8 994.3,1226.0 997.8,1234.8 1001.3,1233.0 1004.8,1236.5 1010.0,1237.6 1015.3,1243.5 1018.8,1240.0 1022.3,1233.0 1027.5,1233.0 1032.8,1230.6 1036.3,1230.2 1041.5,1226.7 1045.0,1227.8 1049.2,1224.3 1052.0,1227.8 1055.5,1234.8 1059.0,1240.0 1062.5,1241.8 1067.8,1241.8 1071.3,1243.5 1076.5,1245.3 1081.8,1244.2 1085.3,1245.3 1090.5,1248.8 1095.8,1255.8 1100.3,1263.8 1104.5,1275.0 1108.0,1282.0 1111.5,1292.5 1115.0,1297.8 1118.5,1306.5 1122.0,1315.3 1125.5,1322.3 1129.0,1321.2 1132.5,1325.8 1136.0,1329.3 1139.5,1327.5 1143.0,1329.3 1146.5,1331.0 1150.0,1334.5 1153.5,1336.3 1157.0,1338.0 1162.3,1341.5 1165.8,1343.3 1171.0,1346.8 1174.5,1348.5 1178.0,1357.3 1181.5,1366.0 1185.0,1376.5 1188.5,1390.5 1192.0,1399.3 1195.5,1403.8 1199.0,1401.0 1202.5,1380.0 1206.0,1367.8 1209.5,1363.6 1213.0,1369.5 1218.3,1374.8 1223.5,1381.8 1227.0,1390.5 1230.5,1399.3 1234.0,1408.0 1237.5,1412.2 1241.0,1408.0 1244.5,1399.3 1248.0,1394.0 1251.5,1402.8 1255.0,1407.3 1258.5,1410.8 1262.0,1408.0 1265.5,1404.5 1269.0,1415.0 1274.3,1415.0 1279.5,1419.2 1283.0,1420.3 1286.5,1429.0 1290.0,1441.3 1293.5,1441.3 1297.0,1444.8 1300.5,1439.5 1304.0,1437.8 1307.5,1425.5 1312.8,1422.0 1317.3,1416.8 1321.5,1412.2 1325.0,1411.5 1327.8,1408.7 1330.3,1416.8 1333.8,1411.5 1337.3,1404.5 1340.8,1406.3 1344.3,1411.5 1347.8,1411.5 1353.0,1418.5 1356.5,1429.0 1360.0,1430.8 1363.5,1425.5 1367.0,1415.0 1370.5,1411.5 1374.0,1413.3 1376.8,1408.0 1381.0,1390.5 1384.5,1383.5 1388.0,1383.5 1391.5,1394.0 1395.0,1408.0 1399.2,1406.3 1402.0,1416.8 1405.5,1418.5 1409.0,1423.8 1412.5,1429.0 1416.0,1422.0 1419.5,1433.2 1423.0,1423.8 1426.5,1402.8 1430.0,1396.8 1433.5,1392.3 1437.0,1388.8 1440.5,1397.5 1443.3,1388.8 1445.8,1383.5" fill="none" stroke="#3e3e3e" stroke-width="3.8" stroke-linejoin="round" stroke-linecap="round"/>
<line x1="866.8" y1="1199.8" x2="879.8" y2="1199.8" stroke="#000" stroke-width="2"/>
<text x="860.3" y="1209.3" font-size="26.6" text-anchor="end" font-weight="normal" font-style="normal" fill="#000">100</text>
<line x1="866.8" y1="1267.0" x2="879.8" y2="1267.0" stroke="#000" stroke-width="2"/>
<text x="860.3" y="1276.5" font-size="26.6" text-anchor="end" font-weight="normal" font-style="normal" fill="#000">75</text>
<line x1="866.8" y1="1333.8" x2="879.8" y2="1333.8" stroke="#000" stroke-width="2"/>
<text x="860.3" y="1343.3" font-size="26.6" text-anchor="end" font-weight="normal" font-style="normal" fill="#000">50</text>
<line x1="866.8" y1="1401.0" x2="879.8" y2="1401.0" stroke="#000" stroke-width="2"/>
<text x="860.3" y="1410.5" font-size="26.6" text-anchor="end" font-weight="normal" font-style="normal" fill="#000">25</text>
<line x1="866.8" y1="1468.2" x2="879.8" y2="1468.2" stroke="#000" stroke-width="2"/>
<text x="860.3" y="1477.7" font-size="26.6" text-anchor="end" font-weight="normal" font-style="normal" fill="#000">0</text>
<line x1="1445.8" y1="1206.8" x2="1458.8" y2="1206.8" stroke="#000" stroke-width="2"/>
<text x="1465.2" y="1216.3" font-size="26.6" text-anchor="start" font-weight="normal" font-style="normal" fill="#000">60</text>
<line x1="1445.8" y1="1294.3" x2="1458.8" y2="1294.3" stroke="#000" stroke-width="2"/>
<text x="1465.2" y="1303.8" font-size="26.6" text-anchor="start" font-weight="normal" font-style="normal" fill="#000">40</text>
<line x1="1445.8" y1="1381.0" x2="1458.8" y2="1381.0" stroke="#000" stroke-width="2"/>
<text x="1465.2" y="1390.5" font-size="26.6" text-anchor="start" font-weight="normal" font-style="normal" fill="#000">20</text>
<line x1="1445.8" y1="1468.2" x2="1458.8" y2="1468.2" stroke="#000" stroke-width="2"/>
<text x="1465.2" y="1477.7" font-size="26.6" text-anchor="start" font-weight="normal" font-style="normal" fill="#000">0</text>
<line x1="894.5" y1="1468.2" x2="894.5" y2="1482.7" stroke="#000" stroke-width="2"/>
<line x1="1032.0" y1="1468.2" x2="1032.0" y2="1482.7" stroke="#000" stroke-width="2"/>
<line x1="1169.3" y1="1468.2" x2="1169.3" y2="1482.7" stroke="#000" stroke-width="2"/>
<line x1="1306.5" y1="1468.2" x2="1306.5" y2="1482.7" stroke="#000" stroke-width="2"/>
<line x1="1444.0" y1="1468.2" x2="1444.0" y2="1482.7" stroke="#000" stroke-width="2"/>
<text x="1430.0" y="1226.0" font-size="38.5" text-anchor="end" font-weight="normal" font-style="normal" fill="#595959">New York City</text>
<text x="894.5" y="1514.4" font-size="29.2" text-anchor="middle" font-weight="normal" font-style="normal" fill="#000">Dec.</text>
<text x="1032.0" y="1514.4" font-size="29.2" text-anchor="middle" font-weight="normal" font-style="normal" fill="#000">Jan.</text>
<text x="1169.3" y="1514.4" font-size="29.2" text-anchor="middle" font-weight="normal" font-style="normal" fill="#000">Feb.</text>
<text x="1306.5" y="1514.4" font-size="29.2" text-anchor="middle" font-weight="normal" font-style="normal" fill="#000">Apr.</text>
<text x="1444.0" y="1514.4" font-size="29.2" text-anchor="middle" font-weight="normal" font-style="normal" fill="#000">May</text>
<text x="1509.8" y="26.7" font-size="36.5" text-anchor="start" font-weight="bold" font-style="normal" fill="#1c1c1e">d)</text>
<text x="1938.7" y="53.7" font-size="25.5" text-anchor="end" font-weight="normal" font-style="normal" fill="#000">Logistic</text>
<text x="1938.7" y="82.5" font-size="25.5" text-anchor="end" font-weight="normal" font-style="normal" fill="#000">growth rate</text>
<polyline points="1562.5,344.8 1568.8,344.5 1575.1,344.2 1581.4,343.8 1587.7,343.5 1594.0,343.1 1600.2,342.7 1606.5,342.3 1612.8,341.9 1619.1,341.4 1625.4,340.9 1631.7,340.4 1638.0,339.9 1644.3,339.3 1650.6,338.7 1656.9,338.1 1663.2,337.5 1669.5,336.8 1675.8,336.1 1682.0,335.3 1688.3,334.5 1694.6,333.6 1700.9,332.8 1707.2,331.8 1713.5,330.9 1719.8,329.8 1726.1,328.8 1732.4,327.6 1738.7,326.5 1745.0,325.2 1751.2,323.9 1757.5,322.6 1763.8,321.2 1770.1,319.7 1776.4,318.2 1782.7,316.6 1789.0,314.9 1795.3,313.2 1801.6,311.4 1807.9,309.5 1814.2,307.6 1820.5,305.5 1826.8,303.4 1833.0,301.3 1839.3,299.0 1845.6,296.7 1851.9,294.3 1858.2,291.8 1864.5,289.3 1870.8,286.7 1877.1,284.0 1883.4,281.2 1889.7,278.4 1896.0,275.5 1902.2,272.6 1908.5,269.6 1914.8,266.5 1921.1,263.3 1927.4,260.2 1933.7,256.9 1940.0,253.7" fill="none" stroke="#8b30ff" stroke-width="3.6" stroke-linejoin="round" stroke-linecap="round"/>
<polyline points="1562.5,348.6 1568.8,348.4 1575.1,348.2 1581.4,348.0 1587.7,347.8 1594.0,347.5 1600.2,347.2 1606.5,346.9 1612.8,346.5 1619.1,346.1 1625.4,345.7 1631.7,345.2 1638.0,344.6 1644.3,344.0 1650.6,343.3 1656.9,342.6 1663.2,341.7 1669.5,340.8 1675.8,339.7 1682.0,338.6 1688.3,337.3 1694.6,335.9 1700.9,334.3 1707.2,332.6 1713.5,330.7 1719.8,328.6 1726.1,326.3 1732.4,323.8 1738.7,321.0 1745.0,318.0 1751.2,314.8 1757.5,311.3 1763.8,307.5 1770.1,303.4 1776.4,299.1 1782.7,294.4 1789.0,289.5 1795.3,284.2 1801.6,278.7 1807.9,273.0 1814.2,267.0 1820.5,260.7 1826.8,254.3 1833.0,247.8 1839.3,241.1 1845.6,234.3 1851.9,227.5 1858.2,220.7 1864.5,214.0 1870.8,207.3 1877.1,200.8 1883.4,194.4 1889.7,188.3 1896.0,182.3 1902.2,176.6 1908.5,171.2 1914.8,166.1 1921.1,161.2 1927.4,156.6 1933.7,152.3 1940.0,148.4" fill="none" stroke="#e99cfa" stroke-width="3.6" stroke-linejoin="round" stroke-linecap="round"/>
<polyline points="1562.5,107.7 1568.8,107.9 1575.1,108.0 1581.4,108.2 1587.7,108.4 1594.0,108.6 1600.2,108.9 1606.5,109.3 1612.8,109.7 1619.1,110.1 1625.4,110.7 1631.7,111.3 1638.0,112.0 1644.3,112.9 1650.6,113.9 1656.9,115.1 1663.2,116.5 1669.5,118.1 1675.8,120.0 1682.0,122.1 1688.3,124.6 1694.6,127.4 1700.9,130.7 1707.2,134.4 1713.5,138.7 1719.8,143.4 1726.1,148.8 1732.4,154.7 1738.7,161.3 1745.0,168.4 1751.2,176.2 1757.5,184.5 1763.8,193.4 1770.1,202.7 1776.4,212.3 1782.7,222.1 1789.0,232.0 1795.3,241.8 1801.6,251.5 1807.9,260.9 1814.2,269.8 1820.5,278.3 1826.8,286.3 1833.0,293.7 1839.3,300.4 1845.6,306.5 1851.9,312.0 1858.2,317.0 1864.5,321.3 1870.8,325.2 1877.1,328.6 1883.4,331.6 1889.7,334.2 1896.0,336.4 1902.2,338.4 1908.5,340.0 1914.8,341.5 1921.1,342.7 1927.4,343.8 1933.7,344.7 1940.0,345.5" fill="none" stroke="#3e3e3e" stroke-width="3.6" stroke-linejoin="round" stroke-linecap="round"/>
<rect x="1562.5" y="95" width="377.5" height="255.0" fill="none" stroke="#000" stroke-width="2"/>
<line x1="1940" y1="107.0" x2="1953.0" y2="107.0" stroke="#000" stroke-width="2"/>
<text x="1959.2" y="116.3" font-size="26" text-anchor="start" font-weight="normal" font-style="normal" fill="#000">1.0</text>
<line x1="1940" y1="228.5" x2="1953.0" y2="228.5" stroke="#000" stroke-width="2"/>
<text x="1959.2" y="237.8" font-size="26" text-anchor="start" font-weight="normal" font-style="normal" fill="#000">0.5</text>
<line x1="1940" y1="350.0" x2="1953.0" y2="350.0" stroke="#000" stroke-width="2"/>
<text x="1959.2" y="359.3" font-size="26" text-anchor="start" font-weight="normal" font-style="normal" fill="#000">0.0</text>
<line x1="1572.5" y1="350" x2="1572.5" y2="364" stroke="#000" stroke-width="2"/>
<line x1="1663.8" y1="350" x2="1663.8" y2="364" stroke="#000" stroke-width="2"/>
<line x1="1755.5" y1="350" x2="1755.5" y2="364" stroke="#000" stroke-width="2"/>
<line x1="1847.0" y1="350" x2="1847.0" y2="364" stroke="#000" stroke-width="2"/>
<line x1="1938.2" y1="350" x2="1938.2" y2="364" stroke="#000" stroke-width="2"/>
<text x="1933.8" y="132.5" font-size="38.9" text-anchor="end" font-weight="normal" font-style="normal" fill="#595959">New Haven</text>
<line x1="1577.5" y1="240" x2="1621" y2="240" stroke="#e99cfa" stroke-width="3.8" stroke-linecap="round"/>
<line x1="1577.5" y1="269.3" x2="1621" y2="269.3" stroke="#8b30ff" stroke-width="3.8" stroke-linecap="round"/>
<line x1="1577.5" y1="299.5" x2="1621" y2="299.5" stroke="#3e3e3e" stroke-width="3.8" stroke-linecap="round"/>
<text x="1642.5" y="248.7" font-size="25.3" text-anchor="start" font-weight="normal" font-style="normal" fill="#000">Alpha</text>
<text x="1642.5" y="277.5" font-size="25.3" text-anchor="start" font-weight="normal" font-style="normal" fill="#000">Iota</text>
<text x="1642.5" y="308.0" font-size="25.3" text-anchor="start" font-weight="normal" font-style="normal" fill="#000">Other</text>
<polyline points="1564.2,617.7 1570.5,617.5 1576.8,617.3 1583.1,617.0 1589.4,616.7 1595.7,616.4 1602.0,616.1 1608.2,615.8 1614.5,615.4 1620.8,615.0 1627.1,614.6 1633.4,614.2 1639.7,613.7 1645.9,613.1 1652.2,612.6 1658.5,612.0 1664.8,611.3 1671.1,610.6 1677.3,609.9 1683.6,609.1 1689.9,608.2 1696.2,607.3 1702.5,606.3 1708.8,605.3 1715.0,604.2 1721.3,603.0 1727.6,601.7 1733.9,600.3 1740.2,598.9 1746.5,597.3 1752.8,595.7 1759.0,594.0 1765.3,592.1 1771.6,590.1 1777.9,588.1 1784.2,585.9 1790.5,583.6 1796.7,581.1 1803.0,578.5 1809.3,575.8 1815.6,573.0 1821.9,570.0 1828.2,566.9 1834.4,563.7 1840.7,560.3 1847.0,556.8 1853.3,553.2 1859.6,549.4 1865.8,545.6 1872.1,541.6 1878.4,537.5 1884.7,533.3 1891.0,529.0 1897.3,524.7 1903.5,520.2 1909.8,515.7 1916.1,511.2 1922.4,506.6 1928.7,502.1 1935.0,497.5 1941.2,492.9" fill="none" stroke="#8b30ff" stroke-width="3.6" stroke-linejoin="round" stroke-linecap="round"/>
<polyline points="1564.2,619.2 1570.5,619.1 1576.8,619.0 1583.1,618.8 1589.4,618.6 1595.7,618.4 1602.0,618.2 1608.2,617.9 1614.5,617.6 1620.8,617.3 1627.1,617.0 1633.4,616.6 1639.7,616.2 1645.9,615.7 1652.2,615.2 1658.5,614.7 1664.8,614.0 1671.1,613.4 1677.3,612.6 1683.6,611.8 1689.9,610.9 1696.2,609.8 1702.5,608.7 1708.8,607.5 1715.0,606.2 1721.3,604.7 1727.6,603.1 1733.9,601.4 1740.2,599.5 1746.5,597.4 1752.8,595.1 1759.0,592.7 1765.3,590.0 1771.6,587.2 1777.9,584.1 1784.2,580.8 1790.5,577.2 1796.7,573.4 1803.0,569.3 1809.3,565.0 1815.6,560.5 1821.9,555.7 1828.2,550.6 1834.4,545.4 1840.7,539.9 1847.0,534.2 1853.3,528.4 1859.6,522.4 1865.8,516.3 1872.1,510.1 1878.4,503.9 1884.7,497.6 1891.0,491.4 1897.3,485.2 1903.5,479.0 1909.8,473.0 1916.1,467.1 1922.4,461.4 1928.7,455.8 1935.0,450.5 1941.2,445.4" fill="none" stroke="#e99cfa" stroke-width="3.6" stroke-linejoin="round" stroke-linecap="round"/>
<polyline points="1564.2,379.9 1570.5,380.1 1576.8,380.3 1583.1,380.5 1589.4,380.8 1595.7,381.1 1602.0,381.5 1608.2,381.9 1614.5,382.4 1620.8,382.9 1627.1,383.5 1633.4,384.2 1639.7,385.0 1645.9,386.0 1652.2,387.0 1658.5,388.2 1664.8,389.6 1671.1,391.2 1677.3,393.0 1683.6,395.0 1689.9,397.3 1696.2,399.9 1702.5,402.8 1708.8,406.0 1715.0,409.7 1721.3,413.7 1727.6,418.2 1733.9,423.1 1740.2,428.4 1746.5,434.3 1752.8,440.6 1759.0,447.4 1765.3,454.5 1771.6,462.1 1777.9,470.0 1784.2,478.2 1790.5,486.6 1796.7,495.2 1803.0,503.7 1809.3,512.3 1815.6,520.7 1821.9,528.9 1828.2,536.8 1834.4,544.4 1840.7,551.6 1847.0,558.4 1853.3,564.7 1859.6,570.6 1865.8,576.0 1872.1,580.9 1878.4,585.4 1884.7,589.4 1891.0,593.1 1897.3,596.3 1903.5,599.3 1909.8,601.9 1916.1,604.2 1922.4,606.2 1928.7,608.0 1935.0,609.6 1941.2,611.0" fill="none" stroke="#3e3e3e" stroke-width="3.6" stroke-linejoin="round" stroke-linecap="round"/>
<rect x="1564.25" y="367" width="377.0" height="253.5" fill="none" stroke="#000" stroke-width="2"/>
<line x1="1941.25" y1="378.8" x2="1954.2" y2="378.8" stroke="#000" stroke-width="2"/>
<text x="1960.5" y="388.1" font-size="26" text-anchor="start" font-weight="normal" font-style="normal" fill="#000">1.0</text>
<line x1="1941.25" y1="499.6" x2="1954.2" y2="499.6" stroke="#000" stroke-width="2"/>
<text x="1960.5" y="508.9" font-size="26" text-anchor="start" font-weight="normal" font-style="normal" fill="#000">0.5</text>
<line x1="1941.25" y1="620.5" x2="1954.2" y2="620.5" stroke="#000" stroke-width="2"/>
<text x="1960.5" y="629.8" font-size="26" text-anchor="start" font-weight="normal" font-style="normal" fill="#000">0.0</text>
<line x1="1574.2" y1="620.5" x2="1574.2" y2="634.5" stroke="#000" stroke-width="2"/>
<line x1="1665.5" y1="620.5" x2="1665.5" y2="634.5" stroke="#000" stroke-width="2"/>
<line x1="1757.5" y1="620.5" x2="1757.5" y2="634.5" stroke="#000" stroke-width="2"/>
<line x1="1848.8" y1="620.5" x2="1848.8" y2="634.5" stroke="#000" stroke-width="2"/>
<line x1="1940.0" y1="620.5" x2="1940.0" y2="634.5" stroke="#000" stroke-width="2"/>
<text x="1932.8" y="405.5" font-size="38.9" text-anchor="end" font-weight="normal" font-style="normal" fill="#595959">Fairfield</text>
<polyline points="1593.8,858.2 1599.6,857.0 1605.4,855.8 1611.3,854.6 1617.1,853.3 1623.0,852.0 1628.8,850.7 1634.7,849.3 1640.5,847.9 1646.4,846.4 1652.2,844.9 1658.1,843.4 1663.9,841.8 1669.7,840.2 1675.6,838.6 1681.4,836.9 1687.3,835.2 1693.1,833.4 1699.0,831.6 1704.8,829.7 1710.7,827.9 1716.5,825.9 1722.4,824.0 1728.2,822.0 1734.0,819.9 1739.9,817.9 1745.7,815.8 1751.6,813.6 1757.4,811.4 1763.3,809.2 1769.1,807.0 1775.0,804.7 1780.8,802.4 1786.7,800.1 1792.5,797.8 1798.4,795.4 1804.2,793.0 1810.0,790.6 1815.9,788.2 1821.7,785.7 1827.6,783.2 1833.4,780.8 1839.3,778.3 1845.1,775.8 1851.0,773.3 1856.8,770.8 1862.7,768.3 1868.5,765.8 1874.3,763.3 1880.2,760.8 1886.0,758.3 1891.9,755.8 1897.7,753.3 1903.6,750.8 1909.4,748.4 1915.3,746.0 1921.1,743.5 1927.0,741.1 1932.8,738.8 1938.7,736.4 1944.5,734.1" fill="none" stroke="#8b30ff" stroke-width="3.6" stroke-linejoin="round" stroke-linecap="round"/>
<polyline points="1593.8,888.4 1599.6,888.2 1605.4,888.1 1611.3,887.9 1617.1,887.7 1623.0,887.5 1628.8,887.3 1634.7,887.1 1640.5,886.8 1646.4,886.5 1652.2,886.2 1658.1,885.9 1663.9,885.5 1669.7,885.2 1675.6,884.7 1681.4,884.3 1687.3,883.8 1693.1,883.2 1699.0,882.6 1704.8,882.0 1710.7,881.3 1716.5,880.6 1722.4,879.7 1728.2,878.9 1734.0,877.9 1739.9,876.9 1745.7,875.8 1751.6,874.6 1757.4,873.3 1763.3,871.9 1769.1,870.4 1775.0,868.8 1780.8,867.1 1786.7,865.3 1792.5,863.3 1798.4,861.2 1804.2,859.0 1810.0,856.6 1815.9,854.0 1821.7,851.3 1827.6,848.4 1833.4,845.4 1839.3,842.2 1845.1,838.8 1851.0,835.2 1856.8,831.5 1862.7,827.6 1868.5,823.5 1874.3,819.3 1880.2,814.9 1886.0,810.4 1891.9,805.8 1897.7,801.0 1903.6,796.1 1909.4,791.1 1915.3,786.0 1921.1,780.8 1927.0,775.7 1932.8,770.4 1938.7,765.2 1944.5,760.0" fill="none" stroke="#e99cfa" stroke-width="3.6" stroke-linejoin="round" stroke-linecap="round"/>
<polyline points="1593.8,661.8 1599.6,663.2 1605.4,664.7 1611.3,666.3 1617.1,668.0 1623.0,669.9 1628.8,671.9 1634.7,674.0 1640.5,676.3 1646.4,678.8 1652.2,681.4 1658.1,684.3 1663.9,687.3 1669.7,690.4 1675.6,693.8 1681.4,697.4 1687.3,701.1 1693.1,705.1 1699.0,709.2 1704.8,713.6 1710.7,718.1 1716.5,722.7 1722.4,727.6 1728.2,732.5 1734.0,737.7 1739.9,742.9 1745.7,748.2 1751.6,753.6 1757.4,759.1 1763.3,764.6 1769.1,770.1 1775.0,775.6 1780.8,781.1 1786.7,786.6 1792.5,791.9 1798.4,797.2 1804.2,802.3 1810.0,807.3 1815.9,812.2 1821.7,816.9 1827.6,821.5 1833.4,825.9 1839.3,830.0 1845.1,834.0 1851.0,837.9 1856.8,841.5 1862.7,844.9 1868.5,848.1 1874.3,851.2 1880.2,854.1 1886.0,856.7 1891.9,859.3 1897.7,861.6 1903.6,863.8 1909.4,865.9 1915.3,867.8 1921.1,869.5 1927.0,871.2 1932.8,872.7 1938.7,874.1 1944.5,875.4" fill="none" stroke="#3e3e3e" stroke-width="3.6" stroke-linejoin="round" stroke-linecap="round"/>
<rect x="1566.25" y="635" width="378.2" height="255.0" fill="none" stroke="#000" stroke-width="2"/>
<line x1="1944.5" y1="646.2" x2="1957.5" y2="646.2" stroke="#000" stroke-width="2"/>
<text x="1963.7" y="655.5" font-size="26" text-anchor="start" font-weight="normal" font-style="normal" fill="#000">1.0</text>
<line x1="1944.5" y1="768.1" x2="1957.5" y2="768.1" stroke="#000" stroke-width="2"/>
<text x="1963.7" y="777.4" font-size="26" text-anchor="start" font-weight="normal" font-style="normal" fill="#000">0.5</text>
<line x1="1944.5" y1="890.0" x2="1957.5" y2="890.0" stroke="#000" stroke-width="2"/>
<text x="1963.7" y="899.3" font-size="26" text-anchor="start" font-weight="normal" font-style="normal" fill="#000">0.0</text>
<line x1="1575.8" y1="890" x2="1575.8" y2="904" stroke="#000" stroke-width="2"/>
<line x1="1667.5" y1="890" x2="1667.5" y2="904" stroke="#000" stroke-width="2"/>
<line x1="1759.5" y1="890" x2="1759.5" y2="904" stroke="#000" stroke-width="2"/>
<line x1="1851.2" y1="890" x2="1851.2" y2="904" stroke="#000" stroke-width="2"/>
<line x1="1943.2" y1="890" x2="1943.2" y2="904" stroke="#000" stroke-width="2"/>
<text x="1936.5" y="677.0" font-size="38.9" text-anchor="end" font-weight="normal" font-style="normal" fill="#595959">New York City</text>
<text x="1575.5" y="934.0" font-size="26.8" text-anchor="middle" font-weight="normal" font-style="normal" fill="#000">Dec.</text>
<text x="1667.5" y="934.0" font-size="26.8" text-anchor="middle" font-weight="normal" font-style="normal" fill="#000">Jan.</text>
<text x="1759.5" y="934.0" font-size="26.8" text-anchor="middle" font-weight="normal" font-style="normal" fill="#000">Feb.</text>
<text x="1851.2" y="934.0" font-size="26.8" text-anchor="middle" font-weight="normal" font-style="normal" fill="#000">Apr.</text>
<text x="1943.2" y="934.0" font-size="26.8" text-anchor="middle" font-weight="normal" font-style="normal" fill="#000">May</text>
<text x="1512.6" y="983.6" font-size="35" text-anchor="start" font-weight="normal" font-style="normal" fill="#000">(e)</text>
<text x="1777.4" y="988.6" font-size="30.6" text-anchor="middle" font-weight="normal" font-style="normal" fill="#000">Mean daily growth rate</text>
<rect x="1545.4" y="1069.6" width="27.2" height="164.1" fill="#e3b0f7" stroke="#111" stroke-width="1.8"/>
<rect x="1578.6" y="1152.4" width="26.8" height="81.3" fill="#8069f5" stroke="#111" stroke-width="1.8"/>
<rect x="1611.7" y="1233.7" width="26.9" height="224.2" fill="#7a7a7a" stroke="#111" stroke-width="1.8"/>
<rect x="1672.8" y="1090.6" width="27.2" height="143.1" fill="#e3b0f7" stroke="#111" stroke-width="1.8"/>
<rect x="1706.0" y="1129.7" width="26.9" height="104.0" fill="#8069f5" stroke="#111" stroke-width="1.8"/>
<rect x="1739.2" y="1233.7" width="26.8" height="217.2" fill="#7a7a7a" stroke="#111" stroke-width="1.8"/>
<rect x="1800.3" y="1095.4" width="26.9" height="138.3" fill="#e3b0f7" stroke="#111" stroke-width="1.8"/>
<rect x="1832.8" y="1171.6" width="26.8" height="62.1" fill="#8069f5" stroke="#111" stroke-width="1.8"/>
<rect x="1865.9" y="1233.7" width="26.9" height="135.1" fill="#7a7a7a" stroke="#111" stroke-width="1.8"/>
<line x1="1530.7" y1="1233.7" x2="1907.8" y2="1233.7" stroke="#222" stroke-width="1.6" stroke-dasharray="1.5,2.5"/>
<rect x="1530.7" y="997.7" width="377.1" height="472.4" fill="none" stroke="#000" stroke-width="2"/>
<line x1="1907.8" y1="1037.1" x2="1922.3" y2="1037.1" stroke="#000" stroke-width="2"/>
<text x="1927.0" y="1046.4" font-size="26" text-anchor="start" font-weight="normal" font-style="normal" fill="#000">0.05</text>
<line x1="1907.8" y1="1136" x2="1922.3" y2="1136" stroke="#000" stroke-width="2"/>
<line x1="1907.8" y1="1233.7" x2="1922.3" y2="1233.7" stroke="#000" stroke-width="2"/>
<text x="1927.0" y="1243.0" font-size="26" text-anchor="start" font-weight="normal" font-style="normal" fill="#000">0.00</text>
<line x1="1907.8" y1="1332.2" x2="1922.3" y2="1332.2" stroke="#000" stroke-width="2"/>
<line x1="1907.8" y1="1430.6" x2="1922.3" y2="1430.6" stroke="#000" stroke-width="2"/>
<text x="1927.0" y="1439.9" font-size="26" text-anchor="start" font-weight="normal" font-style="normal" fill="#000">-0.05</text>
<text x="1591.7" y="1510.3" font-size="27.9" text-anchor="middle" font-weight="normal" font-style="normal" fill="#000">New Haven</text>
<text x="1721.5" y="1510.3" font-size="27.9" text-anchor="middle" font-weight="normal" font-style="normal" fill="#000">Fairfield</text>
<text x="1870.2" y="1510.3" font-size="27.9" text-anchor="middle" font-weight="normal" font-style="normal" fill="#000">New York City</text>
</svg>
</body></html>
